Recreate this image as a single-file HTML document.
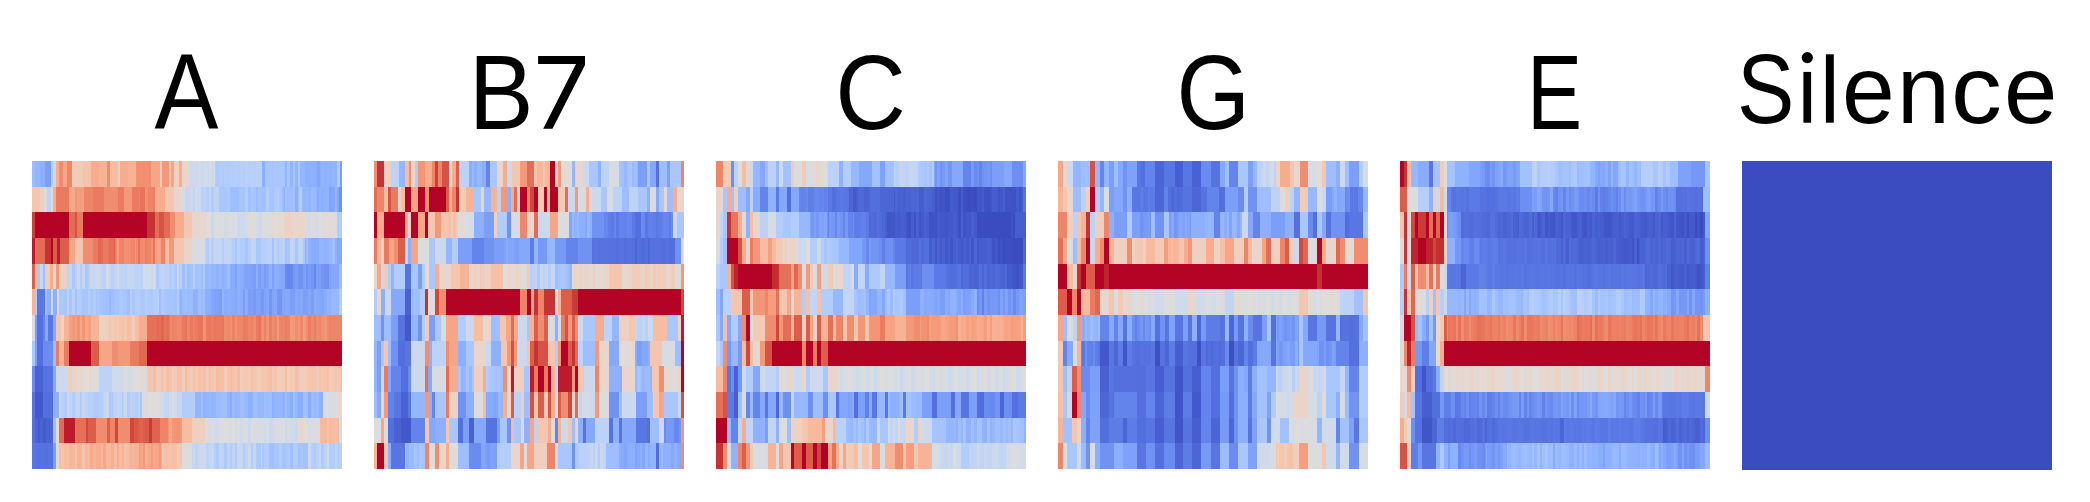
<!DOCTYPE html>
<html><head><meta charset="utf-8"><style>
html,body{margin:0;padding:0;background:#fff;}
body{width:2090px;height:502px;position:relative;overflow:hidden;}
.p{position:absolute;top:161px;display:block;}
.sil{position:absolute;left:1742px;top:161px;width:310px;height:309px;background:#3b4cc0;}
.t{position:absolute;left:0;top:0;transform-origin:0 0;font-family:"Liberation Sans",sans-serif;color:#000;white-space:nowrap;line-height:1;}
</style></head><body>
<svg class="p" style="left:32px" width="310" height="308" viewBox="0 0 310 308" shape-rendering="crispEdges"><rect x="0" y="0" width="3" height="26" fill="#9bbcff"/><rect x="3" y="0" width="5" height="26" fill="#94b6ff"/><rect x="8" y="0" width="5" height="26" fill="#8db0fe"/><rect x="13" y="0" width="6" height="26" fill="#7b9ff9"/><rect x="19" y="0" width="2" height="26" fill="#b3cdfb"/><rect x="21" y="0" width="3" height="26" fill="#cbd8ee"/><rect x="24" y="0" width="3" height="26" fill="#f7ac8e"/><rect x="27" y="0" width="4" height="26" fill="#f18d6f"/><rect x="31" y="0" width="4" height="26" fill="#f6a586"/><rect x="35" y="0" width="5" height="26" fill="#ee8468"/><rect x="40" y="0" width="11" height="26" fill="#f2cbb7"/><rect x="51" y="0" width="8" height="26" fill="#f5c2aa"/><rect x="59" y="0" width="8" height="26" fill="#f7ac8e"/><rect x="67" y="0" width="8" height="26" fill="#f7b396"/><rect x="75" y="0" width="3" height="26" fill="#f18d6f"/><rect x="78" y="0" width="8" height="26" fill="#f6bda2"/><rect x="86" y="0" width="2" height="26" fill="#efcfbf"/><rect x="88" y="0" width="8" height="26" fill="#f7ac8e"/><rect x="96" y="0" width="8" height="26" fill="#f7b396"/><rect x="104" y="0" width="2" height="26" fill="#f29274"/><rect x="106" y="0" width="2" height="26" fill="#f18f71"/><rect x="108" y="0" width="3" height="26" fill="#f29072"/><rect x="111" y="0" width="2" height="26" fill="#f18d6f"/><rect x="113" y="0" width="3" height="26" fill="#f29072"/><rect x="116" y="0" width="3" height="26" fill="#f18d6f"/><rect x="119" y="0" width="9" height="26" fill="#f6a586"/><rect x="128" y="0" width="2" height="26" fill="#f2cbb7"/><rect x="130" y="0" width="7" height="26" fill="#f4987a"/><rect x="137" y="0" width="2" height="26" fill="#f4c6af"/><rect x="139" y="0" width="3" height="26" fill="#f6a586"/><rect x="142" y="0" width="5" height="26" fill="#efcfbf"/><rect x="147" y="0" width="3" height="26" fill="#f7ac8e"/><rect x="150" y="0" width="8" height="26" fill="#e9d5cb"/><rect x="158" y="0" width="3" height="26" fill="#cbd8ee"/><rect x="161" y="0" width="2" height="26" fill="#cedaeb"/><rect x="163" y="0" width="3" height="26" fill="#ccd9ed"/><rect x="166" y="0" width="3" height="26" fill="#cfdaea"/><rect x="169" y="0" width="2" height="26" fill="#ccd9ed"/><rect x="171" y="0" width="3" height="26" fill="#d1dae9"/><rect x="174" y="0" width="3" height="26" fill="#cdd9ec"/><rect x="177" y="0" width="2" height="26" fill="#d2dbe8"/><rect x="179" y="0" width="3" height="26" fill="#cedaeb"/><rect x="182" y="0" width="1" height="26" fill="#d3dbe7"/><rect x="183" y="0" width="1" height="26" fill="#b2ccfb"/><rect x="184" y="0" width="3" height="26" fill="#aec9fc"/><rect x="187" y="0" width="3" height="26" fill="#b3cdfb"/><rect x="190" y="0" width="2" height="26" fill="#afcafc"/><rect x="192" y="0" width="3" height="26" fill="#b3cdfb"/><rect x="195" y="0" width="3" height="26" fill="#b1cbfc"/><rect x="198" y="0" width="2" height="26" fill="#b5cdfa"/><rect x="200" y="0" width="3" height="26" fill="#b2ccfb"/><rect x="203" y="0" width="2" height="26" fill="#b6cefa"/><rect x="205" y="0" width="3" height="26" fill="#b3cdfb"/><rect x="208" y="0" width="3" height="26" fill="#b7cff9"/><rect x="211" y="0" width="2" height="26" fill="#b5cdfa"/><rect x="213" y="0" width="3" height="26" fill="#b9d0f9"/><rect x="216" y="0" width="3" height="26" fill="#b6cefa"/><rect x="219" y="0" width="2" height="26" fill="#bad0f8"/><rect x="221" y="0" width="3" height="26" fill="#b6cefa"/><rect x="224" y="0" width="2" height="26" fill="#bbd1f8"/><rect x="226" y="0" width="3" height="26" fill="#b7cff9"/><rect x="229" y="0" width="1" height="26" fill="#bcd2f7"/><rect x="230" y="0" width="3" height="26" fill="#8db0fe"/><rect x="233" y="0" width="1" height="26" fill="#a7c5fe"/><rect x="234" y="0" width="3" height="26" fill="#a6c4fe"/><rect x="237" y="0" width="3" height="26" fill="#a9c6fd"/><rect x="240" y="0" width="2" height="26" fill="#a6c4fe"/><rect x="242" y="0" width="3" height="26" fill="#aac7fd"/><rect x="245" y="0" width="2" height="26" fill="#a7c5fe"/><rect x="247" y="0" width="3" height="26" fill="#aac7fd"/><rect x="250" y="0" width="3" height="26" fill="#a7c5fe"/><rect x="253" y="0" width="2" height="26" fill="#93b5fe"/><rect x="255" y="0" width="3" height="26" fill="#a9c6fd"/><rect x="258" y="0" width="3" height="26" fill="#93b5fe"/><rect x="261" y="0" width="2" height="26" fill="#aac7fd"/><rect x="263" y="0" width="3" height="26" fill="#94b6ff"/><rect x="266" y="0" width="2" height="26" fill="#abc8fd"/><rect x="268" y="0" width="3" height="26" fill="#94b6ff"/><rect x="271" y="0" width="2" height="26" fill="#93b5fe"/><rect x="273" y="0" width="12" height="26" fill="#8db0fe"/><rect x="285" y="0" width="3" height="26" fill="#82a6fb"/><rect x="288" y="0" width="1" height="26" fill="#8db0fe"/><rect x="289" y="0" width="3" height="26" fill="#92b4fe"/><rect x="292" y="0" width="3" height="26" fill="#8fb1fe"/><rect x="295" y="0" width="2" height="26" fill="#92b4fe"/><rect x="297" y="0" width="3" height="26" fill="#90b2fe"/><rect x="300" y="0" width="3" height="26" fill="#93b5fe"/><rect x="303" y="0" width="2" height="26" fill="#90b2fe"/><rect x="305" y="0" width="3" height="26" fill="#b3cdfb"/><rect x="308" y="0" width="2" height="26" fill="#7b9ff9"/><rect x="0" y="26" width="8" height="25" fill="#f4c6af"/><rect x="8" y="26" width="4" height="25" fill="#efcfbf"/><rect x="12" y="26" width="3" height="25" fill="#dddcdc"/><rect x="15" y="26" width="4" height="25" fill="#bcd2f7"/><rect x="19" y="26" width="2" height="25" fill="#dddcdc"/><rect x="21" y="26" width="3" height="25" fill="#f7ac8e"/><rect x="24" y="26" width="13" height="25" fill="#ea7b60"/><rect x="37" y="26" width="3" height="25" fill="#f7a688"/><rect x="40" y="26" width="3" height="25" fill="#f7a98b"/><rect x="43" y="26" width="2" height="25" fill="#f39778"/><rect x="45" y="26" width="3" height="25" fill="#f59d7e"/><rect x="48" y="26" width="2" height="25" fill="#f59c7d"/><rect x="50" y="26" width="2" height="25" fill="#f5a081"/><rect x="52" y="26" width="9" height="25" fill="#ee8468"/><rect x="61" y="26" width="11" height="25" fill="#ea7b60"/><rect x="72" y="26" width="14" height="25" fill="#f18d6f"/><rect x="86" y="26" width="6" height="25" fill="#ea7b60"/><rect x="92" y="26" width="8" height="25" fill="#f4987a"/><rect x="100" y="26" width="7" height="25" fill="#ea7b60"/><rect x="107" y="26" width="1" height="25" fill="#ed8366"/><rect x="108" y="26" width="5" height="25" fill="#e7745b"/><rect x="113" y="26" width="3" height="25" fill="#f29072"/><rect x="116" y="26" width="3" height="25" fill="#ed8366"/><rect x="119" y="26" width="2" height="25" fill="#ee8468"/><rect x="121" y="26" width="2" height="25" fill="#eb7d62"/><rect x="123" y="26" width="10" height="25" fill="#f7ac8e"/><rect x="133" y="26" width="9" height="25" fill="#f4c6af"/><rect x="142" y="26" width="8" height="25" fill="#e9d5cb"/><rect x="150" y="26" width="3" height="25" fill="#d6dce4"/><rect x="153" y="26" width="2" height="25" fill="#c6d6f1"/><rect x="155" y="26" width="3" height="25" fill="#c7d7f0"/><rect x="158" y="26" width="3" height="25" fill="#cedaeb"/><rect x="161" y="26" width="2" height="25" fill="#c3d5f4"/><rect x="163" y="26" width="3" height="25" fill="#d2dbe8"/><rect x="166" y="26" width="3" height="25" fill="#cbd8ee"/><rect x="169" y="26" width="2" height="25" fill="#b9d0f9"/><rect x="171" y="26" width="3" height="25" fill="#bbd1f8"/><rect x="174" y="26" width="3" height="25" fill="#b5cdfa"/><rect x="177" y="26" width="2" height="25" fill="#c1d4f4"/><rect x="179" y="26" width="3" height="25" fill="#b2ccfb"/><rect x="182" y="26" width="2" height="25" fill="#bfd3f6"/><rect x="184" y="26" width="3" height="25" fill="#c1d4f4"/><rect x="187" y="26" width="3" height="25" fill="#abc8fd"/><rect x="190" y="26" width="2" height="25" fill="#aac7fd"/><rect x="192" y="26" width="3" height="25" fill="#a9c6fd"/><rect x="195" y="26" width="3" height="25" fill="#afcafc"/><rect x="198" y="26" width="9" height="25" fill="#9ebeff"/><rect x="207" y="26" width="1" height="25" fill="#a5c3fe"/><rect x="208" y="26" width="3" height="25" fill="#a7c5fe"/><rect x="211" y="26" width="2" height="25" fill="#a5c3fe"/><rect x="213" y="26" width="3" height="25" fill="#b5cdfa"/><rect x="216" y="26" width="3" height="25" fill="#a1c0ff"/><rect x="219" y="26" width="2" height="25" fill="#abc8fd"/><rect x="221" y="26" width="3" height="25" fill="#a6c4fe"/><rect x="224" y="26" width="2" height="25" fill="#9bbcff"/><rect x="226" y="26" width="3" height="25" fill="#a5c3fe"/><rect x="229" y="26" width="3" height="25" fill="#a1c0ff"/><rect x="232" y="26" width="2" height="25" fill="#a3c2fe"/><rect x="234" y="26" width="3" height="25" fill="#b3cdfb"/><rect x="237" y="26" width="3" height="25" fill="#a7c5fe"/><rect x="240" y="26" width="2" height="25" fill="#a5c3fe"/><rect x="242" y="26" width="3" height="25" fill="#afcafc"/><rect x="245" y="26" width="2" height="25" fill="#b3cdfb"/><rect x="247" y="26" width="3" height="25" fill="#abc8fd"/><rect x="250" y="26" width="2" height="25" fill="#9dbdff"/><rect x="252" y="26" width="1" height="25" fill="#8fb1fe"/><rect x="253" y="26" width="2" height="25" fill="#a1c0ff"/><rect x="255" y="26" width="6" height="25" fill="#9ebeff"/><rect x="261" y="26" width="2" height="25" fill="#a3c2fe"/><rect x="263" y="26" width="3" height="25" fill="#8db0fe"/><rect x="266" y="26" width="1" height="25" fill="#a1c0ff"/><rect x="267" y="26" width="3" height="25" fill="#b3cdfb"/><rect x="270" y="26" width="1" height="25" fill="#98b9ff"/><rect x="271" y="26" width="3" height="25" fill="#94b6ff"/><rect x="274" y="26" width="2" height="25" fill="#97b8ff"/><rect x="276" y="26" width="3" height="25" fill="#92b4fe"/><rect x="279" y="26" width="3" height="25" fill="#9abbff"/><rect x="282" y="26" width="2" height="25" fill="#98b9ff"/><rect x="284" y="26" width="1" height="25" fill="#93b5fe"/><rect x="285" y="26" width="2" height="25" fill="#88abfd"/><rect x="287" y="26" width="2" height="25" fill="#92b4fe"/><rect x="289" y="26" width="3" height="25" fill="#8caffe"/><rect x="292" y="26" width="3" height="25" fill="#90b2fe"/><rect x="295" y="26" width="2" height="25" fill="#92b4fe"/><rect x="297" y="26" width="3" height="25" fill="#81a4fb"/><rect x="300" y="26" width="3" height="25" fill="#84a7fc"/><rect x="303" y="26" width="2" height="25" fill="#94b6ff"/><rect x="305" y="26" width="2" height="25" fill="#84a7fc"/><rect x="307" y="26" width="3" height="25" fill="#7093f3"/><rect x="0" y="51" width="3" height="26" fill="#cc403a"/><rect x="3" y="51" width="34" height="26" fill="#b40426"/><rect x="37" y="51" width="6" height="26" fill="#e36c55"/><rect x="43" y="51" width="2" height="26" fill="#d65244"/><rect x="45" y="51" width="6" height="26" fill="#ea7b60"/><rect x="51" y="51" width="64" height="26" fill="#b40426"/><rect x="115" y="51" width="8" height="26" fill="#c53334"/><rect x="123" y="51" width="4" height="26" fill="#e36c55"/><rect x="127" y="51" width="5" height="26" fill="#d65244"/><rect x="132" y="51" width="6" height="26" fill="#e36c55"/><rect x="138" y="51" width="5" height="26" fill="#f18d6f"/><rect x="143" y="51" width="9" height="26" fill="#f7ac8e"/><rect x="152" y="51" width="8" height="26" fill="#f4c6af"/><rect x="160" y="51" width="13" height="26" fill="#e9d5cb"/><rect x="173" y="51" width="1" height="26" fill="#cfdaea"/><rect x="174" y="51" width="3" height="26" fill="#e0dbd8"/><rect x="177" y="51" width="2" height="26" fill="#dfdbd9"/><rect x="179" y="51" width="3" height="26" fill="#c9d7f0"/><rect x="182" y="51" width="2" height="26" fill="#dddcdc"/><rect x="184" y="51" width="3" height="26" fill="#dbdcde"/><rect x="187" y="51" width="3" height="26" fill="#d6dce4"/><rect x="190" y="51" width="2" height="26" fill="#d9dce1"/><rect x="192" y="51" width="3" height="26" fill="#d5dbe5"/><rect x="195" y="51" width="3" height="26" fill="#d6dce4"/><rect x="198" y="51" width="2" height="26" fill="#dbdcde"/><rect x="200" y="51" width="3" height="26" fill="#d8dce2"/><rect x="203" y="51" width="2" height="26" fill="#d9dce1"/><rect x="205" y="51" width="3" height="26" fill="#cdd9ec"/><rect x="208" y="51" width="3" height="26" fill="#cedaeb"/><rect x="211" y="51" width="2" height="26" fill="#ccd9ed"/><rect x="213" y="51" width="3" height="26" fill="#cfdaea"/><rect x="216" y="51" width="3" height="26" fill="#e0dbd8"/><rect x="219" y="51" width="2" height="26" fill="#dedcdb"/><rect x="221" y="51" width="3" height="26" fill="#e0dbd8"/><rect x="224" y="51" width="2" height="26" fill="#d8dce2"/><rect x="226" y="51" width="3" height="26" fill="#cdd9ec"/><rect x="229" y="51" width="1" height="26" fill="#cad8ef"/><rect x="230" y="51" width="2" height="26" fill="#dadce0"/><rect x="232" y="51" width="2" height="26" fill="#dbdcde"/><rect x="234" y="51" width="3" height="26" fill="#dadce0"/><rect x="237" y="51" width="3" height="26" fill="#d9dce1"/><rect x="240" y="51" width="2" height="26" fill="#e6d7cf"/><rect x="242" y="51" width="3" height="26" fill="#e0dbd8"/><rect x="245" y="51" width="2" height="26" fill="#e7d7ce"/><rect x="247" y="51" width="3" height="26" fill="#e3d9d3"/><rect x="250" y="51" width="2" height="26" fill="#e2dad5"/><rect x="252" y="51" width="1" height="26" fill="#ebd3c6"/><rect x="253" y="51" width="5" height="26" fill="#edd2c3"/><rect x="258" y="51" width="3" height="26" fill="#ecd3c5"/><rect x="261" y="51" width="2" height="26" fill="#e7d7ce"/><rect x="263" y="51" width="5" height="26" fill="#e9d5cb"/><rect x="268" y="51" width="3" height="26" fill="#ead5c9"/><rect x="271" y="51" width="2" height="26" fill="#e4d9d2"/><rect x="273" y="51" width="1" height="26" fill="#d3dbe7"/><rect x="274" y="51" width="2" height="26" fill="#e3d9d3"/><rect x="276" y="51" width="3" height="26" fill="#d3dbe7"/><rect x="279" y="51" width="3" height="26" fill="#e0dbd8"/><rect x="282" y="51" width="2" height="26" fill="#d9dce1"/><rect x="284" y="51" width="3" height="26" fill="#d8dce2"/><rect x="287" y="51" width="2" height="26" fill="#dcdddd"/><rect x="289" y="51" width="3" height="26" fill="#d8dce2"/><rect x="292" y="51" width="3" height="26" fill="#e4d9d2"/><rect x="295" y="51" width="2" height="26" fill="#e1dad6"/><rect x="297" y="51" width="3" height="26" fill="#dfdbd9"/><rect x="300" y="51" width="3" height="26" fill="#e1dad6"/><rect x="303" y="51" width="2" height="26" fill="#dddcdc"/><rect x="305" y="51" width="5" height="26" fill="#b3cdfb"/><rect x="0" y="77" width="3" height="26" fill="#bb1b2c"/><rect x="3" y="77" width="10" height="26" fill="#e36c55"/><rect x="13" y="77" width="6" height="26" fill="#c53334"/><rect x="19" y="77" width="2" height="26" fill="#b40426"/><rect x="21" y="77" width="4" height="26" fill="#dc5d4a"/><rect x="25" y="77" width="3" height="26" fill="#bb1b2c"/><rect x="28" y="77" width="9" height="26" fill="#dc5d4a"/><rect x="37" y="77" width="6" height="26" fill="#f6a586"/><rect x="43" y="77" width="8" height="26" fill="#f4c6af"/><rect x="51" y="77" width="10" height="26" fill="#f18d6f"/><rect x="61" y="77" width="5" height="26" fill="#ea7b60"/><rect x="66" y="77" width="3" height="26" fill="#e16751"/><rect x="69" y="77" width="2" height="26" fill="#e36c55"/><rect x="71" y="77" width="3" height="26" fill="#e97a5f"/><rect x="74" y="77" width="3" height="26" fill="#e9785d"/><rect x="77" y="77" width="2" height="26" fill="#e36c55"/><rect x="79" y="77" width="3" height="26" fill="#e46e56"/><rect x="82" y="77" width="1" height="26" fill="#dd5f4b"/><rect x="83" y="77" width="2" height="26" fill="#ee8468"/><rect x="85" y="77" width="2" height="26" fill="#f59d7e"/><rect x="87" y="77" width="3" height="26" fill="#ee8468"/><rect x="90" y="77" width="2" height="26" fill="#ed8366"/><rect x="92" y="77" width="3" height="26" fill="#f29072"/><rect x="95" y="77" width="3" height="26" fill="#f18f71"/><rect x="98" y="77" width="2" height="26" fill="#f08b6e"/><rect x="100" y="77" width="3" height="26" fill="#ee8669"/><rect x="103" y="77" width="1" height="26" fill="#f39778"/><rect x="104" y="77" width="2" height="26" fill="#f08a6c"/><rect x="106" y="77" width="2" height="26" fill="#e7745b"/><rect x="108" y="77" width="3" height="26" fill="#f08a6c"/><rect x="111" y="77" width="2" height="26" fill="#f18f71"/><rect x="113" y="77" width="3" height="26" fill="#ec8165"/><rect x="116" y="77" width="3" height="26" fill="#ee8669"/><rect x="119" y="77" width="2" height="26" fill="#f29072"/><rect x="121" y="77" width="2" height="26" fill="#e7745b"/><rect x="123" y="77" width="6" height="26" fill="#f6a586"/><rect x="129" y="77" width="4" height="26" fill="#ee8468"/><rect x="133" y="77" width="4" height="26" fill="#f6bda2"/><rect x="137" y="77" width="5" height="26" fill="#f4987a"/><rect x="142" y="77" width="10" height="26" fill="#f4c6af"/><rect x="152" y="77" width="8" height="26" fill="#ebd3c6"/><rect x="160" y="77" width="13" height="26" fill="#d7dce3"/><rect x="173" y="77" width="1" height="26" fill="#bcd2f7"/><rect x="174" y="77" width="3" height="26" fill="#b3cdfb"/><rect x="177" y="77" width="2" height="26" fill="#c7d7f0"/><rect x="179" y="77" width="3" height="26" fill="#b7cff9"/><rect x="182" y="77" width="2" height="26" fill="#c6d6f1"/><rect x="184" y="77" width="3" height="26" fill="#c3d5f4"/><rect x="187" y="77" width="3" height="26" fill="#c6d6f1"/><rect x="190" y="77" width="2" height="26" fill="#b5cdfa"/><rect x="192" y="77" width="3" height="26" fill="#c4d5f3"/><rect x="195" y="77" width="3" height="26" fill="#c3d5f4"/><rect x="198" y="77" width="1" height="26" fill="#c4d5f3"/><rect x="199" y="77" width="1" height="26" fill="#bbd1f8"/><rect x="200" y="77" width="3" height="26" fill="#b5cdfa"/><rect x="203" y="77" width="2" height="26" fill="#a9c6fd"/><rect x="205" y="77" width="3" height="26" fill="#bcd2f7"/><rect x="208" y="77" width="3" height="26" fill="#b3cdfb"/><rect x="211" y="77" width="2" height="26" fill="#b2ccfb"/><rect x="213" y="77" width="3" height="26" fill="#a7c5fe"/><rect x="216" y="77" width="3" height="26" fill="#b6cefa"/><rect x="219" y="77" width="2" height="26" fill="#c3d5f4"/><rect x="221" y="77" width="3" height="26" fill="#c4d5f3"/><rect x="224" y="77" width="2" height="26" fill="#a6c4fe"/><rect x="226" y="77" width="3" height="26" fill="#aac7fd"/><rect x="229" y="77" width="5" height="26" fill="#b6cefa"/><rect x="234" y="77" width="3" height="26" fill="#bbd1f8"/><rect x="237" y="77" width="3" height="26" fill="#bcd2f7"/><rect x="240" y="77" width="2" height="26" fill="#a5c3fe"/><rect x="242" y="77" width="3" height="26" fill="#bcd2f7"/><rect x="245" y="77" width="2" height="26" fill="#b3cdfb"/><rect x="247" y="77" width="3" height="26" fill="#bad0f8"/><rect x="250" y="77" width="3" height="26" fill="#bed2f6"/><rect x="253" y="77" width="2" height="26" fill="#a3c2fe"/><rect x="255" y="77" width="3" height="26" fill="#a7c5fe"/><rect x="258" y="77" width="3" height="26" fill="#c4d5f3"/><rect x="261" y="77" width="2" height="26" fill="#c1d4f4"/><rect x="263" y="77" width="3" height="26" fill="#abc8fd"/><rect x="266" y="77" width="5" height="26" fill="#c1d4f4"/><rect x="271" y="77" width="2" height="26" fill="#aac7fd"/><rect x="273" y="77" width="1" height="26" fill="#8db0fe"/><rect x="274" y="77" width="2" height="26" fill="#9ebeff"/><rect x="276" y="77" width="3" height="26" fill="#90b2fe"/><rect x="279" y="77" width="3" height="26" fill="#89acfd"/><rect x="282" y="77" width="2" height="26" fill="#88abfd"/><rect x="284" y="77" width="3" height="26" fill="#89acfd"/><rect x="287" y="77" width="2" height="26" fill="#94b6ff"/><rect x="289" y="77" width="3" height="26" fill="#93b5fe"/><rect x="292" y="77" width="3" height="26" fill="#8fb1fe"/><rect x="295" y="77" width="2" height="26" fill="#93b5fe"/><rect x="297" y="77" width="3" height="26" fill="#97b8ff"/><rect x="300" y="77" width="3" height="26" fill="#9fbfff"/><rect x="303" y="77" width="2" height="26" fill="#8db0fe"/><rect x="305" y="77" width="5" height="26" fill="#85a8fc"/><rect x="0" y="103" width="3" height="25" fill="#dc5d4a"/><rect x="3" y="103" width="2" height="25" fill="#f6bda2"/><rect x="5" y="103" width="3" height="25" fill="#a9c6fd"/><rect x="8" y="103" width="3" height="25" fill="#cbd8ee"/><rect x="11" y="103" width="2" height="25" fill="#9ebeff"/><rect x="13" y="103" width="5" height="25" fill="#efcfbf"/><rect x="18" y="103" width="3" height="25" fill="#f7ac8e"/><rect x="21" y="103" width="3" height="25" fill="#e9d5cb"/><rect x="24" y="103" width="3" height="25" fill="#f4987a"/><rect x="27" y="103" width="8" height="25" fill="#efcfbf"/><rect x="35" y="103" width="2" height="25" fill="#c4d5f3"/><rect x="37" y="103" width="3" height="25" fill="#c6d6f1"/><rect x="40" y="103" width="3" height="25" fill="#abc8fd"/><rect x="43" y="103" width="2" height="25" fill="#bad0f8"/><rect x="45" y="103" width="3" height="25" fill="#cbd8ee"/><rect x="48" y="103" width="2" height="25" fill="#b2ccfb"/><rect x="50" y="103" width="3" height="25" fill="#c6d6f1"/><rect x="53" y="103" width="3" height="25" fill="#abc8fd"/><rect x="56" y="103" width="2" height="25" fill="#b7cff9"/><rect x="58" y="103" width="3" height="25" fill="#cad8ef"/><rect x="61" y="103" width="3" height="25" fill="#c5d6f2"/><rect x="64" y="103" width="2" height="25" fill="#cedaeb"/><rect x="66" y="103" width="3" height="25" fill="#cbd8ee"/><rect x="69" y="103" width="2" height="25" fill="#c0d4f5"/><rect x="71" y="103" width="3" height="25" fill="#bcd2f7"/><rect x="74" y="103" width="3" height="25" fill="#d2dbe8"/><rect x="77" y="103" width="2" height="25" fill="#c5d6f2"/><rect x="79" y="103" width="3" height="25" fill="#bad0f8"/><rect x="82" y="103" width="1" height="25" fill="#c0d4f5"/><rect x="83" y="103" width="2" height="25" fill="#c4d5f3"/><rect x="85" y="103" width="2" height="25" fill="#d1dae9"/><rect x="87" y="103" width="3" height="25" fill="#c1d4f4"/><rect x="90" y="103" width="2" height="25" fill="#c3d5f4"/><rect x="92" y="103" width="3" height="25" fill="#bcd2f7"/><rect x="95" y="103" width="3" height="25" fill="#c7d7f0"/><rect x="98" y="103" width="5" height="25" fill="#c5d6f2"/><rect x="103" y="103" width="3" height="25" fill="#bed2f6"/><rect x="106" y="103" width="2" height="25" fill="#c0d4f5"/><rect x="108" y="103" width="3" height="25" fill="#bcd2f7"/><rect x="111" y="103" width="2" height="25" fill="#d2dbe8"/><rect x="113" y="103" width="3" height="25" fill="#cfdaea"/><rect x="116" y="103" width="3" height="25" fill="#d1dae9"/><rect x="119" y="103" width="2" height="25" fill="#ccd9ed"/><rect x="121" y="103" width="2" height="25" fill="#d6dce4"/><rect x="123" y="103" width="1" height="25" fill="#cad8ef"/><rect x="124" y="103" width="3" height="25" fill="#adc9fd"/><rect x="127" y="103" width="2" height="25" fill="#bbd1f8"/><rect x="129" y="103" width="3" height="25" fill="#c3d5f4"/><rect x="132" y="103" width="5" height="25" fill="#bed2f6"/><rect x="137" y="103" width="3" height="25" fill="#b1cbfc"/><rect x="140" y="103" width="2" height="25" fill="#b9d0f9"/><rect x="142" y="103" width="3" height="25" fill="#aec9fc"/><rect x="145" y="103" width="2" height="25" fill="#c9d7f0"/><rect x="147" y="103" width="1" height="25" fill="#b5cdfa"/><rect x="148" y="103" width="2" height="25" fill="#b7cff9"/><rect x="150" y="103" width="3" height="25" fill="#a1c0ff"/><rect x="153" y="103" width="2" height="25" fill="#b2ccfb"/><rect x="155" y="103" width="3" height="25" fill="#9ebeff"/><rect x="158" y="103" width="3" height="25" fill="#a5c3fe"/><rect x="161" y="103" width="2" height="25" fill="#b9d0f9"/><rect x="163" y="103" width="3" height="25" fill="#a3c2fe"/><rect x="166" y="103" width="3" height="25" fill="#a7c5fe"/><rect x="169" y="103" width="2" height="25" fill="#9ebeff"/><rect x="171" y="103" width="2" height="25" fill="#aec9fc"/><rect x="173" y="103" width="4" height="25" fill="#97b8ff"/><rect x="177" y="103" width="2" height="25" fill="#9bbcff"/><rect x="179" y="103" width="3" height="25" fill="#93b5fe"/><rect x="182" y="103" width="2" height="25" fill="#98b9ff"/><rect x="184" y="103" width="3" height="25" fill="#90b2fe"/><rect x="187" y="103" width="3" height="25" fill="#96b7ff"/><rect x="190" y="103" width="2" height="25" fill="#8db0fe"/><rect x="192" y="103" width="3" height="25" fill="#93b5fe"/><rect x="195" y="103" width="3" height="25" fill="#9bbcff"/><rect x="198" y="103" width="1" height="25" fill="#90b2fe"/><rect x="199" y="103" width="1" height="25" fill="#82a6fb"/><rect x="200" y="103" width="3" height="25" fill="#88abfd"/><rect x="203" y="103" width="2" height="25" fill="#80a3fa"/><rect x="205" y="103" width="3" height="25" fill="#90b2fe"/><rect x="208" y="103" width="3" height="25" fill="#89acfd"/><rect x="211" y="103" width="2" height="25" fill="#85a8fc"/><rect x="213" y="103" width="6" height="25" fill="#80a3fa"/><rect x="219" y="103" width="2" height="25" fill="#7ea1fa"/><rect x="221" y="103" width="3" height="25" fill="#7b9ff9"/><rect x="224" y="103" width="2" height="25" fill="#8caffe"/><rect x="226" y="103" width="3" height="25" fill="#7b9ff9"/><rect x="229" y="103" width="3" height="25" fill="#82a6fb"/><rect x="232" y="103" width="2" height="25" fill="#7a9df8"/><rect x="234" y="103" width="3" height="25" fill="#80a3fa"/><rect x="237" y="103" width="3" height="25" fill="#90b2fe"/><rect x="240" y="103" width="2" height="25" fill="#7da0f9"/><rect x="242" y="103" width="5" height="25" fill="#8badfd"/><rect x="247" y="103" width="3" height="25" fill="#86a9fc"/><rect x="250" y="103" width="3" height="25" fill="#84a7fc"/><rect x="253" y="103" width="2" height="25" fill="#6a8bef"/><rect x="255" y="103" width="3" height="25" fill="#6485ec"/><rect x="258" y="103" width="3" height="25" fill="#6788ee"/><rect x="261" y="103" width="2" height="25" fill="#7597f6"/><rect x="263" y="103" width="3" height="25" fill="#7a9df8"/><rect x="266" y="103" width="5" height="25" fill="#7093f3"/><rect x="271" y="103" width="3" height="25" fill="#7da0f9"/><rect x="274" y="103" width="2" height="25" fill="#6f92f3"/><rect x="276" y="103" width="3" height="25" fill="#7a9df8"/><rect x="279" y="103" width="3" height="25" fill="#7396f5"/><rect x="282" y="103" width="2" height="25" fill="#6788ee"/><rect x="284" y="103" width="5" height="25" fill="#7b9ff9"/><rect x="289" y="103" width="3" height="25" fill="#7396f5"/><rect x="292" y="103" width="5" height="25" fill="#7093f3"/><rect x="297" y="103" width="2" height="25" fill="#7da0f9"/><rect x="299" y="103" width="8" height="25" fill="#85a8fc"/><rect x="307" y="103" width="3" height="25" fill="#9ebeff"/><rect x="0" y="128" width="3" height="26" fill="#f7b396"/><rect x="3" y="128" width="2" height="26" fill="#b3cdfb"/><rect x="5" y="128" width="8" height="26" fill="#5977e3"/><rect x="13" y="128" width="2" height="26" fill="#9ebeff"/><rect x="15" y="128" width="4" height="26" fill="#8db0fe"/><rect x="19" y="128" width="2" height="26" fill="#cbd8ee"/><rect x="21" y="128" width="4" height="26" fill="#8db0fe"/><rect x="25" y="128" width="2" height="26" fill="#dddcdc"/><rect x="27" y="128" width="5" height="26" fill="#abc8fd"/><rect x="32" y="128" width="3" height="26" fill="#a9c6fd"/><rect x="35" y="128" width="2" height="26" fill="#bad0f8"/><rect x="37" y="128" width="3" height="26" fill="#aac7fd"/><rect x="40" y="128" width="3" height="26" fill="#b9d0f9"/><rect x="43" y="128" width="2" height="26" fill="#a3c2fe"/><rect x="45" y="128" width="3" height="26" fill="#b6cefa"/><rect x="48" y="128" width="2" height="26" fill="#b2ccfb"/><rect x="50" y="128" width="3" height="26" fill="#a7c5fe"/><rect x="53" y="128" width="3" height="26" fill="#a6c4fe"/><rect x="56" y="128" width="2" height="26" fill="#b6cefa"/><rect x="58" y="128" width="3" height="26" fill="#aac7fd"/><rect x="61" y="128" width="3" height="26" fill="#b3cdfb"/><rect x="64" y="128" width="2" height="26" fill="#a5c3fe"/><rect x="66" y="128" width="1" height="26" fill="#afcafc"/><rect x="67" y="128" width="2" height="26" fill="#a6c4fe"/><rect x="69" y="128" width="2" height="26" fill="#a5c3fe"/><rect x="71" y="128" width="3" height="26" fill="#a2c1ff"/><rect x="74" y="128" width="3" height="26" fill="#a1c0ff"/><rect x="77" y="128" width="2" height="26" fill="#97b8ff"/><rect x="79" y="128" width="3" height="26" fill="#9fbfff"/><rect x="82" y="128" width="3" height="26" fill="#a6c4fe"/><rect x="85" y="128" width="2" height="26" fill="#a5c3fe"/><rect x="87" y="128" width="3" height="26" fill="#adc9fd"/><rect x="90" y="128" width="2" height="26" fill="#aac7fd"/><rect x="92" y="128" width="3" height="26" fill="#a7c5fe"/><rect x="95" y="128" width="3" height="26" fill="#9fbfff"/><rect x="98" y="128" width="2" height="26" fill="#b7cff9"/><rect x="100" y="128" width="3" height="26" fill="#a9c6fd"/><rect x="103" y="128" width="3" height="26" fill="#b3cdfb"/><rect x="106" y="128" width="2" height="26" fill="#b5cdfa"/><rect x="108" y="128" width="3" height="26" fill="#aec9fc"/><rect x="111" y="128" width="2" height="26" fill="#abc8fd"/><rect x="113" y="128" width="3" height="26" fill="#b6cefa"/><rect x="116" y="128" width="5" height="26" fill="#adc9fd"/><rect x="121" y="128" width="3" height="26" fill="#b2ccfb"/><rect x="124" y="128" width="3" height="26" fill="#b6cefa"/><rect x="127" y="128" width="2" height="26" fill="#9ebeff"/><rect x="129" y="128" width="3" height="26" fill="#b1cbfc"/><rect x="132" y="128" width="2" height="26" fill="#aac7fd"/><rect x="134" y="128" width="8" height="26" fill="#a6c4fe"/><rect x="142" y="128" width="3" height="26" fill="#a3c2fe"/><rect x="145" y="128" width="2" height="26" fill="#b1cbfc"/><rect x="147" y="128" width="1" height="26" fill="#9dbdff"/><rect x="148" y="128" width="2" height="26" fill="#8fb1fe"/><rect x="150" y="128" width="3" height="26" fill="#9bbcff"/><rect x="153" y="128" width="2" height="26" fill="#9ebeff"/><rect x="155" y="128" width="3" height="26" fill="#9abbff"/><rect x="158" y="128" width="3" height="26" fill="#9bbcff"/><rect x="161" y="128" width="2" height="26" fill="#8db0fe"/><rect x="163" y="128" width="3" height="26" fill="#90b2fe"/><rect x="166" y="128" width="3" height="26" fill="#9fbfff"/><rect x="169" y="128" width="2" height="26" fill="#9abbff"/><rect x="171" y="128" width="2" height="26" fill="#9ebeff"/><rect x="173" y="128" width="1" height="26" fill="#8caffe"/><rect x="174" y="128" width="3" height="26" fill="#8db0fe"/><rect x="177" y="128" width="2" height="26" fill="#8caffe"/><rect x="179" y="128" width="3" height="26" fill="#84a7fc"/><rect x="182" y="128" width="2" height="26" fill="#7ea1fa"/><rect x="184" y="128" width="3" height="26" fill="#80a3fa"/><rect x="187" y="128" width="3" height="26" fill="#7b9ff9"/><rect x="190" y="128" width="2" height="26" fill="#92b4fe"/><rect x="192" y="128" width="3" height="26" fill="#89acfd"/><rect x="195" y="128" width="3" height="26" fill="#8caffe"/><rect x="198" y="128" width="5" height="26" fill="#89acfd"/><rect x="203" y="128" width="2" height="26" fill="#84a7fc"/><rect x="205" y="128" width="3" height="26" fill="#8caffe"/><rect x="208" y="128" width="3" height="26" fill="#89acfd"/><rect x="211" y="128" width="2" height="26" fill="#7a9df8"/><rect x="213" y="128" width="2" height="26" fill="#8caffe"/><rect x="215" y="128" width="1" height="26" fill="#85a8fc"/><rect x="216" y="128" width="3" height="26" fill="#7a9df8"/><rect x="219" y="128" width="2" height="26" fill="#7b9ff9"/><rect x="221" y="128" width="3" height="26" fill="#7699f6"/><rect x="224" y="128" width="2" height="26" fill="#80a3fa"/><rect x="226" y="128" width="3" height="26" fill="#7ea1fa"/><rect x="229" y="128" width="3" height="26" fill="#7597f6"/><rect x="232" y="128" width="2" height="26" fill="#7ea1fa"/><rect x="234" y="128" width="3" height="26" fill="#82a6fb"/><rect x="237" y="128" width="3" height="26" fill="#7396f5"/><rect x="240" y="128" width="2" height="26" fill="#81a4fb"/><rect x="242" y="128" width="3" height="26" fill="#85a8fc"/><rect x="245" y="128" width="2" height="26" fill="#7597f6"/><rect x="247" y="128" width="3" height="26" fill="#7396f5"/><rect x="250" y="128" width="3" height="26" fill="#82a6fb"/><rect x="253" y="128" width="5" height="26" fill="#86a9fc"/><rect x="258" y="128" width="5" height="26" fill="#7b9ff9"/><rect x="263" y="128" width="3" height="26" fill="#85a8fc"/><rect x="266" y="128" width="2" height="26" fill="#81a4fb"/><rect x="268" y="128" width="3" height="26" fill="#86a9fc"/><rect x="271" y="128" width="3" height="26" fill="#7b9ff9"/><rect x="274" y="128" width="2" height="26" fill="#7da0f9"/><rect x="276" y="128" width="3" height="26" fill="#84a7fc"/><rect x="279" y="128" width="3" height="26" fill="#7a9df8"/><rect x="282" y="128" width="2" height="26" fill="#89acfd"/><rect x="284" y="128" width="3" height="26" fill="#86a9fc"/><rect x="287" y="128" width="2" height="26" fill="#84a7fc"/><rect x="289" y="128" width="3" height="26" fill="#82a6fb"/><rect x="292" y="128" width="3" height="26" fill="#89acfd"/><rect x="295" y="128" width="2" height="26" fill="#92b4fe"/><rect x="297" y="128" width="2" height="26" fill="#90b2fe"/><rect x="299" y="128" width="8" height="26" fill="#97b8ff"/><rect x="307" y="128" width="3" height="26" fill="#b3cdfb"/><rect x="0" y="154" width="3" height="26" fill="#d7dce3"/><rect x="3" y="154" width="2" height="26" fill="#7b9ff9"/><rect x="5" y="154" width="6" height="26" fill="#536edd"/><rect x="11" y="154" width="2" height="26" fill="#6384eb"/><rect x="13" y="154" width="3" height="26" fill="#85a8fc"/><rect x="16" y="154" width="5" height="26" fill="#5977e3"/><rect x="21" y="154" width="3" height="26" fill="#85a8fc"/><rect x="24" y="154" width="5" height="26" fill="#f4c6af"/><rect x="29" y="154" width="3" height="26" fill="#e9d5cb"/><rect x="32" y="154" width="5" height="26" fill="#f7b396"/><rect x="37" y="154" width="3" height="26" fill="#f5a081"/><rect x="40" y="154" width="3" height="26" fill="#f39778"/><rect x="43" y="154" width="2" height="26" fill="#f59d7e"/><rect x="45" y="154" width="3" height="26" fill="#f29072"/><rect x="48" y="154" width="2" height="26" fill="#f6a586"/><rect x="50" y="154" width="3" height="26" fill="#f39475"/><rect x="53" y="154" width="3" height="26" fill="#f7a889"/><rect x="56" y="154" width="3" height="26" fill="#f59f80"/><rect x="59" y="154" width="8" height="26" fill="#f7b396"/><rect x="67" y="154" width="8" height="26" fill="#efcfbf"/><rect x="75" y="154" width="2" height="26" fill="#f1ccb8"/><rect x="77" y="154" width="2" height="26" fill="#f4c6af"/><rect x="79" y="154" width="3" height="26" fill="#f0cdbb"/><rect x="82" y="154" width="3" height="26" fill="#f3c8b2"/><rect x="85" y="154" width="2" height="26" fill="#f1ccb8"/><rect x="87" y="154" width="3" height="26" fill="#f5c4ac"/><rect x="90" y="154" width="2" height="26" fill="#f6bfa6"/><rect x="92" y="154" width="3" height="26" fill="#f4c6af"/><rect x="95" y="154" width="3" height="26" fill="#f6bda2"/><rect x="98" y="154" width="2" height="26" fill="#f5c1a9"/><rect x="100" y="154" width="3" height="26" fill="#f1cdba"/><rect x="103" y="154" width="3" height="26" fill="#f6bea4"/><rect x="106" y="154" width="1" height="26" fill="#f7bca1"/><rect x="107" y="154" width="8" height="26" fill="#f7ac8e"/><rect x="115" y="154" width="8" height="26" fill="#e57058"/><rect x="123" y="154" width="1" height="26" fill="#e7745b"/><rect x="124" y="154" width="3" height="26" fill="#e36c55"/><rect x="127" y="154" width="2" height="26" fill="#e46e56"/><rect x="129" y="154" width="3" height="26" fill="#e0654f"/><rect x="132" y="154" width="2" height="26" fill="#e7745b"/><rect x="134" y="154" width="3" height="26" fill="#e46e56"/><rect x="137" y="154" width="1" height="26" fill="#e9785d"/><rect x="138" y="154" width="2" height="26" fill="#f08a6c"/><rect x="140" y="154" width="2" height="26" fill="#ec8165"/><rect x="142" y="154" width="3" height="26" fill="#ee8468"/><rect x="145" y="154" width="3" height="26" fill="#f08a6c"/><rect x="148" y="154" width="2" height="26" fill="#ef886b"/><rect x="150" y="154" width="3" height="26" fill="#e97a5f"/><rect x="153" y="154" width="2" height="26" fill="#e8765c"/><rect x="155" y="154" width="3" height="26" fill="#ee8468"/><rect x="158" y="154" width="3" height="26" fill="#e9785d"/><rect x="161" y="154" width="2" height="26" fill="#ed8366"/><rect x="163" y="154" width="3" height="26" fill="#ea7b60"/><rect x="166" y="154" width="3" height="26" fill="#e7745b"/><rect x="169" y="154" width="2" height="26" fill="#e8765c"/><rect x="171" y="154" width="3" height="26" fill="#f29274"/><rect x="174" y="154" width="3" height="26" fill="#e97a5f"/><rect x="177" y="154" width="2" height="26" fill="#e8765c"/><rect x="179" y="154" width="3" height="26" fill="#eb7d62"/><rect x="182" y="154" width="2" height="26" fill="#e8765c"/><rect x="184" y="154" width="3" height="26" fill="#e9785d"/><rect x="187" y="154" width="3" height="26" fill="#e97a5f"/><rect x="190" y="154" width="2" height="26" fill="#e8765c"/><rect x="192" y="154" width="3" height="26" fill="#f18d6f"/><rect x="195" y="154" width="3" height="26" fill="#ef886b"/><rect x="198" y="154" width="2" height="26" fill="#f18f71"/><rect x="200" y="154" width="3" height="26" fill="#ed8366"/><rect x="203" y="154" width="2" height="26" fill="#f18f71"/><rect x="205" y="154" width="6" height="26" fill="#ee8669"/><rect x="211" y="154" width="2" height="26" fill="#ea7b60"/><rect x="213" y="154" width="3" height="26" fill="#eb7d62"/><rect x="216" y="154" width="3" height="26" fill="#ee8669"/><rect x="219" y="154" width="2" height="26" fill="#ec8165"/><rect x="221" y="154" width="3" height="26" fill="#f08a6c"/><rect x="224" y="154" width="2" height="26" fill="#ea7b60"/><rect x="226" y="154" width="3" height="26" fill="#e7745b"/><rect x="229" y="154" width="1" height="26" fill="#ef886b"/><rect x="230" y="154" width="2" height="26" fill="#f29072"/><rect x="232" y="154" width="2" height="26" fill="#ec8165"/><rect x="234" y="154" width="3" height="26" fill="#f29274"/><rect x="237" y="154" width="3" height="26" fill="#eb7d62"/><rect x="240" y="154" width="2" height="26" fill="#f18d6f"/><rect x="242" y="154" width="3" height="26" fill="#ee8669"/><rect x="245" y="154" width="2" height="26" fill="#f4987a"/><rect x="247" y="154" width="6" height="26" fill="#ee8468"/><rect x="253" y="154" width="2" height="26" fill="#ec7f63"/><rect x="255" y="154" width="3" height="26" fill="#ed8366"/><rect x="258" y="154" width="5" height="26" fill="#f49a7b"/><rect x="263" y="154" width="3" height="26" fill="#f18d6f"/><rect x="266" y="154" width="2" height="26" fill="#f39475"/><rect x="268" y="154" width="3" height="26" fill="#ef886b"/><rect x="271" y="154" width="3" height="26" fill="#f59c7d"/><rect x="274" y="154" width="2" height="26" fill="#f08b6e"/><rect x="276" y="154" width="3" height="26" fill="#eb7d62"/><rect x="279" y="154" width="3" height="26" fill="#f08a6c"/><rect x="282" y="154" width="2" height="26" fill="#ec7f63"/><rect x="284" y="154" width="3" height="26" fill="#f08b6e"/><rect x="287" y="154" width="2" height="26" fill="#ee8468"/><rect x="289" y="154" width="3" height="26" fill="#f18f71"/><rect x="292" y="154" width="3" height="26" fill="#f39577"/><rect x="295" y="154" width="2" height="26" fill="#f08a6c"/><rect x="297" y="154" width="2" height="26" fill="#ed8366"/><rect x="299" y="154" width="11" height="26" fill="#ee8468"/><rect x="0" y="180" width="3" height="25" fill="#a9c6fd"/><rect x="3" y="180" width="2" height="25" fill="#7b9ff9"/><rect x="5" y="180" width="6" height="25" fill="#536edd"/><rect x="11" y="180" width="10" height="25" fill="#6a8bef"/><rect x="21" y="180" width="3" height="25" fill="#9ebeff"/><rect x="24" y="180" width="3" height="25" fill="#ea7b60"/><rect x="27" y="180" width="5" height="25" fill="#f7b396"/><rect x="32" y="180" width="5" height="25" fill="#ea7b60"/><rect x="37" y="180" width="22" height="25" fill="#b40426"/><rect x="59" y="180" width="8" height="25" fill="#dc5d4a"/><rect x="67" y="180" width="13" height="25" fill="#f6a586"/><rect x="80" y="180" width="6" height="25" fill="#f18d6f"/><rect x="86" y="180" width="12" height="25" fill="#f4987a"/><rect x="98" y="180" width="9" height="25" fill="#ea7b60"/><rect x="107" y="180" width="8" height="25" fill="#e16751"/><rect x="115" y="180" width="195" height="25" fill="#b40426"/><rect x="0" y="205" width="3" height="26" fill="#6a8bef"/><rect x="3" y="205" width="8" height="26" fill="#4961d2"/><rect x="11" y="205" width="10" height="26" fill="#5673e0"/><rect x="21" y="205" width="3" height="26" fill="#85a8fc"/><rect x="24" y="205" width="11" height="26" fill="#cbd8ee"/><rect x="35" y="205" width="2" height="26" fill="#edd2c3"/><rect x="37" y="205" width="3" height="26" fill="#efcebd"/><rect x="40" y="205" width="3" height="26" fill="#e9d5cb"/><rect x="43" y="205" width="2" height="26" fill="#ecd3c5"/><rect x="45" y="205" width="3" height="26" fill="#e3d9d3"/><rect x="48" y="205" width="2" height="26" fill="#ead5c9"/><rect x="50" y="205" width="3" height="26" fill="#e5d8d1"/><rect x="53" y="205" width="5" height="26" fill="#e1dad6"/><rect x="58" y="205" width="1" height="26" fill="#eed0c0"/><rect x="59" y="205" width="8" height="26" fill="#dddcdc"/><rect x="67" y="205" width="13" height="26" fill="#bcd2f7"/><rect x="80" y="205" width="12" height="26" fill="#cfdaea"/><rect x="92" y="205" width="3" height="26" fill="#dbdcde"/><rect x="95" y="205" width="5" height="26" fill="#d5dbe5"/><rect x="100" y="205" width="3" height="26" fill="#dadce0"/><rect x="103" y="205" width="3" height="26" fill="#dbdcde"/><rect x="106" y="205" width="2" height="26" fill="#e2dad5"/><rect x="108" y="205" width="3" height="26" fill="#e3d9d3"/><rect x="111" y="205" width="2" height="26" fill="#e0dbd8"/><rect x="113" y="205" width="2" height="26" fill="#d5dbe5"/><rect x="115" y="205" width="1" height="26" fill="#f1ccb8"/><rect x="116" y="205" width="3" height="26" fill="#f5c4ac"/><rect x="119" y="205" width="2" height="26" fill="#f2c9b4"/><rect x="121" y="205" width="3" height="26" fill="#f6bda2"/><rect x="124" y="205" width="3" height="26" fill="#f0cdbb"/><rect x="127" y="205" width="2" height="26" fill="#f2cab5"/><rect x="129" y="205" width="3" height="26" fill="#f5c2aa"/><rect x="132" y="205" width="2" height="26" fill="#f1cdba"/><rect x="134" y="205" width="3" height="26" fill="#f5c0a7"/><rect x="137" y="205" width="3" height="26" fill="#f5c4ac"/><rect x="140" y="205" width="2" height="26" fill="#f1cdba"/><rect x="142" y="205" width="3" height="26" fill="#f2cbb7"/><rect x="145" y="205" width="3" height="26" fill="#f5c1a9"/><rect x="148" y="205" width="2" height="26" fill="#f5c0a7"/><rect x="150" y="205" width="3" height="26" fill="#f1cdba"/><rect x="153" y="205" width="2" height="26" fill="#f6bda2"/><rect x="155" y="205" width="3" height="26" fill="#f5c4ac"/><rect x="158" y="205" width="3" height="26" fill="#f0cdbb"/><rect x="161" y="205" width="2" height="26" fill="#f5c0a7"/><rect x="163" y="205" width="3" height="26" fill="#f3c8b2"/><rect x="166" y="205" width="3" height="26" fill="#f5c1a9"/><rect x="169" y="205" width="2" height="26" fill="#f3c8b2"/><rect x="171" y="205" width="3" height="26" fill="#f5c0a7"/><rect x="174" y="205" width="3" height="26" fill="#f2cbb7"/><rect x="177" y="205" width="2" height="26" fill="#f6bea4"/><rect x="179" y="205" width="3" height="26" fill="#f4c6af"/><rect x="182" y="205" width="2" height="26" fill="#f2cbb7"/><rect x="184" y="205" width="3" height="26" fill="#f6bda2"/><rect x="187" y="205" width="3" height="26" fill="#f5c0a7"/><rect x="190" y="205" width="2" height="26" fill="#f6bfa6"/><rect x="192" y="205" width="3" height="26" fill="#f0cdbb"/><rect x="195" y="205" width="3" height="26" fill="#f5c4ac"/><rect x="198" y="205" width="2" height="26" fill="#f7bca1"/><rect x="200" y="205" width="3" height="26" fill="#f5c2aa"/><rect x="203" y="205" width="2" height="26" fill="#f3c8b2"/><rect x="205" y="205" width="3" height="26" fill="#f6bda2"/><rect x="208" y="205" width="3" height="26" fill="#f1cdba"/><rect x="211" y="205" width="2" height="26" fill="#f2c9b4"/><rect x="213" y="205" width="3" height="26" fill="#f3c7b1"/><rect x="216" y="205" width="3" height="26" fill="#f1ccb8"/><rect x="219" y="205" width="2" height="26" fill="#f6bfa6"/><rect x="221" y="205" width="3" height="26" fill="#f3c7b1"/><rect x="224" y="205" width="2" height="26" fill="#f2cab5"/><rect x="226" y="205" width="3" height="26" fill="#f1cdba"/><rect x="229" y="205" width="3" height="26" fill="#f3c7b1"/><rect x="232" y="205" width="2" height="26" fill="#f3c8b2"/><rect x="234" y="205" width="3" height="26" fill="#f5c2aa"/><rect x="237" y="205" width="3" height="26" fill="#f6bea4"/><rect x="240" y="205" width="2" height="26" fill="#f2cbb7"/><rect x="242" y="205" width="3" height="26" fill="#f4c5ad"/><rect x="245" y="205" width="5" height="26" fill="#f1cdba"/><rect x="250" y="205" width="3" height="26" fill="#f0cdbb"/><rect x="253" y="205" width="2" height="26" fill="#f6bea4"/><rect x="255" y="205" width="3" height="26" fill="#f1cdba"/><rect x="258" y="205" width="3" height="26" fill="#f2c9b4"/><rect x="261" y="205" width="2" height="26" fill="#f1cdba"/><rect x="263" y="205" width="3" height="26" fill="#f6bea4"/><rect x="266" y="205" width="2" height="26" fill="#f3c7b1"/><rect x="268" y="205" width="3" height="26" fill="#efcebd"/><rect x="271" y="205" width="3" height="26" fill="#f1cdba"/><rect x="274" y="205" width="2" height="26" fill="#f2c9b4"/><rect x="276" y="205" width="3" height="26" fill="#f5c4ac"/><rect x="279" y="205" width="5" height="26" fill="#f4c5ad"/><rect x="284" y="205" width="3" height="26" fill="#f1ccb8"/><rect x="287" y="205" width="2" height="26" fill="#f5c1a9"/><rect x="289" y="205" width="3" height="26" fill="#f4c6af"/><rect x="292" y="205" width="3" height="26" fill="#f5c2aa"/><rect x="295" y="205" width="2" height="26" fill="#f6bea4"/><rect x="297" y="205" width="3" height="26" fill="#f1ccb8"/><rect x="300" y="205" width="3" height="26" fill="#f3c8b2"/><rect x="303" y="205" width="2" height="26" fill="#f4c5ad"/><rect x="305" y="205" width="3" height="26" fill="#f2cab5"/><rect x="308" y="205" width="2" height="26" fill="#f6bea4"/><rect x="0" y="231" width="3" height="26" fill="#5673e0"/><rect x="3" y="231" width="8" height="26" fill="#4358cb"/><rect x="11" y="231" width="10" height="26" fill="#536edd"/><rect x="21" y="231" width="6" height="26" fill="#8db0fe"/><rect x="27" y="231" width="2" height="26" fill="#cbd8ee"/><rect x="29" y="231" width="3" height="26" fill="#b7cff9"/><rect x="32" y="231" width="3" height="26" fill="#b3cdfb"/><rect x="35" y="231" width="2" height="26" fill="#cad8ef"/><rect x="37" y="231" width="3" height="26" fill="#c0d4f5"/><rect x="40" y="231" width="3" height="26" fill="#b3cdfb"/><rect x="43" y="231" width="2" height="26" fill="#c0d4f5"/><rect x="45" y="231" width="3" height="26" fill="#c6d6f1"/><rect x="48" y="231" width="2" height="26" fill="#b1cbfc"/><rect x="50" y="231" width="3" height="26" fill="#c6d6f1"/><rect x="53" y="231" width="3" height="26" fill="#c0d4f5"/><rect x="56" y="231" width="2" height="26" fill="#b7cff9"/><rect x="58" y="231" width="3" height="26" fill="#b9d0f9"/><rect x="61" y="231" width="3" height="26" fill="#b3cdfb"/><rect x="64" y="231" width="2" height="26" fill="#aec9fc"/><rect x="66" y="231" width="3" height="26" fill="#b3cdfb"/><rect x="69" y="231" width="2" height="26" fill="#b5cdfa"/><rect x="71" y="231" width="3" height="26" fill="#c5d6f2"/><rect x="74" y="231" width="3" height="26" fill="#c9d7f0"/><rect x="77" y="231" width="2" height="26" fill="#adc9fd"/><rect x="79" y="231" width="3" height="26" fill="#b1cbfc"/><rect x="82" y="231" width="3" height="26" fill="#bfd3f6"/><rect x="85" y="231" width="2" height="26" fill="#c5d6f2"/><rect x="87" y="231" width="3" height="26" fill="#c1d4f4"/><rect x="90" y="231" width="2" height="26" fill="#b6cefa"/><rect x="92" y="231" width="3" height="26" fill="#cbd8ee"/><rect x="95" y="231" width="3" height="26" fill="#b1cbfc"/><rect x="98" y="231" width="2" height="26" fill="#bed2f6"/><rect x="100" y="231" width="3" height="26" fill="#bad0f8"/><rect x="103" y="231" width="3" height="26" fill="#b5cdfa"/><rect x="106" y="231" width="2" height="26" fill="#bfd3f6"/><rect x="108" y="231" width="2" height="26" fill="#abc8fd"/><rect x="110" y="231" width="1" height="26" fill="#d2dbe8"/><rect x="111" y="231" width="2" height="26" fill="#d9dce1"/><rect x="113" y="231" width="3" height="26" fill="#e5d8d1"/><rect x="116" y="231" width="3" height="26" fill="#dfdbd9"/><rect x="119" y="231" width="2" height="26" fill="#d8dce2"/><rect x="121" y="231" width="3" height="26" fill="#e2dad5"/><rect x="124" y="231" width="3" height="26" fill="#dddcdc"/><rect x="127" y="231" width="2" height="26" fill="#d3dbe7"/><rect x="129" y="231" width="3" height="26" fill="#d7dce3"/><rect x="132" y="231" width="2" height="26" fill="#c3d5f4"/><rect x="134" y="231" width="3" height="26" fill="#c5d6f2"/><rect x="137" y="231" width="3" height="26" fill="#d1dae9"/><rect x="140" y="231" width="2" height="26" fill="#d9dce1"/><rect x="142" y="231" width="3" height="26" fill="#cfdaea"/><rect x="145" y="231" width="3" height="26" fill="#c6d6f1"/><rect x="148" y="231" width="2" height="26" fill="#c5d6f2"/><rect x="150" y="231" width="13" height="26" fill="#b3cdfb"/><rect x="163" y="231" width="6" height="26" fill="#94b6ff"/><rect x="169" y="231" width="2" height="26" fill="#9ebeff"/><rect x="171" y="231" width="3" height="26" fill="#90b2fe"/><rect x="174" y="231" width="3" height="26" fill="#93b5fe"/><rect x="177" y="231" width="2" height="26" fill="#96b7ff"/><rect x="179" y="231" width="3" height="26" fill="#92b4fe"/><rect x="182" y="231" width="2" height="26" fill="#94b6ff"/><rect x="184" y="231" width="6" height="26" fill="#9dbdff"/><rect x="190" y="231" width="5" height="26" fill="#9fbfff"/><rect x="195" y="231" width="3" height="26" fill="#93b5fe"/><rect x="198" y="231" width="2" height="26" fill="#89acfd"/><rect x="200" y="231" width="3" height="26" fill="#9abbff"/><rect x="203" y="231" width="2" height="26" fill="#92b4fe"/><rect x="205" y="231" width="3" height="26" fill="#96b7ff"/><rect x="208" y="231" width="3" height="26" fill="#9fbfff"/><rect x="211" y="231" width="2" height="26" fill="#9dbdff"/><rect x="213" y="231" width="3" height="26" fill="#97b8ff"/><rect x="216" y="231" width="3" height="26" fill="#8caffe"/><rect x="219" y="231" width="2" height="26" fill="#8fb1fe"/><rect x="221" y="231" width="3" height="26" fill="#9ebeff"/><rect x="224" y="231" width="2" height="26" fill="#9dbdff"/><rect x="226" y="231" width="3" height="26" fill="#97b8ff"/><rect x="229" y="231" width="3" height="26" fill="#98b9ff"/><rect x="232" y="231" width="2" height="26" fill="#9fbfff"/><rect x="234" y="231" width="3" height="26" fill="#9bbcff"/><rect x="237" y="231" width="3" height="26" fill="#9ebeff"/><rect x="240" y="231" width="2" height="26" fill="#8db0fe"/><rect x="242" y="231" width="3" height="26" fill="#92b4fe"/><rect x="245" y="231" width="2" height="26" fill="#94b6ff"/><rect x="247" y="231" width="3" height="26" fill="#96b7ff"/><rect x="250" y="231" width="3" height="26" fill="#90b2fe"/><rect x="253" y="231" width="2" height="26" fill="#9dbdff"/><rect x="255" y="231" width="3" height="26" fill="#93b5fe"/><rect x="258" y="231" width="3" height="26" fill="#89acfd"/><rect x="261" y="231" width="2" height="26" fill="#9fbfff"/><rect x="263" y="231" width="3" height="26" fill="#94b6ff"/><rect x="266" y="231" width="5" height="26" fill="#8badfd"/><rect x="271" y="231" width="5" height="26" fill="#9fbfff"/><rect x="276" y="231" width="3" height="26" fill="#89acfd"/><rect x="279" y="231" width="3" height="26" fill="#9dbdff"/><rect x="282" y="231" width="2" height="26" fill="#97b8ff"/><rect x="284" y="231" width="3" height="26" fill="#9abbff"/><rect x="287" y="231" width="4" height="26" fill="#8caffe"/><rect x="291" y="231" width="14" height="26" fill="#d7dce3"/><rect x="305" y="231" width="5" height="26" fill="#e9d5cb"/><rect x="0" y="257" width="3" height="25" fill="#5470de"/><rect x="3" y="257" width="3" height="25" fill="#4b64d5"/><rect x="6" y="257" width="2" height="25" fill="#445acc"/><rect x="8" y="257" width="3" height="25" fill="#4a63d3"/><rect x="11" y="257" width="3" height="25" fill="#445acc"/><rect x="14" y="257" width="2" height="25" fill="#4b64d5"/><rect x="16" y="257" width="3" height="25" fill="#4961d2"/><rect x="19" y="257" width="2" height="25" fill="#4c66d6"/><rect x="21" y="257" width="3" height="25" fill="#9ebeff"/><rect x="24" y="257" width="3" height="25" fill="#e2dad5"/><rect x="27" y="257" width="5" height="25" fill="#e36c55"/><rect x="32" y="257" width="11" height="25" fill="#bb1b2c"/><rect x="43" y="257" width="11" height="25" fill="#e57058"/><rect x="54" y="257" width="2" height="25" fill="#d0473d"/><rect x="56" y="257" width="8" height="25" fill="#dc5d4a"/><rect x="64" y="257" width="11" height="25" fill="#f18d6f"/><rect x="75" y="257" width="3" height="25" fill="#dc5d4a"/><rect x="78" y="257" width="5" height="25" fill="#ee8468"/><rect x="83" y="257" width="3" height="25" fill="#d0473d"/><rect x="86" y="257" width="12" height="25" fill="#f18d6f"/><rect x="98" y="257" width="4" height="25" fill="#d0473d"/><rect x="102" y="257" width="1" height="25" fill="#d95847"/><rect x="103" y="257" width="3" height="25" fill="#d85646"/><rect x="106" y="257" width="2" height="25" fill="#dd5f4b"/><rect x="108" y="257" width="3" height="25" fill="#df634e"/><rect x="111" y="257" width="2" height="25" fill="#dc5d4a"/><rect x="113" y="257" width="4" height="25" fill="#da5a49"/><rect x="117" y="257" width="3" height="25" fill="#ca3b37"/><rect x="120" y="257" width="8" height="25" fill="#df634e"/><rect x="128" y="257" width="8" height="25" fill="#ee8468"/><rect x="136" y="257" width="1" height="25" fill="#f39778"/><rect x="137" y="257" width="3" height="25" fill="#f6a586"/><rect x="140" y="257" width="2" height="25" fill="#f39778"/><rect x="142" y="257" width="3" height="25" fill="#f39475"/><rect x="145" y="257" width="3" height="25" fill="#f29274"/><rect x="148" y="257" width="2" height="25" fill="#f4987a"/><rect x="150" y="257" width="10" height="25" fill="#f6bda2"/><rect x="160" y="257" width="13" height="25" fill="#efcfbf"/><rect x="173" y="257" width="4" height="25" fill="#dddcdc"/><rect x="177" y="257" width="2" height="25" fill="#d4dbe6"/><rect x="179" y="257" width="3" height="25" fill="#dadce0"/><rect x="182" y="257" width="2" height="25" fill="#d4dbe6"/><rect x="184" y="257" width="3" height="25" fill="#d1dae9"/><rect x="187" y="257" width="3" height="25" fill="#dedcdb"/><rect x="190" y="257" width="5" height="25" fill="#dddcdc"/><rect x="195" y="257" width="3" height="25" fill="#dedcdb"/><rect x="198" y="257" width="2" height="25" fill="#d8dce2"/><rect x="200" y="257" width="3" height="25" fill="#dcdddd"/><rect x="203" y="257" width="2" height="25" fill="#d5dbe5"/><rect x="205" y="257" width="3" height="25" fill="#d9dce1"/><rect x="208" y="257" width="3" height="25" fill="#d1dae9"/><rect x="211" y="257" width="2" height="25" fill="#dbdcde"/><rect x="213" y="257" width="3" height="25" fill="#dedcdb"/><rect x="216" y="257" width="3" height="25" fill="#cbd8ee"/><rect x="219" y="257" width="2" height="25" fill="#dadce0"/><rect x="221" y="257" width="3" height="25" fill="#dfdbd9"/><rect x="224" y="257" width="2" height="25" fill="#d7dce3"/><rect x="226" y="257" width="3" height="25" fill="#d8dce2"/><rect x="229" y="257" width="3" height="25" fill="#d7dce3"/><rect x="232" y="257" width="2" height="25" fill="#d1dae9"/><rect x="234" y="257" width="3" height="25" fill="#d7dce3"/><rect x="237" y="257" width="3" height="25" fill="#cad8ef"/><rect x="240" y="257" width="2" height="25" fill="#cedaeb"/><rect x="242" y="257" width="3" height="25" fill="#d7dce3"/><rect x="245" y="257" width="5" height="25" fill="#d8dce2"/><rect x="250" y="257" width="3" height="25" fill="#dbdcde"/><rect x="253" y="257" width="2" height="25" fill="#ccd9ed"/><rect x="255" y="257" width="3" height="25" fill="#d7dce3"/><rect x="258" y="257" width="3" height="25" fill="#cfdaea"/><rect x="261" y="257" width="2" height="25" fill="#d4dbe6"/><rect x="263" y="257" width="3" height="25" fill="#cbd8ee"/><rect x="266" y="257" width="1" height="25" fill="#d9dce1"/><rect x="267" y="257" width="6" height="25" fill="#e9d5cb"/><rect x="273" y="257" width="1" height="25" fill="#dcdddd"/><rect x="274" y="257" width="5" height="25" fill="#d8dce2"/><rect x="279" y="257" width="3" height="25" fill="#d9dce1"/><rect x="282" y="257" width="2" height="25" fill="#dadce0"/><rect x="284" y="257" width="3" height="25" fill="#d9dce1"/><rect x="287" y="257" width="1" height="25" fill="#d7dce3"/><rect x="288" y="257" width="4" height="25" fill="#f7ba9f"/><rect x="292" y="257" width="3" height="25" fill="#f7b79b"/><rect x="295" y="257" width="2" height="25" fill="#f5c4ac"/><rect x="297" y="257" width="3" height="25" fill="#f7ba9f"/><rect x="300" y="257" width="3" height="25" fill="#f6bda2"/><rect x="303" y="257" width="2" height="25" fill="#f6bfa6"/><rect x="305" y="257" width="2" height="25" fill="#f7b99e"/><rect x="307" y="257" width="3" height="25" fill="#d7dce3"/><rect x="0" y="282" width="3" height="26" fill="#5977e3"/><rect x="3" y="282" width="3" height="26" fill="#5673e0"/><rect x="6" y="282" width="2" height="26" fill="#5470de"/><rect x="8" y="282" width="6" height="26" fill="#5572df"/><rect x="14" y="282" width="2" height="26" fill="#5470de"/><rect x="16" y="282" width="3" height="26" fill="#5673e0"/><rect x="19" y="282" width="2" height="26" fill="#5572df"/><rect x="21" y="282" width="3" height="26" fill="#7b9ff9"/><rect x="24" y="282" width="3" height="26" fill="#e2dad5"/><rect x="27" y="282" width="2" height="26" fill="#f7bca1"/><rect x="29" y="282" width="3" height="26" fill="#f5c4ac"/><rect x="32" y="282" width="3" height="26" fill="#f6bda2"/><rect x="35" y="282" width="2" height="26" fill="#f5c0a7"/><rect x="37" y="282" width="3" height="26" fill="#f7b79b"/><rect x="40" y="282" width="3" height="26" fill="#f7b99e"/><rect x="43" y="282" width="2" height="26" fill="#f5c4ac"/><rect x="45" y="282" width="3" height="26" fill="#f7b396"/><rect x="48" y="282" width="2" height="26" fill="#f7b599"/><rect x="50" y="282" width="3" height="26" fill="#f4c5ad"/><rect x="53" y="282" width="3" height="26" fill="#f7b79b"/><rect x="56" y="282" width="1" height="26" fill="#f5c0a7"/><rect x="57" y="282" width="1" height="26" fill="#f7b89c"/><rect x="58" y="282" width="3" height="26" fill="#f7aa8c"/><rect x="61" y="282" width="3" height="26" fill="#f7b599"/><rect x="64" y="282" width="2" height="26" fill="#f7ad90"/><rect x="66" y="282" width="3" height="26" fill="#f7ac8e"/><rect x="69" y="282" width="2" height="26" fill="#f7b89c"/><rect x="71" y="282" width="3" height="26" fill="#f7a688"/><rect x="74" y="282" width="5" height="26" fill="#f7b89c"/><rect x="79" y="282" width="3" height="26" fill="#f7af91"/><rect x="82" y="282" width="3" height="26" fill="#f6bea4"/><rect x="85" y="282" width="1" height="26" fill="#f7a98b"/><rect x="86" y="282" width="1" height="26" fill="#f7b093"/><rect x="87" y="282" width="3" height="26" fill="#f7bca1"/><rect x="90" y="282" width="2" height="26" fill="#f7b194"/><rect x="92" y="282" width="3" height="26" fill="#f5c1a9"/><rect x="95" y="282" width="3" height="26" fill="#f6bda2"/><rect x="98" y="282" width="2" height="26" fill="#f7b093"/><rect x="100" y="282" width="3" height="26" fill="#f7b99e"/><rect x="103" y="282" width="3" height="26" fill="#f7b396"/><rect x="106" y="282" width="1" height="26" fill="#f7b194"/><rect x="107" y="282" width="1" height="26" fill="#f59c7d"/><rect x="108" y="282" width="3" height="26" fill="#f6a586"/><rect x="111" y="282" width="2" height="26" fill="#f4987a"/><rect x="113" y="282" width="3" height="26" fill="#f7b093"/><rect x="116" y="282" width="3" height="26" fill="#f7a889"/><rect x="119" y="282" width="2" height="26" fill="#f59d7e"/><rect x="121" y="282" width="3" height="26" fill="#f7a889"/><rect x="124" y="282" width="3" height="26" fill="#f7a688"/><rect x="127" y="282" width="2" height="26" fill="#f49a7b"/><rect x="129" y="282" width="1" height="26" fill="#f7a98b"/><rect x="130" y="282" width="2" height="26" fill="#f3c8b2"/><rect x="132" y="282" width="2" height="26" fill="#f5c1a9"/><rect x="134" y="282" width="3" height="26" fill="#f6bfa6"/><rect x="137" y="282" width="3" height="26" fill="#f5c2aa"/><rect x="140" y="282" width="2" height="26" fill="#f6bfa6"/><rect x="142" y="282" width="3" height="26" fill="#f5c1a9"/><rect x="145" y="282" width="3" height="26" fill="#f2cab5"/><rect x="148" y="282" width="2" height="26" fill="#f5c4ac"/><rect x="150" y="282" width="10" height="26" fill="#dddcdc"/><rect x="160" y="282" width="1" height="26" fill="#c6d6f1"/><rect x="161" y="282" width="2" height="26" fill="#cad8ef"/><rect x="163" y="282" width="3" height="26" fill="#bfd3f6"/><rect x="166" y="282" width="3" height="26" fill="#cad8ef"/><rect x="169" y="282" width="2" height="26" fill="#ccd9ed"/><rect x="171" y="282" width="3" height="26" fill="#cbd8ee"/><rect x="174" y="282" width="3" height="26" fill="#bed2f6"/><rect x="177" y="282" width="2" height="26" fill="#c5d6f2"/><rect x="179" y="282" width="3" height="26" fill="#c9d7f0"/><rect x="182" y="282" width="2" height="26" fill="#b7cff9"/><rect x="184" y="282" width="3" height="26" fill="#adc9fd"/><rect x="187" y="282" width="3" height="26" fill="#c3d5f4"/><rect x="190" y="282" width="2" height="26" fill="#bed2f6"/><rect x="192" y="282" width="3" height="26" fill="#adc9fd"/><rect x="195" y="282" width="3" height="26" fill="#c0d4f5"/><rect x="198" y="282" width="2" height="26" fill="#b3cdfb"/><rect x="200" y="282" width="3" height="26" fill="#bfd3f6"/><rect x="203" y="282" width="2" height="26" fill="#b1cbfc"/><rect x="205" y="282" width="3" height="26" fill="#cad8ef"/><rect x="208" y="282" width="3" height="26" fill="#c5d6f2"/><rect x="211" y="282" width="2" height="26" fill="#b3cdfb"/><rect x="213" y="282" width="3" height="26" fill="#c1d4f4"/><rect x="216" y="282" width="3" height="26" fill="#cbd8ee"/><rect x="219" y="282" width="2" height="26" fill="#b2ccfb"/><rect x="221" y="282" width="3" height="26" fill="#c7d7f0"/><rect x="224" y="282" width="2" height="26" fill="#aec9fc"/><rect x="226" y="282" width="3" height="26" fill="#abc8fd"/><rect x="229" y="282" width="1" height="26" fill="#c3d5f4"/><rect x="230" y="282" width="2" height="26" fill="#aac7fd"/><rect x="232" y="282" width="5" height="26" fill="#b5cdfa"/><rect x="237" y="282" width="3" height="26" fill="#a1c0ff"/><rect x="240" y="282" width="2" height="26" fill="#9fbfff"/><rect x="242" y="282" width="3" height="26" fill="#a9c6fd"/><rect x="245" y="282" width="2" height="26" fill="#a6c4fe"/><rect x="247" y="282" width="3" height="26" fill="#b2ccfb"/><rect x="250" y="282" width="3" height="26" fill="#a6c4fe"/><rect x="253" y="282" width="2" height="26" fill="#a9c6fd"/><rect x="255" y="282" width="3" height="26" fill="#afcafc"/><rect x="258" y="282" width="3" height="26" fill="#a1c0ff"/><rect x="261" y="282" width="2" height="26" fill="#b3cdfb"/><rect x="263" y="282" width="3" height="26" fill="#b1cbfc"/><rect x="266" y="282" width="2" height="26" fill="#a2c1ff"/><rect x="268" y="282" width="3" height="26" fill="#aac7fd"/><rect x="271" y="282" width="3" height="26" fill="#a2c1ff"/><rect x="274" y="282" width="2" height="26" fill="#a3c2fe"/><rect x="276" y="282" width="3" height="26" fill="#cbd8ee"/><rect x="279" y="282" width="3" height="26" fill="#b6cefa"/><rect x="282" y="282" width="2" height="26" fill="#afcafc"/><rect x="284" y="282" width="3" height="26" fill="#bbd1f8"/><rect x="287" y="282" width="2" height="26" fill="#c6d6f1"/><rect x="289" y="282" width="3" height="26" fill="#afcafc"/><rect x="292" y="282" width="3" height="26" fill="#bcd2f7"/><rect x="295" y="282" width="2" height="26" fill="#ccd9ed"/><rect x="297" y="282" width="6" height="26" fill="#b3cdfb"/><rect x="303" y="282" width="2" height="26" fill="#c0d4f5"/><rect x="305" y="282" width="3" height="26" fill="#b2ccfb"/><rect x="308" y="282" width="2" height="26" fill="#bad0f8"/></svg><svg class="p" style="left:374px" width="310" height="308" viewBox="0 0 310 308" shape-rendering="crispEdges"><rect x="0" y="0" width="3" height="26" fill="#f18d6f"/><rect x="3" y="0" width="7" height="26" fill="#c53334"/><rect x="10" y="0" width="7" height="26" fill="#efcfbf"/><rect x="17" y="0" width="8" height="26" fill="#bcd2f7"/><rect x="25" y="0" width="6" height="26" fill="#94b6ff"/><rect x="31" y="0" width="4" height="26" fill="#f6bda2"/><rect x="35" y="0" width="2" height="26" fill="#f18d6f"/><rect x="37" y="0" width="4" height="26" fill="#e9d5cb"/><rect x="41" y="0" width="3" height="26" fill="#b3cdfb"/><rect x="44" y="0" width="7" height="26" fill="#f39577"/><rect x="51" y="0" width="7" height="26" fill="#f7ac8e"/><rect x="58" y="0" width="3" height="26" fill="#ee8468"/><rect x="61" y="0" width="3" height="26" fill="#cc403a"/><rect x="64" y="0" width="4" height="26" fill="#ee8468"/><rect x="68" y="0" width="7" height="26" fill="#d65244"/><rect x="75" y="0" width="3" height="26" fill="#dddcdc"/><rect x="78" y="0" width="4" height="26" fill="#f7ac8e"/><rect x="82" y="0" width="3" height="26" fill="#dc5d4a"/><rect x="85" y="0" width="10" height="26" fill="#bcd2f7"/><rect x="95" y="0" width="3" height="26" fill="#89acfd"/><rect x="98" y="0" width="2" height="26" fill="#98b9ff"/><rect x="100" y="0" width="3" height="26" fill="#8caffe"/><rect x="103" y="0" width="3" height="26" fill="#97b8ff"/><rect x="106" y="0" width="2" height="26" fill="#96b7ff"/><rect x="108" y="0" width="3" height="26" fill="#8badfd"/><rect x="111" y="0" width="1" height="26" fill="#8caffe"/><rect x="112" y="0" width="4" height="26" fill="#6384eb"/><rect x="116" y="0" width="7" height="26" fill="#a9c6fd"/><rect x="123" y="0" width="6" height="26" fill="#e9d5cb"/><rect x="129" y="0" width="4" height="26" fill="#f7ac8e"/><rect x="133" y="0" width="5" height="26" fill="#cbd8ee"/><rect x="138" y="0" width="8" height="26" fill="#f4c6af"/><rect x="146" y="0" width="7" height="26" fill="#f4987a"/><rect x="153" y="0" width="7" height="26" fill="#e36c55"/><rect x="160" y="0" width="1" height="26" fill="#f5c4ac"/><rect x="161" y="0" width="2" height="26" fill="#f5c2aa"/><rect x="163" y="0" width="3" height="26" fill="#f7b497"/><rect x="166" y="0" width="3" height="26" fill="#f7b79b"/><rect x="169" y="0" width="2" height="26" fill="#f3c7b1"/><rect x="171" y="0" width="3" height="26" fill="#f7b79b"/><rect x="174" y="0" width="2" height="26" fill="#f7b497"/><rect x="176" y="0" width="5" height="26" fill="#b40426"/><rect x="181" y="0" width="3" height="26" fill="#efcfbf"/><rect x="184" y="0" width="3" height="26" fill="#f4987a"/><rect x="187" y="0" width="11" height="26" fill="#e2dad5"/><rect x="198" y="0" width="3" height="26" fill="#94b6ff"/><rect x="201" y="0" width="8" height="26" fill="#e9d5cb"/><rect x="209" y="0" width="6" height="26" fill="#cbd8ee"/><rect x="215" y="0" width="9" height="26" fill="#a9c6fd"/><rect x="224" y="0" width="3" height="26" fill="#8db0fe"/><rect x="227" y="0" width="8" height="26" fill="#bcd2f7"/><rect x="235" y="0" width="10" height="26" fill="#d7dce3"/><rect x="245" y="0" width="2" height="26" fill="#a6c4fe"/><rect x="247" y="0" width="3" height="26" fill="#a1c0ff"/><rect x="250" y="0" width="3" height="26" fill="#97b8ff"/><rect x="253" y="0" width="2" height="26" fill="#a3c2fe"/><rect x="255" y="0" width="3" height="26" fill="#a7c5fe"/><rect x="258" y="0" width="3" height="26" fill="#9abbff"/><rect x="261" y="0" width="2" height="26" fill="#9fbfff"/><rect x="263" y="0" width="1" height="26" fill="#97b8ff"/><rect x="264" y="0" width="9" height="26" fill="#7b9ff9"/><rect x="273" y="0" width="3" height="26" fill="#a9c6fd"/><rect x="276" y="0" width="6" height="26" fill="#85a8fc"/><rect x="282" y="0" width="3" height="26" fill="#5470de"/><rect x="285" y="0" width="8" height="26" fill="#9ebeff"/><rect x="293" y="0" width="3" height="26" fill="#7b9ff9"/><rect x="296" y="0" width="11" height="26" fill="#a9c6fd"/><rect x="307" y="0" width="3" height="26" fill="#ee8468"/><rect x="0" y="26" width="3" height="25" fill="#e36c55"/><rect x="3" y="26" width="7" height="25" fill="#ee8468"/><rect x="10" y="26" width="4" height="25" fill="#f6bda2"/><rect x="14" y="26" width="3" height="25" fill="#d65244"/><rect x="17" y="26" width="7" height="25" fill="#ea7b60"/><rect x="24" y="26" width="3" height="25" fill="#e9d5cb"/><rect x="27" y="26" width="4" height="25" fill="#f6bda2"/><rect x="31" y="26" width="6" height="25" fill="#b40426"/><rect x="37" y="26" width="7" height="25" fill="#f6a586"/><rect x="44" y="26" width="7" height="25" fill="#b40426"/><rect x="51" y="26" width="4" height="25" fill="#f18d6f"/><rect x="55" y="26" width="17" height="25" fill="#b40426"/><rect x="72" y="26" width="3" height="25" fill="#dc5d4a"/><rect x="75" y="26" width="3" height="25" fill="#f7b396"/><rect x="78" y="26" width="4" height="25" fill="#ee8468"/><rect x="82" y="26" width="3" height="25" fill="#c53334"/><rect x="85" y="26" width="7" height="25" fill="#f2cbb7"/><rect x="92" y="26" width="8" height="25" fill="#f7b396"/><rect x="100" y="26" width="7" height="25" fill="#a9c6fd"/><rect x="107" y="26" width="3" height="25" fill="#e9d5cb"/><rect x="110" y="26" width="7" height="25" fill="#94b6ff"/><rect x="117" y="26" width="6" height="25" fill="#f7b396"/><rect x="123" y="26" width="4" height="25" fill="#bcd2f7"/><rect x="127" y="26" width="6" height="25" fill="#f4987a"/><rect x="133" y="26" width="4" height="25" fill="#8db0fe"/><rect x="137" y="26" width="3" height="25" fill="#f7ac8e"/><rect x="140" y="26" width="3" height="25" fill="#e36c55"/><rect x="143" y="26" width="3" height="25" fill="#e9d5cb"/><rect x="146" y="26" width="7" height="25" fill="#b40426"/><rect x="153" y="26" width="3" height="25" fill="#ee8468"/><rect x="156" y="26" width="4" height="25" fill="#d0473d"/><rect x="160" y="26" width="4" height="25" fill="#b40426"/><rect x="164" y="26" width="6" height="25" fill="#f2cbb7"/><rect x="170" y="26" width="3" height="25" fill="#b40426"/><rect x="173" y="26" width="3" height="25" fill="#f6bda2"/><rect x="176" y="26" width="8" height="25" fill="#b40426"/><rect x="184" y="26" width="7" height="25" fill="#f2cbb7"/><rect x="191" y="26" width="3" height="25" fill="#e36c55"/><rect x="194" y="26" width="7" height="25" fill="#cbd8ee"/><rect x="201" y="26" width="3" height="25" fill="#f4987a"/><rect x="204" y="26" width="8" height="25" fill="#d7dce3"/><rect x="212" y="26" width="3" height="25" fill="#f7ac8e"/><rect x="215" y="26" width="3" height="25" fill="#e9d5cb"/><rect x="218" y="26" width="9" height="25" fill="#cbd8ee"/><rect x="227" y="26" width="6" height="25" fill="#a9c6fd"/><rect x="233" y="26" width="6" height="25" fill="#d7dce3"/><rect x="239" y="26" width="9" height="25" fill="#bcd2f7"/><rect x="248" y="26" width="7" height="25" fill="#9ebeff"/><rect x="255" y="26" width="9" height="25" fill="#bcd2f7"/><rect x="264" y="26" width="9" height="25" fill="#a9c6fd"/><rect x="273" y="26" width="3" height="25" fill="#8db0fe"/><rect x="276" y="26" width="6" height="25" fill="#d7dce3"/><rect x="282" y="26" width="3" height="25" fill="#85a8fc"/><rect x="285" y="26" width="5" height="25" fill="#a9c6fd"/><rect x="290" y="26" width="3" height="25" fill="#e9d5cb"/><rect x="293" y="26" width="6" height="25" fill="#9ebeff"/><rect x="299" y="26" width="4" height="25" fill="#f7ac8e"/><rect x="303" y="26" width="7" height="25" fill="#e9d5cb"/><rect x="0" y="51" width="3" height="26" fill="#b40426"/><rect x="3" y="51" width="7" height="26" fill="#f7ac8e"/><rect x="10" y="51" width="21" height="26" fill="#b40426"/><rect x="31" y="51" width="3" height="26" fill="#f7ac8e"/><rect x="34" y="51" width="3" height="26" fill="#e9d5cb"/><rect x="37" y="51" width="7" height="26" fill="#b40426"/><rect x="44" y="51" width="7" height="26" fill="#f6a586"/><rect x="51" y="51" width="3" height="26" fill="#b40426"/><rect x="54" y="51" width="7" height="26" fill="#f4c6af"/><rect x="61" y="51" width="6" height="26" fill="#f4987a"/><rect x="67" y="51" width="2" height="26" fill="#f3c7b1"/><rect x="69" y="51" width="5" height="26" fill="#f5c4ac"/><rect x="74" y="51" width="3" height="26" fill="#f5c0a7"/><rect x="77" y="51" width="2" height="26" fill="#f0cdbb"/><rect x="79" y="51" width="3" height="26" fill="#f6bfa6"/><rect x="82" y="51" width="2" height="26" fill="#f1ccb8"/><rect x="84" y="51" width="8" height="26" fill="#e2dad5"/><rect x="92" y="51" width="8" height="26" fill="#d7dce3"/><rect x="100" y="51" width="10" height="26" fill="#8db0fe"/><rect x="110" y="51" width="10" height="26" fill="#7b9ff9"/><rect x="120" y="51" width="3" height="26" fill="#efcfbf"/><rect x="123" y="51" width="10" height="26" fill="#b3cdfb"/><rect x="133" y="51" width="4" height="26" fill="#7093f3"/><rect x="137" y="51" width="9" height="26" fill="#d7dce3"/><rect x="146" y="51" width="7" height="26" fill="#ee8468"/><rect x="153" y="51" width="7" height="26" fill="#e9d5cb"/><rect x="160" y="51" width="4" height="26" fill="#e36c55"/><rect x="164" y="51" width="12" height="26" fill="#cbd8ee"/><rect x="176" y="51" width="8" height="26" fill="#f6a586"/><rect x="184" y="51" width="11" height="26" fill="#dddcdc"/><rect x="195" y="51" width="3" height="26" fill="#82a6fb"/><rect x="198" y="51" width="2" height="26" fill="#98b9ff"/><rect x="200" y="51" width="3" height="26" fill="#90b2fe"/><rect x="203" y="51" width="2" height="26" fill="#98b9ff"/><rect x="205" y="51" width="6" height="26" fill="#8caffe"/><rect x="211" y="51" width="2" height="26" fill="#84a7fc"/><rect x="213" y="51" width="3" height="26" fill="#97b8ff"/><rect x="216" y="51" width="2" height="26" fill="#8db0fe"/><rect x="218" y="51" width="12" height="26" fill="#7093f3"/><rect x="230" y="51" width="2" height="26" fill="#6687ed"/><rect x="232" y="51" width="2" height="26" fill="#6788ee"/><rect x="234" y="51" width="3" height="26" fill="#5e7de7"/><rect x="237" y="51" width="3" height="26" fill="#5b7ae5"/><rect x="240" y="51" width="2" height="26" fill="#6687ed"/><rect x="242" y="51" width="3" height="26" fill="#5a78e4"/><rect x="245" y="51" width="5" height="26" fill="#6384eb"/><rect x="250" y="51" width="3" height="26" fill="#6282ea"/><rect x="253" y="51" width="2" height="26" fill="#6687ed"/><rect x="255" y="51" width="3" height="26" fill="#6485ec"/><rect x="258" y="51" width="3" height="26" fill="#5b7ae5"/><rect x="261" y="51" width="6" height="26" fill="#536edd"/><rect x="267" y="51" width="1" height="26" fill="#6a8bef"/><rect x="268" y="51" width="3" height="26" fill="#688aef"/><rect x="271" y="51" width="3" height="26" fill="#5977e3"/><rect x="274" y="51" width="2" height="26" fill="#5f7fe8"/><rect x="276" y="51" width="3" height="26" fill="#6282ea"/><rect x="279" y="51" width="3" height="26" fill="#5f7fe8"/><rect x="282" y="51" width="2" height="26" fill="#5a78e4"/><rect x="284" y="51" width="3" height="26" fill="#5d7ce6"/><rect x="287" y="51" width="2" height="26" fill="#6180e9"/><rect x="289" y="51" width="3" height="26" fill="#6687ed"/><rect x="292" y="51" width="3" height="26" fill="#6485ec"/><rect x="295" y="51" width="2" height="26" fill="#5e7de7"/><rect x="297" y="51" width="2" height="26" fill="#6a8bef"/><rect x="299" y="51" width="4" height="26" fill="#cbd8ee"/><rect x="303" y="51" width="7" height="26" fill="#a9c6fd"/><rect x="0" y="77" width="3" height="26" fill="#ea7b60"/><rect x="3" y="77" width="4" height="26" fill="#f7b396"/><rect x="7" y="77" width="3" height="26" fill="#e9d5cb"/><rect x="10" y="77" width="5" height="26" fill="#ea7b60"/><rect x="15" y="77" width="5" height="26" fill="#f6a586"/><rect x="20" y="77" width="4" height="26" fill="#f18d6f"/><rect x="24" y="77" width="7" height="26" fill="#dc5d4a"/><rect x="31" y="77" width="3" height="26" fill="#cbd8ee"/><rect x="34" y="77" width="3" height="26" fill="#8db0fe"/><rect x="37" y="77" width="7" height="26" fill="#f6a586"/><rect x="44" y="77" width="11" height="26" fill="#dddcdc"/><rect x="55" y="77" width="6" height="26" fill="#a9c6fd"/><rect x="61" y="77" width="11" height="26" fill="#cbd8ee"/><rect x="72" y="77" width="6" height="26" fill="#94b6ff"/><rect x="78" y="77" width="6" height="26" fill="#b3cdfb"/><rect x="84" y="77" width="14" height="26" fill="#7b9ff9"/><rect x="98" y="77" width="12" height="26" fill="#6384eb"/><rect x="110" y="77" width="10" height="26" fill="#7093f3"/><rect x="120" y="77" width="10" height="26" fill="#7b9ff9"/><rect x="130" y="77" width="2" height="26" fill="#81a4fb"/><rect x="132" y="77" width="2" height="26" fill="#8badfd"/><rect x="134" y="77" width="3" height="26" fill="#82a6fb"/><rect x="137" y="77" width="3" height="26" fill="#84a7fc"/><rect x="140" y="77" width="2" height="26" fill="#7ea1fa"/><rect x="142" y="77" width="3" height="26" fill="#7b9ff9"/><rect x="145" y="77" width="11" height="26" fill="#85a8fc"/><rect x="156" y="77" width="4" height="26" fill="#5d7ce6"/><rect x="160" y="77" width="4" height="26" fill="#94b6ff"/><rect x="164" y="77" width="9" height="26" fill="#779af7"/><rect x="173" y="77" width="8" height="26" fill="#97b8ff"/><rect x="181" y="77" width="11" height="26" fill="#779af7"/><rect x="192" y="77" width="12" height="26" fill="#6384eb"/><rect x="204" y="77" width="14" height="26" fill="#7093f3"/><rect x="218" y="77" width="1" height="26" fill="#5572df"/><rect x="219" y="77" width="5" height="26" fill="#5875e1"/><rect x="224" y="77" width="10" height="26" fill="#5673e0"/><rect x="234" y="77" width="5" height="26" fill="#5572df"/><rect x="239" y="77" width="1" height="26" fill="#5470de"/><rect x="240" y="77" width="2" height="26" fill="#5572df"/><rect x="242" y="77" width="3" height="26" fill="#536edd"/><rect x="245" y="77" width="2" height="26" fill="#5572df"/><rect x="247" y="77" width="3" height="26" fill="#5673e0"/><rect x="250" y="77" width="3" height="26" fill="#536edd"/><rect x="253" y="77" width="5" height="26" fill="#5572df"/><rect x="258" y="77" width="3" height="26" fill="#5470de"/><rect x="261" y="77" width="2" height="26" fill="#4c66d6"/><rect x="263" y="77" width="3" height="26" fill="#5470de"/><rect x="266" y="77" width="2" height="26" fill="#536edd"/><rect x="268" y="77" width="3" height="26" fill="#516ddb"/><rect x="271" y="77" width="3" height="26" fill="#5470de"/><rect x="274" y="77" width="2" height="26" fill="#4e68d8"/><rect x="276" y="77" width="3" height="26" fill="#5572df"/><rect x="279" y="77" width="3" height="26" fill="#5470de"/><rect x="282" y="77" width="5" height="26" fill="#5572df"/><rect x="287" y="77" width="5" height="26" fill="#5470de"/><rect x="292" y="77" width="3" height="26" fill="#5572df"/><rect x="295" y="77" width="6" height="26" fill="#536edd"/><rect x="301" y="77" width="6" height="26" fill="#7093f3"/><rect x="307" y="77" width="3" height="26" fill="#d7dce3"/><rect x="0" y="103" width="3" height="25" fill="#e9d5cb"/><rect x="3" y="103" width="4" height="25" fill="#f6a586"/><rect x="7" y="103" width="3" height="25" fill="#cbd8ee"/><rect x="10" y="103" width="4" height="25" fill="#f2cbb7"/><rect x="14" y="103" width="3" height="25" fill="#b3cdfb"/><rect x="17" y="103" width="3" height="25" fill="#94b6ff"/><rect x="20" y="103" width="11" height="25" fill="#b3cdfb"/><rect x="31" y="103" width="6" height="25" fill="#5673e0"/><rect x="37" y="103" width="7" height="25" fill="#a9c6fd"/><rect x="44" y="103" width="4" height="25" fill="#7b9ff9"/><rect x="48" y="103" width="3" height="25" fill="#b3cdfb"/><rect x="51" y="103" width="4" height="25" fill="#e2dad5"/><rect x="55" y="103" width="6" height="25" fill="#a9c6fd"/><rect x="61" y="103" width="4" height="25" fill="#f7ac8e"/><rect x="65" y="103" width="12" height="25" fill="#e9d5cb"/><rect x="77" y="103" width="9" height="25" fill="#f4c6af"/><rect x="86" y="103" width="9" height="25" fill="#f7b396"/><rect x="95" y="103" width="3" height="25" fill="#ebd3c6"/><rect x="98" y="103" width="2" height="25" fill="#e8d6cc"/><rect x="100" y="103" width="3" height="25" fill="#eed0c0"/><rect x="103" y="103" width="3" height="25" fill="#ead4c8"/><rect x="106" y="103" width="2" height="25" fill="#f2c9b4"/><rect x="108" y="103" width="3" height="25" fill="#f1cdba"/><rect x="111" y="103" width="2" height="25" fill="#ead5c9"/><rect x="113" y="103" width="3" height="25" fill="#edd2c3"/><rect x="116" y="103" width="1" height="25" fill="#efcebd"/><rect x="117" y="103" width="12" height="25" fill="#f5c0a7"/><rect x="129" y="103" width="3" height="25" fill="#dcdddd"/><rect x="132" y="103" width="2" height="25" fill="#dfdbd9"/><rect x="134" y="103" width="3" height="25" fill="#ecd3c5"/><rect x="137" y="103" width="3" height="25" fill="#e2dad5"/><rect x="140" y="103" width="2" height="25" fill="#dfdbd9"/><rect x="142" y="103" width="3" height="25" fill="#ead4c8"/><rect x="145" y="103" width="3" height="25" fill="#e7d7ce"/><rect x="148" y="103" width="2" height="25" fill="#dddcdc"/><rect x="150" y="103" width="3" height="25" fill="#dedcdb"/><rect x="153" y="103" width="3" height="25" fill="#f2cbb7"/><rect x="156" y="103" width="2" height="25" fill="#b7cff9"/><rect x="158" y="103" width="3" height="25" fill="#bed2f6"/><rect x="161" y="103" width="2" height="25" fill="#c1d4f4"/><rect x="163" y="103" width="3" height="25" fill="#adc9fd"/><rect x="166" y="103" width="3" height="25" fill="#c6d6f1"/><rect x="169" y="103" width="2" height="25" fill="#bed2f6"/><rect x="171" y="103" width="3" height="25" fill="#c6d6f1"/><rect x="174" y="103" width="3" height="25" fill="#b2ccfb"/><rect x="177" y="103" width="2" height="25" fill="#ccd9ed"/><rect x="179" y="103" width="2" height="25" fill="#c3d5f4"/><rect x="181" y="103" width="1" height="25" fill="#a2c1ff"/><rect x="182" y="103" width="2" height="25" fill="#9ebeff"/><rect x="184" y="103" width="3" height="25" fill="#a7c5fe"/><rect x="187" y="103" width="3" height="25" fill="#aac7fd"/><rect x="190" y="103" width="2" height="25" fill="#a7c5fe"/><rect x="192" y="103" width="3" height="25" fill="#a2c1ff"/><rect x="195" y="103" width="3" height="25" fill="#93b5fe"/><rect x="198" y="103" width="2" height="25" fill="#e3d9d3"/><rect x="200" y="103" width="3" height="25" fill="#ead5c9"/><rect x="203" y="103" width="2" height="25" fill="#e6d7cf"/><rect x="205" y="103" width="3" height="25" fill="#edd1c2"/><rect x="208" y="103" width="3" height="25" fill="#e6d7cf"/><rect x="211" y="103" width="2" height="25" fill="#ecd3c5"/><rect x="213" y="103" width="3" height="25" fill="#e9d5cb"/><rect x="216" y="103" width="3" height="25" fill="#e4d9d2"/><rect x="219" y="103" width="2" height="25" fill="#efcebd"/><rect x="221" y="103" width="3" height="25" fill="#e3d9d3"/><rect x="224" y="103" width="2" height="25" fill="#e1dad6"/><rect x="226" y="103" width="6" height="25" fill="#e7d7ce"/><rect x="232" y="103" width="2" height="25" fill="#ead5c9"/><rect x="234" y="103" width="1" height="25" fill="#ebd3c6"/><rect x="235" y="103" width="13" height="25" fill="#f4c6af"/><rect x="248" y="103" width="2" height="25" fill="#e7d7ce"/><rect x="250" y="103" width="3" height="25" fill="#e3d9d3"/><rect x="253" y="103" width="2" height="25" fill="#ead5c9"/><rect x="255" y="103" width="3" height="25" fill="#ebd3c6"/><rect x="258" y="103" width="3" height="25" fill="#f0cdbb"/><rect x="261" y="103" width="2" height="25" fill="#f1ccb8"/><rect x="263" y="103" width="3" height="25" fill="#f0cdbb"/><rect x="266" y="103" width="1" height="25" fill="#edd1c2"/><rect x="267" y="103" width="1" height="25" fill="#f1cdba"/><rect x="268" y="103" width="3" height="25" fill="#ead5c9"/><rect x="271" y="103" width="3" height="25" fill="#f2cab5"/><rect x="274" y="103" width="2" height="25" fill="#efcebd"/><rect x="276" y="103" width="3" height="25" fill="#edd1c2"/><rect x="279" y="103" width="3" height="25" fill="#f2c9b4"/><rect x="282" y="103" width="2" height="25" fill="#edd2c3"/><rect x="284" y="103" width="3" height="25" fill="#f1ccb8"/><rect x="287" y="103" width="2" height="25" fill="#efcebd"/><rect x="289" y="103" width="3" height="25" fill="#f1ccb8"/><rect x="292" y="103" width="3" height="25" fill="#e8d6cc"/><rect x="295" y="103" width="2" height="25" fill="#ebd3c6"/><rect x="297" y="103" width="3" height="25" fill="#f2cbb7"/><rect x="300" y="103" width="1" height="25" fill="#f1ccb8"/><rect x="301" y="103" width="6" height="25" fill="#dddcdc"/><rect x="307" y="103" width="3" height="25" fill="#f4987a"/><rect x="0" y="128" width="3" height="26" fill="#b3cdfb"/><rect x="3" y="128" width="4" height="26" fill="#e9d5cb"/><rect x="7" y="128" width="4" height="26" fill="#8db0fe"/><rect x="11" y="128" width="6" height="26" fill="#cbd8ee"/><rect x="17" y="128" width="14" height="26" fill="#85a8fc"/><rect x="31" y="128" width="6" height="26" fill="#4961d2"/><rect x="37" y="128" width="9" height="26" fill="#9ebeff"/><rect x="46" y="128" width="5" height="26" fill="#b3cdfb"/><rect x="51" y="128" width="3" height="26" fill="#c53334"/><rect x="54" y="128" width="7" height="26" fill="#dddcdc"/><rect x="61" y="128" width="4" height="26" fill="#d0473d"/><rect x="65" y="128" width="7" height="26" fill="#f18d6f"/><rect x="72" y="128" width="74" height="26" fill="#b40426"/><rect x="146" y="128" width="7" height="26" fill="#ee8468"/><rect x="153" y="128" width="4" height="26" fill="#b40426"/><rect x="157" y="128" width="3" height="26" fill="#f6a586"/><rect x="160" y="128" width="4" height="26" fill="#c53334"/><rect x="164" y="128" width="6" height="26" fill="#ee8468"/><rect x="170" y="128" width="11" height="26" fill="#c53334"/><rect x="181" y="128" width="3" height="26" fill="#dddcdc"/><rect x="184" y="128" width="3" height="26" fill="#f7b396"/><rect x="187" y="128" width="11" height="26" fill="#dc5d4a"/><rect x="198" y="128" width="6" height="26" fill="#ca3b37"/><rect x="204" y="128" width="103" height="26" fill="#b40426"/><rect x="307" y="128" width="3" height="26" fill="#d0473d"/><rect x="0" y="154" width="7" height="26" fill="#9ebeff"/><rect x="7" y="154" width="3" height="26" fill="#7093f3"/><rect x="10" y="154" width="7" height="26" fill="#9ebeff"/><rect x="17" y="154" width="7" height="26" fill="#7b9ff9"/><rect x="24" y="154" width="7" height="26" fill="#5673e0"/><rect x="31" y="154" width="6" height="26" fill="#4358cb"/><rect x="37" y="154" width="7" height="26" fill="#94b6ff"/><rect x="44" y="154" width="4" height="26" fill="#7093f3"/><rect x="48" y="154" width="3" height="26" fill="#b3cdfb"/><rect x="51" y="154" width="4" height="26" fill="#f2cbb7"/><rect x="55" y="154" width="6" height="26" fill="#7b9ff9"/><rect x="61" y="154" width="6" height="26" fill="#a9c6fd"/><rect x="67" y="154" width="5" height="26" fill="#d7dce3"/><rect x="72" y="154" width="12" height="26" fill="#f6a586"/><rect x="84" y="154" width="8" height="26" fill="#b3cdfb"/><rect x="92" y="154" width="8" height="26" fill="#cbd8ee"/><rect x="100" y="154" width="9" height="26" fill="#f6bda2"/><rect x="109" y="154" width="8" height="26" fill="#e9d5cb"/><rect x="117" y="154" width="9" height="26" fill="#9ebeff"/><rect x="126" y="154" width="6" height="26" fill="#f4c6af"/><rect x="132" y="154" width="5" height="26" fill="#f6a586"/><rect x="137" y="154" width="3" height="26" fill="#e36c55"/><rect x="140" y="154" width="4" height="26" fill="#f7ac8e"/><rect x="144" y="154" width="9" height="26" fill="#cbd8ee"/><rect x="153" y="154" width="3" height="26" fill="#a9c6fd"/><rect x="156" y="154" width="4" height="26" fill="#f7b396"/><rect x="160" y="154" width="4" height="26" fill="#dc5d4a"/><rect x="164" y="154" width="6" height="26" fill="#f18d6f"/><rect x="170" y="154" width="4" height="26" fill="#dc5d4a"/><rect x="174" y="154" width="7" height="26" fill="#d7dce3"/><rect x="181" y="154" width="3" height="26" fill="#8db0fe"/><rect x="184" y="154" width="3" height="26" fill="#d7dce3"/><rect x="187" y="154" width="4" height="26" fill="#ea7b60"/><rect x="191" y="154" width="3" height="26" fill="#d65244"/><rect x="194" y="154" width="4" height="26" fill="#f4987a"/><rect x="198" y="154" width="3" height="26" fill="#dc5d4a"/><rect x="201" y="154" width="3" height="26" fill="#f18d6f"/><rect x="204" y="154" width="5" height="26" fill="#cbd8ee"/><rect x="209" y="154" width="12" height="26" fill="#a9c6fd"/><rect x="221" y="154" width="9" height="26" fill="#f7ac8e"/><rect x="230" y="154" width="8" height="26" fill="#bcd2f7"/><rect x="238" y="154" width="7" height="26" fill="#94b6ff"/><rect x="245" y="154" width="10" height="26" fill="#efcfbf"/><rect x="255" y="154" width="6" height="26" fill="#f4c6af"/><rect x="261" y="154" width="2" height="26" fill="#c5d6f2"/><rect x="263" y="154" width="3" height="26" fill="#bcd2f7"/><rect x="266" y="154" width="2" height="26" fill="#bad0f8"/><rect x="268" y="154" width="3" height="26" fill="#c5d6f2"/><rect x="271" y="154" width="3" height="26" fill="#b9d0f9"/><rect x="274" y="154" width="2" height="26" fill="#cdd9ec"/><rect x="276" y="154" width="3" height="26" fill="#c9d7f0"/><rect x="279" y="154" width="14" height="26" fill="#f6bda2"/><rect x="293" y="154" width="11" height="26" fill="#a9c6fd"/><rect x="304" y="154" width="3" height="26" fill="#e9d5cb"/><rect x="307" y="154" width="3" height="26" fill="#bb1b2c"/><rect x="0" y="180" width="3" height="25" fill="#94b6ff"/><rect x="3" y="180" width="4" height="25" fill="#7b9ff9"/><rect x="7" y="180" width="3" height="25" fill="#a9c6fd"/><rect x="10" y="180" width="4" height="25" fill="#f4c6af"/><rect x="14" y="180" width="3" height="25" fill="#9ebeff"/><rect x="17" y="180" width="7" height="25" fill="#7093f3"/><rect x="24" y="180" width="7" height="25" fill="#536edd"/><rect x="31" y="180" width="6" height="25" fill="#5875e1"/><rect x="37" y="180" width="14" height="25" fill="#cbd8ee"/><rect x="51" y="180" width="4" height="25" fill="#f18d6f"/><rect x="55" y="180" width="3" height="25" fill="#8db0fe"/><rect x="58" y="180" width="14" height="25" fill="#bcd2f7"/><rect x="72" y="180" width="3" height="25" fill="#f18d6f"/><rect x="75" y="180" width="9" height="25" fill="#f6a586"/><rect x="84" y="180" width="8" height="25" fill="#8db0fe"/><rect x="92" y="180" width="8" height="25" fill="#a9c6fd"/><rect x="100" y="180" width="12" height="25" fill="#e9d5cb"/><rect x="112" y="180" width="5" height="25" fill="#cbd8ee"/><rect x="117" y="180" width="10" height="25" fill="#8db0fe"/><rect x="127" y="180" width="6" height="25" fill="#f4c6af"/><rect x="133" y="180" width="4" height="25" fill="#f4987a"/><rect x="137" y="180" width="3" height="25" fill="#d65244"/><rect x="140" y="180" width="3" height="25" fill="#f4987a"/><rect x="143" y="180" width="10" height="25" fill="#cbd8ee"/><rect x="153" y="180" width="3" height="25" fill="#f4c6af"/><rect x="156" y="180" width="4" height="25" fill="#dc5d4a"/><rect x="160" y="180" width="4" height="25" fill="#c53334"/><rect x="164" y="180" width="10" height="25" fill="#d65244"/><rect x="174" y="180" width="7" height="25" fill="#f4c6af"/><rect x="181" y="180" width="3" height="25" fill="#b3cdfb"/><rect x="184" y="180" width="3" height="25" fill="#f4987a"/><rect x="187" y="180" width="7" height="25" fill="#b40426"/><rect x="194" y="180" width="4" height="25" fill="#dc5d4a"/><rect x="198" y="180" width="3" height="25" fill="#c53334"/><rect x="201" y="180" width="3" height="25" fill="#e36c55"/><rect x="204" y="180" width="5" height="25" fill="#bcd2f7"/><rect x="209" y="180" width="12" height="25" fill="#9ebeff"/><rect x="221" y="180" width="4" height="25" fill="#f4987a"/><rect x="225" y="180" width="10" height="25" fill="#e9d5cb"/><rect x="235" y="180" width="10" height="25" fill="#85a8fc"/><rect x="245" y="180" width="2" height="25" fill="#e9d5cb"/><rect x="247" y="180" width="3" height="25" fill="#e0dbd8"/><rect x="250" y="180" width="3" height="25" fill="#dedcdb"/><rect x="253" y="180" width="2" height="25" fill="#e4d9d2"/><rect x="255" y="180" width="3" height="25" fill="#e1dad6"/><rect x="258" y="180" width="3" height="25" fill="#e5d8d1"/><rect x="261" y="180" width="2" height="25" fill="#8badfd"/><rect x="263" y="180" width="3" height="25" fill="#7b9ff9"/><rect x="266" y="180" width="2" height="25" fill="#7a9df8"/><rect x="268" y="180" width="6" height="25" fill="#84a7fc"/><rect x="274" y="180" width="2" height="25" fill="#8caffe"/><rect x="276" y="180" width="12" height="25" fill="#f4c6af"/><rect x="288" y="180" width="13" height="25" fill="#d7dce3"/><rect x="301" y="180" width="6" height="25" fill="#9ebeff"/><rect x="307" y="180" width="3" height="25" fill="#b40426"/><rect x="0" y="205" width="3" height="26" fill="#94b6ff"/><rect x="3" y="205" width="4" height="26" fill="#7b9ff9"/><rect x="7" y="205" width="3" height="26" fill="#cbd8ee"/><rect x="10" y="205" width="4" height="26" fill="#ea7b60"/><rect x="14" y="205" width="3" height="26" fill="#85a8fc"/><rect x="17" y="205" width="10" height="26" fill="#6384eb"/><rect x="27" y="205" width="7" height="26" fill="#536edd"/><rect x="34" y="205" width="3" height="26" fill="#6a8bef"/><rect x="37" y="205" width="14" height="26" fill="#cbd8ee"/><rect x="51" y="205" width="3" height="26" fill="#e57058"/><rect x="54" y="205" width="4" height="26" fill="#85a8fc"/><rect x="58" y="205" width="14" height="26" fill="#d7dce3"/><rect x="72" y="205" width="3" height="26" fill="#e36c55"/><rect x="75" y="205" width="9" height="26" fill="#f7ac8e"/><rect x="84" y="205" width="1" height="26" fill="#a6c4fe"/><rect x="85" y="205" width="2" height="26" fill="#a7c5fe"/><rect x="87" y="205" width="3" height="26" fill="#94b6ff"/><rect x="90" y="205" width="2" height="26" fill="#96b7ff"/><rect x="92" y="205" width="3" height="26" fill="#a6c4fe"/><rect x="95" y="205" width="3" height="26" fill="#98b9ff"/><rect x="98" y="205" width="2" height="26" fill="#a9c6fd"/><rect x="100" y="205" width="9" height="26" fill="#efcfbf"/><rect x="109" y="205" width="3" height="26" fill="#f7ac8e"/><rect x="112" y="205" width="1" height="26" fill="#bad0f8"/><rect x="113" y="205" width="3" height="26" fill="#adc9fd"/><rect x="116" y="205" width="3" height="26" fill="#a9c6fd"/><rect x="119" y="205" width="2" height="26" fill="#a6c4fe"/><rect x="121" y="205" width="3" height="26" fill="#a3c2fe"/><rect x="124" y="205" width="3" height="26" fill="#a6c4fe"/><rect x="127" y="205" width="2" height="26" fill="#9ebeff"/><rect x="129" y="205" width="4" height="26" fill="#f18d6f"/><rect x="133" y="205" width="4" height="26" fill="#e9d5cb"/><rect x="137" y="205" width="3" height="26" fill="#bb1b2c"/><rect x="140" y="205" width="10" height="26" fill="#efcfbf"/><rect x="150" y="205" width="6" height="26" fill="#a9c6fd"/><rect x="156" y="205" width="4" height="26" fill="#bb1b2c"/><rect x="160" y="205" width="4" height="26" fill="#ea7b60"/><rect x="164" y="205" width="6" height="26" fill="#b40426"/><rect x="170" y="205" width="4" height="26" fill="#ea7b60"/><rect x="174" y="205" width="3" height="26" fill="#b40426"/><rect x="177" y="205" width="4" height="26" fill="#f7b396"/><rect x="181" y="205" width="3" height="26" fill="#bcd2f7"/><rect x="184" y="205" width="14" height="26" fill="#bb1b2c"/><rect x="198" y="205" width="3" height="26" fill="#f4987a"/><rect x="201" y="205" width="3" height="26" fill="#b40426"/><rect x="204" y="205" width="6" height="26" fill="#f4c6af"/><rect x="210" y="205" width="11" height="26" fill="#cbd8ee"/><rect x="221" y="205" width="4" height="26" fill="#ee8468"/><rect x="225" y="205" width="10" height="26" fill="#e9d5cb"/><rect x="235" y="205" width="13" height="26" fill="#8db0fe"/><rect x="248" y="205" width="13" height="26" fill="#e9d5cb"/><rect x="261" y="205" width="2" height="26" fill="#97b8ff"/><rect x="263" y="205" width="3" height="26" fill="#a9c6fd"/><rect x="266" y="205" width="2" height="26" fill="#a1c0ff"/><rect x="268" y="205" width="3" height="26" fill="#96b7ff"/><rect x="271" y="205" width="3" height="26" fill="#9abbff"/><rect x="274" y="205" width="2" height="26" fill="#9dbdff"/><rect x="276" y="205" width="2" height="26" fill="#94b6ff"/><rect x="278" y="205" width="7" height="26" fill="#f4c6af"/><rect x="285" y="205" width="5" height="26" fill="#f18d6f"/><rect x="290" y="205" width="2" height="26" fill="#e5d8d1"/><rect x="292" y="205" width="3" height="26" fill="#e3d9d3"/><rect x="295" y="205" width="2" height="26" fill="#e6d7cf"/><rect x="297" y="205" width="3" height="26" fill="#e4d9d2"/><rect x="300" y="205" width="3" height="26" fill="#dddcdc"/><rect x="303" y="205" width="4" height="26" fill="#ead5c9"/><rect x="307" y="205" width="3" height="26" fill="#b40426"/><rect x="0" y="231" width="3" height="26" fill="#9ebeff"/><rect x="3" y="231" width="4" height="26" fill="#85a8fc"/><rect x="7" y="231" width="3" height="26" fill="#dddcdc"/><rect x="10" y="231" width="4" height="26" fill="#f4987a"/><rect x="14" y="231" width="6" height="26" fill="#6384eb"/><rect x="20" y="231" width="7" height="26" fill="#5875e1"/><rect x="27" y="231" width="7" height="26" fill="#4961d2"/><rect x="34" y="231" width="3" height="26" fill="#5977e3"/><rect x="37" y="231" width="14" height="26" fill="#94b6ff"/><rect x="51" y="231" width="4" height="26" fill="#f4987a"/><rect x="55" y="231" width="3" height="26" fill="#8db0fe"/><rect x="58" y="231" width="3" height="26" fill="#6384eb"/><rect x="61" y="231" width="11" height="26" fill="#a9c6fd"/><rect x="72" y="231" width="3" height="26" fill="#ea7b60"/><rect x="75" y="231" width="9" height="26" fill="#efcfbf"/><rect x="84" y="231" width="8" height="26" fill="#7093f3"/><rect x="92" y="231" width="8" height="26" fill="#8db0fe"/><rect x="100" y="231" width="9" height="26" fill="#dddcdc"/><rect x="109" y="231" width="3" height="26" fill="#f6bda2"/><rect x="112" y="231" width="1" height="26" fill="#84a7fc"/><rect x="113" y="231" width="6" height="26" fill="#88abfd"/><rect x="119" y="231" width="2" height="26" fill="#84a7fc"/><rect x="121" y="231" width="3" height="26" fill="#82a6fb"/><rect x="124" y="231" width="3" height="26" fill="#97b8ff"/><rect x="127" y="231" width="2" height="26" fill="#93b5fe"/><rect x="129" y="231" width="4" height="26" fill="#f7ac8e"/><rect x="133" y="231" width="4" height="26" fill="#e9d5cb"/><rect x="137" y="231" width="3" height="26" fill="#dc5d4a"/><rect x="140" y="231" width="7" height="26" fill="#bcd2f7"/><rect x="147" y="231" width="3" height="26" fill="#efcfbf"/><rect x="150" y="231" width="6" height="26" fill="#9ebeff"/><rect x="156" y="231" width="4" height="26" fill="#d65244"/><rect x="160" y="231" width="4" height="26" fill="#f4c6af"/><rect x="164" y="231" width="6" height="26" fill="#dc5d4a"/><rect x="170" y="231" width="4" height="26" fill="#f2cbb7"/><rect x="174" y="231" width="3" height="26" fill="#d65244"/><rect x="177" y="231" width="4" height="26" fill="#f7ac8e"/><rect x="181" y="231" width="3" height="26" fill="#dddcdc"/><rect x="184" y="231" width="3" height="26" fill="#dc5d4a"/><rect x="187" y="231" width="7" height="26" fill="#f18d6f"/><rect x="194" y="231" width="4" height="26" fill="#d0473d"/><rect x="198" y="231" width="3" height="26" fill="#e9d5cb"/><rect x="201" y="231" width="3" height="26" fill="#e36c55"/><rect x="204" y="231" width="1" height="26" fill="#cfdaea"/><rect x="205" y="231" width="3" height="26" fill="#c5d6f2"/><rect x="208" y="231" width="3" height="26" fill="#d3dbe7"/><rect x="211" y="231" width="5" height="26" fill="#d4dbe6"/><rect x="216" y="231" width="5" height="26" fill="#cbd8ee"/><rect x="221" y="231" width="4" height="26" fill="#f4987a"/><rect x="225" y="231" width="10" height="26" fill="#dddcdc"/><rect x="235" y="231" width="10" height="26" fill="#7093f3"/><rect x="245" y="231" width="3" height="26" fill="#9ebeff"/><rect x="248" y="231" width="14" height="26" fill="#cbd8ee"/><rect x="262" y="231" width="11" height="26" fill="#7b9ff9"/><rect x="273" y="231" width="6" height="26" fill="#9ebeff"/><rect x="279" y="231" width="6" height="26" fill="#f4c6af"/><rect x="285" y="231" width="5" height="26" fill="#f6a586"/><rect x="290" y="231" width="14" height="26" fill="#a9c6fd"/><rect x="304" y="231" width="3" height="26" fill="#cbd8ee"/><rect x="307" y="231" width="3" height="26" fill="#d65244"/><rect x="0" y="257" width="7" height="25" fill="#dddcdc"/><rect x="7" y="257" width="3" height="25" fill="#f6a586"/><rect x="10" y="257" width="4" height="25" fill="#dddcdc"/><rect x="14" y="257" width="6" height="25" fill="#5470de"/><rect x="20" y="257" width="7" height="25" fill="#4961d2"/><rect x="27" y="257" width="10" height="25" fill="#4358cb"/><rect x="37" y="257" width="14" height="25" fill="#6384eb"/><rect x="51" y="257" width="4" height="25" fill="#f4c6af"/><rect x="55" y="257" width="6" height="25" fill="#85a8fc"/><rect x="61" y="257" width="11" height="25" fill="#8db0fe"/><rect x="72" y="257" width="3" height="25" fill="#f4c6af"/><rect x="75" y="257" width="9" height="25" fill="#a9c6fd"/><rect x="84" y="257" width="5" height="25" fill="#5470de"/><rect x="89" y="257" width="6" height="25" fill="#7b9ff9"/><rect x="95" y="257" width="5" height="25" fill="#4961d2"/><rect x="100" y="257" width="12" height="25" fill="#85a8fc"/><rect x="112" y="257" width="11" height="25" fill="#5673e0"/><rect x="123" y="257" width="3" height="25" fill="#7b9ff9"/><rect x="126" y="257" width="7" height="25" fill="#a9c6fd"/><rect x="133" y="257" width="4" height="25" fill="#7093f3"/><rect x="137" y="257" width="3" height="25" fill="#f6bda2"/><rect x="140" y="257" width="7" height="25" fill="#a9c6fd"/><rect x="147" y="257" width="3" height="25" fill="#d7dce3"/><rect x="150" y="257" width="6" height="25" fill="#8db0fe"/><rect x="156" y="257" width="4" height="25" fill="#f6a586"/><rect x="160" y="257" width="4" height="25" fill="#bcd2f7"/><rect x="164" y="257" width="10" height="25" fill="#f4c6af"/><rect x="174" y="257" width="3" height="25" fill="#f7ac8e"/><rect x="177" y="257" width="4" height="25" fill="#dddcdc"/><rect x="181" y="257" width="3" height="25" fill="#6384eb"/><rect x="184" y="257" width="3" height="25" fill="#f7b396"/><rect x="187" y="257" width="7" height="25" fill="#cbd8ee"/><rect x="194" y="257" width="4" height="25" fill="#f4c6af"/><rect x="198" y="257" width="3" height="25" fill="#9ebeff"/><rect x="201" y="257" width="3" height="25" fill="#e9d5cb"/><rect x="204" y="257" width="5" height="25" fill="#8db0fe"/><rect x="209" y="257" width="3" height="25" fill="#5673e0"/><rect x="212" y="257" width="9" height="25" fill="#85a8fc"/><rect x="221" y="257" width="14" height="25" fill="#bcd2f7"/><rect x="235" y="257" width="4" height="25" fill="#5673e0"/><rect x="239" y="257" width="6" height="25" fill="#8db0fe"/><rect x="245" y="257" width="3" height="25" fill="#5673e0"/><rect x="248" y="257" width="14" height="25" fill="#85a8fc"/><rect x="262" y="257" width="11" height="25" fill="#5977e3"/><rect x="273" y="257" width="3" height="25" fill="#536edd"/><rect x="276" y="257" width="9" height="25" fill="#9ebeff"/><rect x="285" y="257" width="5" height="25" fill="#cbd8ee"/><rect x="290" y="257" width="2" height="25" fill="#688aef"/><rect x="292" y="257" width="5" height="25" fill="#779af7"/><rect x="297" y="257" width="3" height="25" fill="#7699f6"/><rect x="300" y="257" width="3" height="25" fill="#6788ee"/><rect x="303" y="257" width="2" height="25" fill="#6687ed"/><rect x="305" y="257" width="2" height="25" fill="#7295f4"/><rect x="307" y="257" width="3" height="25" fill="#f4987a"/><rect x="0" y="282" width="3" height="26" fill="#f7b396"/><rect x="3" y="282" width="7" height="26" fill="#b40426"/><rect x="10" y="282" width="4" height="26" fill="#f4c6af"/><rect x="14" y="282" width="3" height="26" fill="#8db0fe"/><rect x="17" y="282" width="14" height="26" fill="#5875e1"/><rect x="31" y="282" width="1" height="26" fill="#9dbdff"/><rect x="32" y="282" width="3" height="26" fill="#93b5fe"/><rect x="35" y="282" width="5" height="26" fill="#9abbff"/><rect x="40" y="282" width="3" height="26" fill="#a6c4fe"/><rect x="43" y="282" width="2" height="26" fill="#9ebeff"/><rect x="45" y="282" width="3" height="26" fill="#a9c6fd"/><rect x="48" y="282" width="3" height="26" fill="#a5c3fe"/><rect x="51" y="282" width="4" height="26" fill="#ee8468"/><rect x="55" y="282" width="6" height="26" fill="#dddcdc"/><rect x="61" y="282" width="4" height="26" fill="#f18d6f"/><rect x="65" y="282" width="7" height="26" fill="#e9d5cb"/><rect x="72" y="282" width="3" height="26" fill="#f7ac8e"/><rect x="75" y="282" width="9" height="26" fill="#e2dad5"/><rect x="84" y="282" width="11" height="26" fill="#9ebeff"/><rect x="95" y="282" width="12" height="26" fill="#6a8bef"/><rect x="107" y="282" width="1" height="26" fill="#80a3fa"/><rect x="108" y="282" width="3" height="26" fill="#84a7fc"/><rect x="111" y="282" width="2" height="26" fill="#7ea1fa"/><rect x="113" y="282" width="3" height="26" fill="#779af7"/><rect x="116" y="282" width="3" height="26" fill="#7da0f9"/><rect x="119" y="282" width="2" height="26" fill="#7ea1fa"/><rect x="121" y="282" width="2" height="26" fill="#7da0f9"/><rect x="123" y="282" width="14" height="26" fill="#b3cdfb"/><rect x="137" y="282" width="9" height="26" fill="#e9d5cb"/><rect x="146" y="282" width="4" height="26" fill="#f6a586"/><rect x="150" y="282" width="3" height="26" fill="#dddcdc"/><rect x="153" y="282" width="7" height="26" fill="#f6a586"/><rect x="160" y="282" width="13" height="26" fill="#efcfbf"/><rect x="173" y="282" width="8" height="26" fill="#ee8468"/><rect x="181" y="282" width="3" height="26" fill="#dddcdc"/><rect x="184" y="282" width="14" height="26" fill="#a9c6fd"/><rect x="198" y="282" width="3" height="26" fill="#7093f3"/><rect x="201" y="282" width="2" height="26" fill="#adc9fd"/><rect x="203" y="282" width="2" height="26" fill="#aec9fc"/><rect x="205" y="282" width="3" height="26" fill="#b9d0f9"/><rect x="208" y="282" width="3" height="26" fill="#bad0f8"/><rect x="211" y="282" width="2" height="26" fill="#bbd1f8"/><rect x="213" y="282" width="3" height="26" fill="#bed2f6"/><rect x="216" y="282" width="3" height="26" fill="#c5d6f2"/><rect x="219" y="282" width="2" height="26" fill="#b9d0f9"/><rect x="221" y="282" width="3" height="26" fill="#ccd9ed"/><rect x="224" y="282" width="2" height="26" fill="#b3cdfb"/><rect x="226" y="282" width="3" height="26" fill="#ccd9ed"/><rect x="229" y="282" width="3" height="26" fill="#c4d5f3"/><rect x="232" y="282" width="13" height="26" fill="#9ebeff"/><rect x="245" y="282" width="2" height="26" fill="#8caffe"/><rect x="247" y="282" width="3" height="26" fill="#86a9fc"/><rect x="250" y="282" width="3" height="26" fill="#82a6fb"/><rect x="253" y="282" width="2" height="26" fill="#8badfd"/><rect x="255" y="282" width="6" height="26" fill="#8db0fe"/><rect x="261" y="282" width="2" height="26" fill="#81a4fb"/><rect x="263" y="282" width="3" height="26" fill="#86a9fc"/><rect x="266" y="282" width="2" height="26" fill="#8caffe"/><rect x="268" y="282" width="3" height="26" fill="#84a7fc"/><rect x="271" y="282" width="3" height="26" fill="#96b7ff"/><rect x="274" y="282" width="2" height="26" fill="#89acfd"/><rect x="276" y="282" width="3" height="26" fill="#92b4fe"/><rect x="279" y="282" width="3" height="26" fill="#93b5fe"/><rect x="282" y="282" width="3" height="26" fill="#536edd"/><rect x="285" y="282" width="2" height="26" fill="#93b5fe"/><rect x="287" y="282" width="2" height="26" fill="#98b9ff"/><rect x="289" y="282" width="3" height="26" fill="#8fb1fe"/><rect x="292" y="282" width="5" height="26" fill="#90b2fe"/><rect x="297" y="282" width="3" height="26" fill="#84a7fc"/><rect x="300" y="282" width="3" height="26" fill="#8fb1fe"/><rect x="303" y="282" width="2" height="26" fill="#86a9fc"/><rect x="305" y="282" width="2" height="26" fill="#85a8fc"/><rect x="307" y="282" width="3" height="26" fill="#f18d6f"/></svg><svg class="p" style="left:716px" width="310" height="308" viewBox="0 0 310 308" shape-rendering="crispEdges"><rect x="0" y="0" width="7" height="26" fill="#ee8468"/><rect x="7" y="0" width="8" height="26" fill="#f2cbb7"/><rect x="15" y="0" width="3" height="26" fill="#6c8ff1"/><rect x="18" y="0" width="4" height="26" fill="#bbd1f8"/><rect x="22" y="0" width="4" height="26" fill="#dddcdc"/><rect x="26" y="0" width="4" height="26" fill="#f6bda2"/><rect x="30" y="0" width="4" height="26" fill="#e9d5cb"/><rect x="34" y="0" width="3" height="26" fill="#cdd9ec"/><rect x="37" y="0" width="7" height="26" fill="#97b8ff"/><rect x="44" y="0" width="5" height="26" fill="#85a8fc"/><rect x="49" y="0" width="3" height="26" fill="#9ebeff"/><rect x="52" y="0" width="8" height="26" fill="#bbd1f8"/><rect x="60" y="0" width="3" height="26" fill="#97b8ff"/><rect x="63" y="0" width="4" height="26" fill="#cdd9ec"/><rect x="67" y="0" width="8" height="26" fill="#a2c1ff"/><rect x="75" y="0" width="3" height="26" fill="#f2cbb7"/><rect x="78" y="0" width="8" height="26" fill="#dddcdc"/><rect x="86" y="0" width="4" height="26" fill="#f2cbb7"/><rect x="90" y="0" width="7" height="26" fill="#d7dce3"/><rect x="97" y="0" width="1" height="26" fill="#dcdddd"/><rect x="98" y="0" width="2" height="26" fill="#e7d7ce"/><rect x="100" y="0" width="3" height="26" fill="#e8d6cc"/><rect x="103" y="0" width="3" height="26" fill="#e3d9d3"/><rect x="106" y="0" width="2" height="26" fill="#e4d9d2"/><rect x="108" y="0" width="3" height="26" fill="#dedcdb"/><rect x="111" y="0" width="1" height="26" fill="#ead4c8"/><rect x="112" y="0" width="11" height="26" fill="#bbd1f8"/><rect x="123" y="0" width="4" height="26" fill="#90b2fe"/><rect x="127" y="0" width="8" height="26" fill="#b3cdfb"/><rect x="135" y="0" width="8" height="26" fill="#97b8ff"/><rect x="143" y="0" width="13" height="26" fill="#85a8fc"/><rect x="156" y="0" width="8" height="26" fill="#a2c1ff"/><rect x="164" y="0" width="5" height="26" fill="#7ea1fa"/><rect x="169" y="0" width="9" height="26" fill="#a2c1ff"/><rect x="178" y="0" width="1" height="26" fill="#bcd2f7"/><rect x="179" y="0" width="3" height="26" fill="#b6cefa"/><rect x="182" y="0" width="2" height="26" fill="#bbd1f8"/><rect x="184" y="0" width="3" height="26" fill="#c6d6f1"/><rect x="187" y="0" width="3" height="26" fill="#c0d4f5"/><rect x="190" y="0" width="2" height="26" fill="#bbd1f8"/><rect x="192" y="0" width="3" height="26" fill="#c3d5f4"/><rect x="195" y="0" width="3" height="26" fill="#c5d6f2"/><rect x="198" y="0" width="2" height="26" fill="#c0d4f5"/><rect x="200" y="0" width="2" height="26" fill="#c5d6f2"/><rect x="202" y="0" width="1" height="26" fill="#b2ccfb"/><rect x="203" y="0" width="2" height="26" fill="#adc9fd"/><rect x="205" y="0" width="3" height="26" fill="#abc8fd"/><rect x="208" y="0" width="3" height="26" fill="#a7c5fe"/><rect x="211" y="0" width="2" height="26" fill="#aec9fc"/><rect x="213" y="0" width="3" height="26" fill="#a3c2fe"/><rect x="216" y="0" width="2" height="26" fill="#b1cbfc"/><rect x="218" y="0" width="1" height="26" fill="#84a7fc"/><rect x="219" y="0" width="2" height="26" fill="#7396f5"/><rect x="221" y="0" width="3" height="26" fill="#80a3fa"/><rect x="224" y="0" width="2" height="26" fill="#7093f3"/><rect x="226" y="0" width="3" height="26" fill="#779af7"/><rect x="229" y="0" width="3" height="26" fill="#81a4fb"/><rect x="232" y="0" width="2" height="26" fill="#7295f4"/><rect x="234" y="0" width="2" height="26" fill="#7396f5"/><rect x="236" y="0" width="11" height="26" fill="#85a8fc"/><rect x="247" y="0" width="8" height="26" fill="#6384eb"/><rect x="255" y="0" width="3" height="26" fill="#779af7"/><rect x="258" y="0" width="3" height="26" fill="#688aef"/><rect x="261" y="0" width="2" height="26" fill="#6e90f2"/><rect x="263" y="0" width="3" height="26" fill="#6384eb"/><rect x="266" y="0" width="2" height="26" fill="#7093f3"/><rect x="268" y="0" width="3" height="26" fill="#7295f4"/><rect x="271" y="0" width="3" height="26" fill="#7699f6"/><rect x="274" y="0" width="2" height="26" fill="#6e90f2"/><rect x="276" y="0" width="12" height="26" fill="#7b9ff9"/><rect x="288" y="0" width="8" height="26" fill="#85a8fc"/><rect x="296" y="0" width="11" height="26" fill="#6c8ff1"/><rect x="307" y="0" width="3" height="26" fill="#85a8fc"/><rect x="0" y="26" width="7" height="25" fill="#e9d5cb"/><rect x="7" y="26" width="4" height="25" fill="#a9c6fd"/><rect x="11" y="26" width="4" height="25" fill="#f7ac8e"/><rect x="15" y="26" width="3" height="25" fill="#a2c1ff"/><rect x="18" y="26" width="4" height="25" fill="#efcfbf"/><rect x="22" y="26" width="8" height="25" fill="#9ebeff"/><rect x="30" y="26" width="4" height="25" fill="#85a8fc"/><rect x="34" y="26" width="3" height="25" fill="#bbd1f8"/><rect x="37" y="26" width="7" height="25" fill="#89acfd"/><rect x="44" y="26" width="8" height="25" fill="#6384eb"/><rect x="52" y="26" width="8" height="25" fill="#90b2fe"/><rect x="60" y="26" width="3" height="25" fill="#5b7ae5"/><rect x="63" y="26" width="8" height="25" fill="#85a8fc"/><rect x="71" y="26" width="4" height="25" fill="#536edd"/><rect x="75" y="26" width="8" height="25" fill="#85a8fc"/><rect x="83" y="26" width="2" height="25" fill="#6485ec"/><rect x="85" y="26" width="2" height="25" fill="#6282ea"/><rect x="87" y="26" width="3" height="25" fill="#6485ec"/><rect x="90" y="26" width="2" height="25" fill="#688aef"/><rect x="92" y="26" width="3" height="25" fill="#5e7de7"/><rect x="95" y="26" width="3" height="25" fill="#5f7fe8"/><rect x="98" y="26" width="2" height="25" fill="#6687ed"/><rect x="100" y="26" width="3" height="25" fill="#6788ee"/><rect x="103" y="26" width="3" height="25" fill="#6485ec"/><rect x="106" y="26" width="2" height="25" fill="#6687ed"/><rect x="108" y="26" width="3" height="25" fill="#6282ea"/><rect x="111" y="26" width="1" height="25" fill="#6788ee"/><rect x="112" y="26" width="1" height="25" fill="#5a78e4"/><rect x="113" y="26" width="3" height="25" fill="#5b7ae5"/><rect x="116" y="26" width="3" height="25" fill="#536edd"/><rect x="119" y="26" width="2" height="25" fill="#5673e0"/><rect x="121" y="26" width="3" height="25" fill="#5977e3"/><rect x="124" y="26" width="3" height="25" fill="#5b7ae5"/><rect x="127" y="26" width="2" height="25" fill="#5a78e4"/><rect x="129" y="26" width="3" height="25" fill="#5875e1"/><rect x="132" y="26" width="1" height="25" fill="#5673e0"/><rect x="133" y="26" width="1" height="25" fill="#4961d2"/><rect x="134" y="26" width="3" height="25" fill="#4c66d6"/><rect x="137" y="26" width="3" height="25" fill="#445acc"/><rect x="140" y="26" width="2" height="25" fill="#485fd1"/><rect x="142" y="26" width="6" height="25" fill="#4f69d9"/><rect x="148" y="26" width="2" height="25" fill="#4a63d3"/><rect x="150" y="26" width="3" height="25" fill="#4b64d5"/><rect x="153" y="26" width="2" height="25" fill="#4f69d9"/><rect x="155" y="26" width="9" height="25" fill="#536edd"/><rect x="164" y="26" width="14" height="25" fill="#4c66d6"/><rect x="178" y="26" width="1" height="25" fill="#455cce"/><rect x="179" y="26" width="3" height="25" fill="#4c66d6"/><rect x="182" y="26" width="2" height="25" fill="#465ecf"/><rect x="184" y="26" width="3" height="25" fill="#4a63d3"/><rect x="187" y="26" width="3" height="25" fill="#485fd1"/><rect x="190" y="26" width="2" height="25" fill="#4b64d5"/><rect x="192" y="26" width="3" height="25" fill="#4961d2"/><rect x="195" y="26" width="3" height="25" fill="#4c66d6"/><rect x="198" y="26" width="2" height="25" fill="#4b64d5"/><rect x="200" y="26" width="3" height="25" fill="#4e68d8"/><rect x="203" y="26" width="2" height="25" fill="#455cce"/><rect x="205" y="26" width="3" height="25" fill="#465ecf"/><rect x="208" y="26" width="3" height="25" fill="#4e68d8"/><rect x="211" y="26" width="2" height="25" fill="#4c66d6"/><rect x="213" y="26" width="3" height="25" fill="#4a63d3"/><rect x="216" y="26" width="3" height="25" fill="#465ecf"/><rect x="219" y="26" width="2" height="25" fill="#3e51c5"/><rect x="221" y="26" width="3" height="25" fill="#4257c9"/><rect x="224" y="26" width="2" height="25" fill="#3e51c5"/><rect x="226" y="26" width="3" height="25" fill="#4055c8"/><rect x="229" y="26" width="5" height="25" fill="#3c4ec2"/><rect x="234" y="26" width="3" height="25" fill="#455cce"/><rect x="237" y="26" width="5" height="25" fill="#445acc"/><rect x="242" y="26" width="3" height="25" fill="#3c4ec2"/><rect x="245" y="26" width="2" height="25" fill="#455cce"/><rect x="247" y="26" width="3" height="25" fill="#3d50c3"/><rect x="250" y="26" width="5" height="25" fill="#3b4cc0"/><rect x="255" y="26" width="3" height="25" fill="#3c4ec2"/><rect x="258" y="26" width="3" height="25" fill="#3b4cc0"/><rect x="261" y="26" width="2" height="25" fill="#4257c9"/><rect x="263" y="26" width="3" height="25" fill="#4055c8"/><rect x="266" y="26" width="2" height="25" fill="#455cce"/><rect x="268" y="26" width="3" height="25" fill="#3f53c6"/><rect x="271" y="26" width="3" height="25" fill="#3d50c3"/><rect x="274" y="26" width="2" height="25" fill="#4055c8"/><rect x="276" y="26" width="3" height="25" fill="#465ecf"/><rect x="279" y="26" width="3" height="25" fill="#455cce"/><rect x="282" y="26" width="2" height="25" fill="#3f53c6"/><rect x="284" y="26" width="3" height="25" fill="#4358cb"/><rect x="287" y="26" width="2" height="25" fill="#485fd1"/><rect x="289" y="26" width="8" height="25" fill="#3f53c6"/><rect x="297" y="26" width="3" height="25" fill="#3e51c5"/><rect x="300" y="26" width="3" height="25" fill="#455cce"/><rect x="303" y="26" width="2" height="25" fill="#3f53c6"/><rect x="305" y="26" width="2" height="25" fill="#455cce"/><rect x="307" y="26" width="3" height="25" fill="#5875e1"/><rect x="0" y="51" width="4" height="26" fill="#e9d5cb"/><rect x="4" y="51" width="3" height="26" fill="#c3d5f4"/><rect x="7" y="51" width="4" height="26" fill="#a9c6fd"/><rect x="11" y="51" width="4" height="26" fill="#c53334"/><rect x="15" y="51" width="7" height="26" fill="#e8765c"/><rect x="22" y="51" width="4" height="26" fill="#f7ac8e"/><rect x="26" y="51" width="4" height="26" fill="#e2dad5"/><rect x="30" y="51" width="4" height="26" fill="#90b2fe"/><rect x="34" y="51" width="3" height="26" fill="#f6bda2"/><rect x="37" y="51" width="7" height="26" fill="#e9d5cb"/><rect x="44" y="51" width="8" height="26" fill="#bbd1f8"/><rect x="52" y="51" width="8" height="26" fill="#d7dce3"/><rect x="60" y="51" width="7" height="26" fill="#b3cdfb"/><rect x="67" y="51" width="8" height="26" fill="#a9c6fd"/><rect x="75" y="51" width="8" height="26" fill="#b3cdfb"/><rect x="83" y="51" width="11" height="26" fill="#97b8ff"/><rect x="94" y="51" width="1" height="26" fill="#80a3fa"/><rect x="95" y="51" width="3" height="26" fill="#7597f6"/><rect x="98" y="51" width="2" height="26" fill="#7da0f9"/><rect x="100" y="51" width="3" height="26" fill="#7597f6"/><rect x="103" y="51" width="3" height="26" fill="#81a4fb"/><rect x="106" y="51" width="2" height="26" fill="#7ea1fa"/><rect x="108" y="51" width="3" height="26" fill="#84a7fc"/><rect x="111" y="51" width="1" height="26" fill="#7093f3"/><rect x="112" y="51" width="1" height="26" fill="#6384eb"/><rect x="113" y="51" width="3" height="26" fill="#779af7"/><rect x="116" y="51" width="3" height="26" fill="#7597f6"/><rect x="119" y="51" width="2" height="26" fill="#6687ed"/><rect x="121" y="51" width="3" height="26" fill="#779af7"/><rect x="124" y="51" width="3" height="26" fill="#7295f4"/><rect x="127" y="51" width="2" height="26" fill="#6485ec"/><rect x="129" y="51" width="3" height="26" fill="#7699f6"/><rect x="132" y="51" width="5" height="26" fill="#6384eb"/><rect x="137" y="51" width="1" height="26" fill="#6c8ff1"/><rect x="138" y="51" width="2" height="26" fill="#5e7de7"/><rect x="140" y="51" width="2" height="26" fill="#5d7ce6"/><rect x="142" y="51" width="3" height="26" fill="#5e7de7"/><rect x="145" y="51" width="5" height="26" fill="#6282ea"/><rect x="150" y="51" width="3" height="26" fill="#5b7ae5"/><rect x="153" y="51" width="2" height="26" fill="#4f69d9"/><rect x="155" y="51" width="3" height="26" fill="#506bda"/><rect x="158" y="51" width="3" height="26" fill="#4f69d9"/><rect x="161" y="51" width="2" height="26" fill="#5470de"/><rect x="163" y="51" width="3" height="26" fill="#506bda"/><rect x="166" y="51" width="3" height="26" fill="#4e68d8"/><rect x="169" y="51" width="2" height="26" fill="#485fd1"/><rect x="171" y="51" width="3" height="26" fill="#4055c8"/><rect x="174" y="51" width="5" height="26" fill="#4257c9"/><rect x="179" y="51" width="3" height="26" fill="#465ecf"/><rect x="182" y="51" width="2" height="26" fill="#445acc"/><rect x="184" y="51" width="6" height="26" fill="#465ecf"/><rect x="190" y="51" width="2" height="26" fill="#4055c8"/><rect x="192" y="51" width="3" height="26" fill="#3d50c3"/><rect x="195" y="51" width="3" height="26" fill="#465ecf"/><rect x="198" y="51" width="2" height="26" fill="#3e51c5"/><rect x="200" y="51" width="3" height="26" fill="#4961d2"/><rect x="203" y="51" width="2" height="26" fill="#3f53c6"/><rect x="205" y="51" width="3" height="26" fill="#445acc"/><rect x="208" y="51" width="3" height="26" fill="#4961d2"/><rect x="211" y="51" width="2" height="26" fill="#465ecf"/><rect x="213" y="51" width="3" height="26" fill="#3e51c5"/><rect x="216" y="51" width="3" height="26" fill="#4055c8"/><rect x="219" y="51" width="2" height="26" fill="#3e51c5"/><rect x="221" y="51" width="3" height="26" fill="#455cce"/><rect x="224" y="51" width="5" height="26" fill="#4358cb"/><rect x="229" y="51" width="3" height="26" fill="#4055c8"/><rect x="232" y="51" width="2" height="26" fill="#445acc"/><rect x="234" y="51" width="3" height="26" fill="#4358cb"/><rect x="237" y="51" width="3" height="26" fill="#465ecf"/><rect x="240" y="51" width="2" height="26" fill="#445acc"/><rect x="242" y="51" width="3" height="26" fill="#3d50c3"/><rect x="245" y="51" width="2" height="26" fill="#4961d2"/><rect x="247" y="51" width="3" height="26" fill="#3f53c6"/><rect x="250" y="51" width="3" height="26" fill="#4358cb"/><rect x="253" y="51" width="2" height="26" fill="#4257c9"/><rect x="255" y="51" width="3" height="26" fill="#485fd1"/><rect x="258" y="51" width="3" height="26" fill="#4358cb"/><rect x="261" y="51" width="5" height="26" fill="#3b4cc0"/><rect x="266" y="51" width="2" height="26" fill="#3c4ec2"/><rect x="268" y="51" width="27" height="26" fill="#3b4cc0"/><rect x="295" y="51" width="2" height="26" fill="#3f53c6"/><rect x="297" y="51" width="2" height="26" fill="#3b4cc0"/><rect x="299" y="51" width="11" height="26" fill="#465ecf"/><rect x="0" y="77" width="4" height="26" fill="#dddcdc"/><rect x="4" y="77" width="3" height="26" fill="#b3cdfb"/><rect x="7" y="77" width="4" height="26" fill="#9ebeff"/><rect x="11" y="77" width="11" height="26" fill="#b40426"/><rect x="22" y="77" width="4" height="26" fill="#d65244"/><rect x="26" y="77" width="4" height="26" fill="#f7ac8e"/><rect x="30" y="77" width="4" height="26" fill="#e9d5cb"/><rect x="34" y="77" width="3" height="26" fill="#ea7b60"/><rect x="37" y="77" width="7" height="26" fill="#f39577"/><rect x="44" y="77" width="8" height="26" fill="#f6bda2"/><rect x="52" y="77" width="4" height="26" fill="#f59d7e"/><rect x="56" y="77" width="4" height="26" fill="#f7ba9f"/><rect x="60" y="77" width="7" height="26" fill="#f2cbb7"/><rect x="67" y="77" width="2" height="26" fill="#e8d6cc"/><rect x="69" y="77" width="2" height="26" fill="#efcfbf"/><rect x="71" y="77" width="3" height="26" fill="#e5d8d1"/><rect x="74" y="77" width="3" height="26" fill="#ead4c8"/><rect x="77" y="77" width="2" height="26" fill="#ecd3c5"/><rect x="79" y="77" width="3" height="26" fill="#e5d8d1"/><rect x="82" y="77" width="8" height="26" fill="#cdd9ec"/><rect x="90" y="77" width="4" height="26" fill="#dddcdc"/><rect x="94" y="77" width="7" height="26" fill="#b3cdfb"/><rect x="101" y="77" width="4" height="26" fill="#cdd9ec"/><rect x="105" y="77" width="1" height="26" fill="#afcafc"/><rect x="106" y="77" width="2" height="26" fill="#b5cdfa"/><rect x="108" y="77" width="3" height="26" fill="#a6c4fe"/><rect x="111" y="77" width="2" height="26" fill="#b2ccfb"/><rect x="113" y="77" width="3" height="26" fill="#afcafc"/><rect x="116" y="77" width="5" height="26" fill="#a9c6fd"/><rect x="121" y="77" width="2" height="26" fill="#a5c3fe"/><rect x="123" y="77" width="10" height="26" fill="#97b8ff"/><rect x="133" y="77" width="13" height="26" fill="#82a6fb"/><rect x="146" y="77" width="2" height="26" fill="#7597f6"/><rect x="148" y="77" width="2" height="26" fill="#7396f5"/><rect x="150" y="77" width="3" height="26" fill="#6687ed"/><rect x="153" y="77" width="2" height="26" fill="#799cf8"/><rect x="155" y="77" width="8" height="26" fill="#7295f4"/><rect x="163" y="77" width="3" height="26" fill="#6c8ff1"/><rect x="166" y="77" width="3" height="26" fill="#5e7de7"/><rect x="169" y="77" width="2" height="26" fill="#6b8df0"/><rect x="171" y="77" width="3" height="26" fill="#6e90f2"/><rect x="174" y="77" width="3" height="26" fill="#6f92f3"/><rect x="177" y="77" width="2" height="26" fill="#6485ec"/><rect x="179" y="77" width="11" height="26" fill="#5b7ae5"/><rect x="190" y="77" width="2" height="26" fill="#506bda"/><rect x="192" y="77" width="3" height="26" fill="#516ddb"/><rect x="195" y="77" width="3" height="26" fill="#4f69d9"/><rect x="198" y="77" width="5" height="26" fill="#4e68d8"/><rect x="203" y="77" width="2" height="26" fill="#5572df"/><rect x="205" y="77" width="3" height="26" fill="#506bda"/><rect x="208" y="77" width="3" height="26" fill="#5470de"/><rect x="211" y="77" width="2" height="26" fill="#536edd"/><rect x="213" y="77" width="3" height="26" fill="#455cce"/><rect x="216" y="77" width="3" height="26" fill="#4c66d6"/><rect x="219" y="77" width="2" height="26" fill="#4358cb"/><rect x="221" y="77" width="3" height="26" fill="#4a63d3"/><rect x="224" y="77" width="2" height="26" fill="#445acc"/><rect x="226" y="77" width="3" height="26" fill="#4961d2"/><rect x="229" y="77" width="3" height="26" fill="#4257c9"/><rect x="232" y="77" width="2" height="26" fill="#4961d2"/><rect x="234" y="77" width="3" height="26" fill="#4055c8"/><rect x="237" y="77" width="3" height="26" fill="#485fd1"/><rect x="240" y="77" width="2" height="26" fill="#4a63d3"/><rect x="242" y="77" width="3" height="26" fill="#455cce"/><rect x="245" y="77" width="2" height="26" fill="#4257c9"/><rect x="247" y="77" width="3" height="26" fill="#485fd1"/><rect x="250" y="77" width="3" height="26" fill="#445acc"/><rect x="253" y="77" width="2" height="26" fill="#4b64d5"/><rect x="255" y="77" width="3" height="26" fill="#4055c8"/><rect x="258" y="77" width="3" height="26" fill="#4c66d6"/><rect x="261" y="77" width="2" height="26" fill="#445acc"/><rect x="263" y="77" width="8" height="26" fill="#465ecf"/><rect x="271" y="77" width="3" height="26" fill="#4961d2"/><rect x="274" y="77" width="2" height="26" fill="#465ecf"/><rect x="276" y="77" width="3" height="26" fill="#3e51c5"/><rect x="279" y="77" width="3" height="26" fill="#4257c9"/><rect x="282" y="77" width="2" height="26" fill="#3b4cc0"/><rect x="284" y="77" width="3" height="26" fill="#3e51c5"/><rect x="287" y="77" width="2" height="26" fill="#3b4cc0"/><rect x="289" y="77" width="6" height="26" fill="#3d50c3"/><rect x="295" y="77" width="2" height="26" fill="#3c4ec2"/><rect x="297" y="77" width="10" height="26" fill="#3b4cc0"/><rect x="307" y="77" width="3" height="26" fill="#4c66d6"/><rect x="0" y="103" width="4" height="25" fill="#bbd1f8"/><rect x="4" y="103" width="7" height="25" fill="#a9c6fd"/><rect x="11" y="103" width="4" height="25" fill="#f7b396"/><rect x="15" y="103" width="3" height="25" fill="#d65244"/><rect x="18" y="103" width="4" height="25" fill="#be242e"/><rect x="22" y="103" width="34" height="25" fill="#b40426"/><rect x="56" y="103" width="7" height="25" fill="#c32e31"/><rect x="63" y="103" width="12" height="25" fill="#e57058"/><rect x="75" y="103" width="3" height="25" fill="#f6a586"/><rect x="78" y="103" width="4" height="25" fill="#e16751"/><rect x="82" y="103" width="4" height="25" fill="#f18d6f"/><rect x="86" y="103" width="4" height="25" fill="#dddcdc"/><rect x="90" y="103" width="4" height="25" fill="#f4987a"/><rect x="94" y="103" width="3" height="25" fill="#f2cbb7"/><rect x="97" y="103" width="4" height="25" fill="#d7dce3"/><rect x="101" y="103" width="4" height="25" fill="#f59d7e"/><rect x="105" y="103" width="7" height="25" fill="#d1dae9"/><rect x="112" y="103" width="5" height="25" fill="#f2cbb7"/><rect x="117" y="103" width="3" height="25" fill="#d7dce3"/><rect x="120" y="103" width="7" height="25" fill="#e9d5cb"/><rect x="127" y="103" width="8" height="25" fill="#c3d5f4"/><rect x="135" y="103" width="3" height="25" fill="#dddcdc"/><rect x="138" y="103" width="4" height="25" fill="#89acfd"/><rect x="142" y="103" width="7" height="25" fill="#c3d5f4"/><rect x="149" y="103" width="4" height="25" fill="#89acfd"/><rect x="153" y="103" width="11" height="25" fill="#adc9fd"/><rect x="164" y="103" width="5" height="25" fill="#c3d5f4"/><rect x="169" y="103" width="10" height="25" fill="#97b8ff"/><rect x="179" y="103" width="11" height="25" fill="#7b9ff9"/><rect x="190" y="103" width="2" height="25" fill="#5875e1"/><rect x="192" y="103" width="3" height="25" fill="#5f7fe8"/><rect x="195" y="103" width="3" height="25" fill="#5977e3"/><rect x="198" y="103" width="7" height="25" fill="#5d7ce6"/><rect x="205" y="103" width="1" height="25" fill="#5977e3"/><rect x="206" y="103" width="12" height="25" fill="#6c8ff1"/><rect x="218" y="103" width="12" height="25" fill="#5b7ae5"/><rect x="230" y="103" width="2" height="25" fill="#5572df"/><rect x="232" y="103" width="2" height="25" fill="#5470de"/><rect x="234" y="103" width="6" height="25" fill="#536edd"/><rect x="240" y="103" width="2" height="25" fill="#5673e0"/><rect x="242" y="103" width="3" height="25" fill="#5977e3"/><rect x="245" y="103" width="2" height="25" fill="#4f69d9"/><rect x="247" y="103" width="6" height="25" fill="#536edd"/><rect x="253" y="103" width="2" height="25" fill="#4a63d3"/><rect x="255" y="103" width="3" height="25" fill="#4c66d6"/><rect x="258" y="103" width="3" height="25" fill="#4a63d3"/><rect x="261" y="103" width="2" height="25" fill="#4b64d5"/><rect x="263" y="103" width="3" height="25" fill="#5470de"/><rect x="266" y="103" width="2" height="25" fill="#4b64d5"/><rect x="268" y="103" width="3" height="25" fill="#536edd"/><rect x="271" y="103" width="3" height="25" fill="#4b64d5"/><rect x="274" y="103" width="2" height="25" fill="#4e68d8"/><rect x="276" y="103" width="3" height="25" fill="#4c66d6"/><rect x="279" y="103" width="3" height="25" fill="#506bda"/><rect x="282" y="103" width="2" height="25" fill="#4e68d8"/><rect x="284" y="103" width="3" height="25" fill="#4b64d5"/><rect x="287" y="103" width="2" height="25" fill="#4a63d3"/><rect x="289" y="103" width="2" height="25" fill="#4f69d9"/><rect x="291" y="103" width="1" height="25" fill="#4257c9"/><rect x="292" y="103" width="3" height="25" fill="#455cce"/><rect x="295" y="103" width="2" height="25" fill="#445acc"/><rect x="297" y="103" width="3" height="25" fill="#4055c8"/><rect x="300" y="103" width="3" height="25" fill="#3e51c5"/><rect x="303" y="103" width="2" height="25" fill="#445acc"/><rect x="305" y="103" width="2" height="25" fill="#4358cb"/><rect x="307" y="103" width="3" height="25" fill="#5b7ae5"/><rect x="0" y="128" width="4" height="26" fill="#9ebeff"/><rect x="4" y="128" width="3" height="26" fill="#82a6fb"/><rect x="7" y="128" width="8" height="26" fill="#bbd1f8"/><rect x="15" y="128" width="11" height="26" fill="#f4c6af"/><rect x="26" y="128" width="8" height="26" fill="#dc5d4a"/><rect x="34" y="128" width="3" height="26" fill="#f4c6af"/><rect x="37" y="128" width="12" height="26" fill="#f39577"/><rect x="49" y="128" width="3" height="26" fill="#ee8468"/><rect x="52" y="128" width="8" height="26" fill="#f59d7e"/><rect x="60" y="128" width="3" height="26" fill="#e57058"/><rect x="63" y="128" width="8" height="26" fill="#f4c6af"/><rect x="71" y="128" width="4" height="26" fill="#f6a586"/><rect x="75" y="128" width="3" height="26" fill="#dddcdc"/><rect x="78" y="128" width="8" height="26" fill="#f7b396"/><rect x="86" y="128" width="4" height="26" fill="#b3cdfb"/><rect x="90" y="128" width="4" height="26" fill="#f5c0a7"/><rect x="94" y="128" width="7" height="26" fill="#c3d5f4"/><rect x="101" y="128" width="4" height="26" fill="#f5c0a7"/><rect x="105" y="128" width="12" height="26" fill="#b3cdfb"/><rect x="117" y="128" width="10" height="26" fill="#97b8ff"/><rect x="127" y="128" width="11" height="26" fill="#c3d5f4"/><rect x="138" y="128" width="2" height="26" fill="#a7c5fe"/><rect x="140" y="128" width="2" height="26" fill="#a2c1ff"/><rect x="142" y="128" width="3" height="26" fill="#9dbdff"/><rect x="145" y="128" width="3" height="26" fill="#9fbfff"/><rect x="148" y="128" width="2" height="26" fill="#a2c1ff"/><rect x="150" y="128" width="3" height="26" fill="#93b5fe"/><rect x="153" y="128" width="2" height="26" fill="#81a4fb"/><rect x="155" y="128" width="3" height="26" fill="#85a8fc"/><rect x="158" y="128" width="3" height="26" fill="#84a7fc"/><rect x="161" y="128" width="5" height="26" fill="#94b6ff"/><rect x="166" y="128" width="3" height="26" fill="#84a7fc"/><rect x="169" y="128" width="2" height="26" fill="#9abbff"/><rect x="171" y="128" width="3" height="26" fill="#a9c6fd"/><rect x="174" y="128" width="3" height="26" fill="#9abbff"/><rect x="177" y="128" width="2" height="26" fill="#aec9fc"/><rect x="179" y="128" width="5" height="26" fill="#a7c5fe"/><rect x="184" y="128" width="3" height="26" fill="#adc9fd"/><rect x="187" y="128" width="3" height="26" fill="#a1c0ff"/><rect x="190" y="128" width="14" height="26" fill="#7b9ff9"/><rect x="204" y="128" width="1" height="26" fill="#8db0fe"/><rect x="205" y="128" width="3" height="26" fill="#8fb1fe"/><rect x="208" y="128" width="3" height="26" fill="#85a8fc"/><rect x="211" y="128" width="2" height="26" fill="#89acfd"/><rect x="213" y="128" width="3" height="26" fill="#88abfd"/><rect x="216" y="128" width="3" height="26" fill="#85a8fc"/><rect x="219" y="128" width="2" height="26" fill="#80a3fa"/><rect x="221" y="128" width="3" height="26" fill="#85a8fc"/><rect x="224" y="128" width="5" height="26" fill="#7b9ff9"/><rect x="229" y="128" width="3" height="26" fill="#8badfd"/><rect x="232" y="128" width="2" height="26" fill="#84a7fc"/><rect x="234" y="128" width="3" height="26" fill="#90b2fe"/><rect x="237" y="128" width="3" height="26" fill="#92b4fe"/><rect x="240" y="128" width="2" height="26" fill="#85a8fc"/><rect x="242" y="128" width="3" height="26" fill="#81a4fb"/><rect x="245" y="128" width="2" height="26" fill="#89acfd"/><rect x="247" y="128" width="3" height="26" fill="#7b9ff9"/><rect x="250" y="128" width="3" height="26" fill="#7ea1fa"/><rect x="253" y="128" width="2" height="26" fill="#80a3fa"/><rect x="255" y="128" width="3" height="26" fill="#86a9fc"/><rect x="258" y="128" width="3" height="26" fill="#92b4fe"/><rect x="261" y="128" width="2" height="26" fill="#6a8bef"/><rect x="263" y="128" width="3" height="26" fill="#7597f6"/><rect x="266" y="128" width="2" height="26" fill="#6282ea"/><rect x="268" y="128" width="3" height="26" fill="#799cf8"/><rect x="271" y="128" width="3" height="26" fill="#6f92f3"/><rect x="274" y="128" width="5" height="26" fill="#7597f6"/><rect x="279" y="128" width="3" height="26" fill="#7699f6"/><rect x="282" y="128" width="2" height="26" fill="#6c8ff1"/><rect x="284" y="128" width="3" height="26" fill="#7ea1fa"/><rect x="287" y="128" width="2" height="26" fill="#7597f6"/><rect x="289" y="128" width="3" height="26" fill="#80a3fa"/><rect x="292" y="128" width="3" height="26" fill="#7295f4"/><rect x="295" y="128" width="2" height="26" fill="#799cf8"/><rect x="297" y="128" width="3" height="26" fill="#688aef"/><rect x="300" y="128" width="3" height="26" fill="#7699f6"/><rect x="303" y="128" width="4" height="26" fill="#80a3fa"/><rect x="307" y="128" width="3" height="26" fill="#7b9ff9"/><rect x="0" y="154" width="4" height="26" fill="#a9c6fd"/><rect x="4" y="154" width="3" height="26" fill="#85a8fc"/><rect x="7" y="154" width="4" height="26" fill="#f6bda2"/><rect x="11" y="154" width="4" height="26" fill="#85a8fc"/><rect x="15" y="154" width="7" height="26" fill="#b3cdfb"/><rect x="22" y="154" width="4" height="26" fill="#85a8fc"/><rect x="26" y="154" width="4" height="26" fill="#f18d6f"/><rect x="30" y="154" width="4" height="26" fill="#b40426"/><rect x="34" y="154" width="3" height="26" fill="#dddcdc"/><rect x="37" y="154" width="12" height="26" fill="#f2cbb7"/><rect x="49" y="154" width="11" height="26" fill="#f18d6f"/><rect x="60" y="154" width="3" height="26" fill="#d0473d"/><rect x="63" y="154" width="4" height="26" fill="#f39577"/><rect x="67" y="154" width="8" height="26" fill="#e36c55"/><rect x="75" y="154" width="3" height="26" fill="#f7b396"/><rect x="78" y="154" width="8" height="26" fill="#dc5d4a"/><rect x="86" y="154" width="4" height="26" fill="#efcfbf"/><rect x="90" y="154" width="4" height="26" fill="#dc5d4a"/><rect x="94" y="154" width="3" height="26" fill="#f6a586"/><rect x="97" y="154" width="4" height="26" fill="#e9d5cb"/><rect x="101" y="154" width="4" height="26" fill="#dc5d4a"/><rect x="105" y="154" width="7" height="26" fill="#f7b396"/><rect x="112" y="154" width="5" height="26" fill="#e57058"/><rect x="117" y="154" width="3" height="26" fill="#f7ba9f"/><rect x="120" y="154" width="7" height="26" fill="#ee8468"/><rect x="127" y="154" width="4" height="26" fill="#f4c6af"/><rect x="131" y="154" width="7" height="26" fill="#f18d6f"/><rect x="138" y="154" width="4" height="26" fill="#f4c6af"/><rect x="142" y="154" width="7" height="26" fill="#f39577"/><rect x="149" y="154" width="4" height="26" fill="#f4c6af"/><rect x="153" y="154" width="11" height="26" fill="#f39577"/><rect x="164" y="154" width="5" height="26" fill="#ea7b60"/><rect x="169" y="154" width="10" height="26" fill="#f6a283"/><rect x="179" y="154" width="11" height="26" fill="#f7b396"/><rect x="190" y="154" width="8" height="26" fill="#f4987a"/><rect x="198" y="154" width="6" height="26" fill="#f18d6f"/><rect x="204" y="154" width="1" height="26" fill="#f59c7d"/><rect x="205" y="154" width="6" height="26" fill="#f29274"/><rect x="211" y="154" width="2" height="26" fill="#f08b6e"/><rect x="213" y="154" width="3" height="26" fill="#f59f80"/><rect x="216" y="154" width="5" height="26" fill="#f49a7b"/><rect x="221" y="154" width="3" height="26" fill="#f4987a"/><rect x="224" y="154" width="2" height="26" fill="#f6a385"/><rect x="226" y="154" width="3" height="26" fill="#f7a688"/><rect x="229" y="154" width="3" height="26" fill="#f6a385"/><rect x="232" y="154" width="2" height="26" fill="#f59d7e"/><rect x="234" y="154" width="6" height="26" fill="#f49a7b"/><rect x="240" y="154" width="2" height="26" fill="#f18f71"/><rect x="242" y="154" width="3" height="26" fill="#f7b194"/><rect x="245" y="154" width="2" height="26" fill="#f7a98b"/><rect x="247" y="154" width="3" height="26" fill="#f7aa8c"/><rect x="250" y="154" width="3" height="26" fill="#f5a081"/><rect x="253" y="154" width="2" height="26" fill="#f7a889"/><rect x="255" y="154" width="3" height="26" fill="#f5a081"/><rect x="258" y="154" width="3" height="26" fill="#f6a283"/><rect x="261" y="154" width="2" height="26" fill="#f7ac8e"/><rect x="263" y="154" width="3" height="26" fill="#f7a98b"/><rect x="266" y="154" width="2" height="26" fill="#f7a688"/><rect x="268" y="154" width="3" height="26" fill="#f59d7e"/><rect x="271" y="154" width="3" height="26" fill="#f7b093"/><rect x="274" y="154" width="2" height="26" fill="#f59c7d"/><rect x="276" y="154" width="3" height="26" fill="#f7b194"/><rect x="279" y="154" width="3" height="26" fill="#f7b093"/><rect x="282" y="154" width="2" height="26" fill="#f7af91"/><rect x="284" y="154" width="3" height="26" fill="#f7b093"/><rect x="287" y="154" width="2" height="26" fill="#f7a688"/><rect x="289" y="154" width="3" height="26" fill="#f6a283"/><rect x="292" y="154" width="3" height="26" fill="#f6a586"/><rect x="295" y="154" width="2" height="26" fill="#f59d7e"/><rect x="297" y="154" width="6" height="26" fill="#f5a081"/><rect x="303" y="154" width="2" height="26" fill="#f6a283"/><rect x="305" y="154" width="2" height="26" fill="#f7b194"/><rect x="307" y="154" width="3" height="26" fill="#f59d7e"/><rect x="0" y="180" width="4" height="25" fill="#c3d5f4"/><rect x="4" y="180" width="3" height="25" fill="#a9c6fd"/><rect x="7" y="180" width="4" height="25" fill="#f18d6f"/><rect x="11" y="180" width="4" height="25" fill="#7597f6"/><rect x="15" y="180" width="7" height="25" fill="#97b8ff"/><rect x="22" y="180" width="4" height="25" fill="#7597f6"/><rect x="26" y="180" width="4" height="25" fill="#f6bda2"/><rect x="30" y="180" width="4" height="25" fill="#d0473d"/><rect x="34" y="180" width="3" height="25" fill="#f6bda2"/><rect x="37" y="180" width="7" height="25" fill="#e9d5cb"/><rect x="44" y="180" width="5" height="25" fill="#f4987a"/><rect x="49" y="180" width="7" height="25" fill="#d65244"/><rect x="56" y="180" width="30" height="25" fill="#b40426"/><rect x="86" y="180" width="4" height="25" fill="#ee8468"/><rect x="90" y="180" width="7" height="25" fill="#b40426"/><rect x="97" y="180" width="4" height="25" fill="#ea7b60"/><rect x="101" y="180" width="4" height="25" fill="#b40426"/><rect x="105" y="180" width="7" height="25" fill="#dc5d4a"/><rect x="112" y="180" width="198" height="25" fill="#b40426"/><rect x="0" y="205" width="7" height="26" fill="#f6bda2"/><rect x="7" y="205" width="4" height="26" fill="#ee8468"/><rect x="11" y="205" width="4" height="26" fill="#5875e1"/><rect x="15" y="205" width="3" height="26" fill="#6c8ff1"/><rect x="18" y="205" width="4" height="26" fill="#4961d2"/><rect x="22" y="205" width="4" height="26" fill="#7597f6"/><rect x="26" y="205" width="4" height="26" fill="#cdd9ec"/><rect x="30" y="205" width="7" height="26" fill="#b3cdfb"/><rect x="37" y="205" width="7" height="26" fill="#85a8fc"/><rect x="44" y="205" width="5" height="26" fill="#cdd9ec"/><rect x="49" y="205" width="11" height="26" fill="#c3d5f4"/><rect x="60" y="205" width="3" height="26" fill="#b3cdfb"/><rect x="63" y="205" width="1" height="26" fill="#e3d9d3"/><rect x="64" y="205" width="2" height="26" fill="#e8d6cc"/><rect x="66" y="205" width="3" height="26" fill="#dedcdb"/><rect x="69" y="205" width="2" height="26" fill="#dddcdc"/><rect x="71" y="205" width="3" height="26" fill="#e9d5cb"/><rect x="74" y="205" width="3" height="26" fill="#e8d6cc"/><rect x="77" y="205" width="1" height="26" fill="#ead5c9"/><rect x="78" y="205" width="8" height="26" fill="#cdd9ec"/><rect x="86" y="205" width="4" height="26" fill="#e9d5cb"/><rect x="90" y="205" width="4" height="26" fill="#b3cdfb"/><rect x="94" y="205" width="13" height="26" fill="#cdd9ec"/><rect x="107" y="205" width="5" height="26" fill="#a9c6fd"/><rect x="112" y="205" width="9" height="26" fill="#e9d5cb"/><rect x="121" y="205" width="3" height="26" fill="#dfdbd9"/><rect x="124" y="205" width="3" height="26" fill="#d1dae9"/><rect x="127" y="205" width="5" height="26" fill="#dbdcde"/><rect x="132" y="205" width="2" height="26" fill="#dfdbd9"/><rect x="134" y="205" width="3" height="26" fill="#d7dce3"/><rect x="137" y="205" width="3" height="26" fill="#d8dce2"/><rect x="140" y="205" width="2" height="26" fill="#cedaeb"/><rect x="142" y="205" width="3" height="26" fill="#d2dbe8"/><rect x="145" y="205" width="3" height="26" fill="#dbdcde"/><rect x="148" y="205" width="2" height="26" fill="#dedcdb"/><rect x="150" y="205" width="3" height="26" fill="#cfdaea"/><rect x="153" y="205" width="2" height="26" fill="#d8dce2"/><rect x="155" y="205" width="3" height="26" fill="#dcdddd"/><rect x="158" y="205" width="3" height="26" fill="#cedaeb"/><rect x="161" y="205" width="2" height="26" fill="#d4dbe6"/><rect x="163" y="205" width="3" height="26" fill="#dedcdb"/><rect x="166" y="205" width="3" height="26" fill="#dfdbd9"/><rect x="169" y="205" width="2" height="26" fill="#d7dce3"/><rect x="171" y="205" width="6" height="26" fill="#dadce0"/><rect x="177" y="205" width="2" height="26" fill="#d7dce3"/><rect x="179" y="205" width="3" height="26" fill="#d2dbe8"/><rect x="182" y="205" width="2" height="26" fill="#dedcdb"/><rect x="184" y="205" width="3" height="26" fill="#ccd9ed"/><rect x="187" y="205" width="3" height="26" fill="#d3dbe7"/><rect x="190" y="205" width="2" height="26" fill="#d6dce4"/><rect x="192" y="205" width="3" height="26" fill="#dadce0"/><rect x="195" y="205" width="3" height="26" fill="#ccd9ed"/><rect x="198" y="205" width="2" height="26" fill="#d2dbe8"/><rect x="200" y="205" width="3" height="26" fill="#dadce0"/><rect x="203" y="205" width="2" height="26" fill="#dedcdb"/><rect x="205" y="205" width="3" height="26" fill="#d4dbe6"/><rect x="208" y="205" width="3" height="26" fill="#dadce0"/><rect x="211" y="205" width="2" height="26" fill="#dcdddd"/><rect x="213" y="205" width="3" height="26" fill="#d5dbe5"/><rect x="216" y="205" width="3" height="26" fill="#cfdaea"/><rect x="219" y="205" width="5" height="26" fill="#e0dbd8"/><rect x="224" y="205" width="2" height="26" fill="#d1dae9"/><rect x="226" y="205" width="3" height="26" fill="#d7dce3"/><rect x="229" y="205" width="3" height="26" fill="#dadce0"/><rect x="232" y="205" width="2" height="26" fill="#cdd9ec"/><rect x="234" y="205" width="3" height="26" fill="#cfdaea"/><rect x="237" y="205" width="3" height="26" fill="#dbdcde"/><rect x="240" y="205" width="2" height="26" fill="#dcdddd"/><rect x="242" y="205" width="3" height="26" fill="#d3dbe7"/><rect x="245" y="205" width="2" height="26" fill="#d8dce2"/><rect x="247" y="205" width="3" height="26" fill="#dddcdc"/><rect x="250" y="205" width="3" height="26" fill="#cedaeb"/><rect x="253" y="205" width="2" height="26" fill="#d6dce4"/><rect x="255" y="205" width="3" height="26" fill="#dedcdb"/><rect x="258" y="205" width="3" height="26" fill="#dddcdc"/><rect x="261" y="205" width="2" height="26" fill="#cedaeb"/><rect x="263" y="205" width="3" height="26" fill="#d6dce4"/><rect x="266" y="205" width="2" height="26" fill="#d8dce2"/><rect x="268" y="205" width="3" height="26" fill="#e0dbd8"/><rect x="271" y="205" width="3" height="26" fill="#cedaeb"/><rect x="274" y="205" width="2" height="26" fill="#dddcdc"/><rect x="276" y="205" width="3" height="26" fill="#dadce0"/><rect x="279" y="205" width="3" height="26" fill="#cfdaea"/><rect x="282" y="205" width="2" height="26" fill="#dadce0"/><rect x="284" y="205" width="3" height="26" fill="#d9dce1"/><rect x="287" y="205" width="2" height="26" fill="#ccd9ed"/><rect x="289" y="205" width="3" height="26" fill="#d4dbe6"/><rect x="292" y="205" width="3" height="26" fill="#dadce0"/><rect x="295" y="205" width="2" height="26" fill="#dfdbd9"/><rect x="297" y="205" width="3" height="26" fill="#dcdddd"/><rect x="300" y="205" width="3" height="26" fill="#cedaeb"/><rect x="303" y="205" width="2" height="26" fill="#cfdaea"/><rect x="305" y="205" width="3" height="26" fill="#dbdcde"/><rect x="308" y="205" width="2" height="26" fill="#dcdddd"/><rect x="0" y="231" width="7" height="26" fill="#e57058"/><rect x="7" y="231" width="4" height="26" fill="#d65244"/><rect x="11" y="231" width="7" height="26" fill="#5b7ae5"/><rect x="18" y="231" width="4" height="26" fill="#465ecf"/><rect x="22" y="231" width="4" height="26" fill="#9ebeff"/><rect x="26" y="231" width="4" height="26" fill="#dddcdc"/><rect x="30" y="231" width="4" height="26" fill="#6384eb"/><rect x="34" y="231" width="3" height="26" fill="#97b8ff"/><rect x="37" y="231" width="7" height="26" fill="#6384eb"/><rect x="44" y="231" width="5" height="26" fill="#85a8fc"/><rect x="49" y="231" width="3" height="26" fill="#5875e1"/><rect x="52" y="231" width="8" height="26" fill="#85a8fc"/><rect x="60" y="231" width="3" height="26" fill="#4c66d6"/><rect x="63" y="231" width="4" height="26" fill="#97b8ff"/><rect x="67" y="231" width="8" height="26" fill="#6c8ff1"/><rect x="75" y="231" width="3" height="26" fill="#c3d5f4"/><rect x="78" y="231" width="14" height="26" fill="#97b8ff"/><rect x="92" y="231" width="5" height="26" fill="#6c8ff1"/><rect x="97" y="231" width="10" height="26" fill="#9ebeff"/><rect x="107" y="231" width="5" height="26" fill="#6c8ff1"/><rect x="112" y="231" width="8" height="26" fill="#a9c6fd"/><rect x="120" y="231" width="3" height="26" fill="#5875e1"/><rect x="123" y="231" width="1" height="26" fill="#7da0f9"/><rect x="124" y="231" width="8" height="26" fill="#84a7fc"/><rect x="132" y="231" width="2" height="26" fill="#7a9df8"/><rect x="134" y="231" width="3" height="26" fill="#80a3fa"/><rect x="137" y="231" width="1" height="26" fill="#8caffe"/><rect x="138" y="231" width="4" height="26" fill="#536edd"/><rect x="142" y="231" width="7" height="26" fill="#7b9ff9"/><rect x="149" y="231" width="4" height="26" fill="#6180e9"/><rect x="153" y="231" width="3" height="26" fill="#85a8fc"/><rect x="156" y="231" width="5" height="26" fill="#5875e1"/><rect x="161" y="231" width="8" height="26" fill="#97b8ff"/><rect x="169" y="231" width="3" height="26" fill="#5875e1"/><rect x="172" y="231" width="2" height="26" fill="#9abbff"/><rect x="174" y="231" width="5" height="26" fill="#8caffe"/><rect x="179" y="231" width="3" height="26" fill="#8db0fe"/><rect x="182" y="231" width="2" height="26" fill="#90b2fe"/><rect x="184" y="231" width="3" height="26" fill="#9ebeff"/><rect x="187" y="231" width="3" height="26" fill="#5b7ae5"/><rect x="190" y="231" width="5" height="26" fill="#a3c2fe"/><rect x="195" y="231" width="3" height="26" fill="#9abbff"/><rect x="198" y="231" width="2" height="26" fill="#9bbcff"/><rect x="200" y="231" width="5" height="26" fill="#98b9ff"/><rect x="205" y="231" width="1" height="26" fill="#9dbdff"/><rect x="206" y="231" width="10" height="26" fill="#7b9ff9"/><rect x="216" y="231" width="5" height="26" fill="#536edd"/><rect x="221" y="231" width="14" height="26" fill="#7b9ff9"/><rect x="235" y="231" width="4" height="26" fill="#536edd"/><rect x="239" y="231" width="6" height="26" fill="#85a8fc"/><rect x="245" y="231" width="8" height="26" fill="#5875e1"/><rect x="253" y="231" width="8" height="26" fill="#7b9ff9"/><rect x="261" y="231" width="7" height="26" fill="#536edd"/><rect x="268" y="231" width="3" height="26" fill="#6b8df0"/><rect x="271" y="231" width="3" height="26" fill="#6a8bef"/><rect x="274" y="231" width="2" height="26" fill="#688aef"/><rect x="276" y="231" width="3" height="26" fill="#6788ee"/><rect x="279" y="231" width="3" height="26" fill="#7396f5"/><rect x="282" y="231" width="2" height="26" fill="#7295f4"/><rect x="284" y="231" width="4" height="26" fill="#4c66d6"/><rect x="288" y="231" width="8" height="26" fill="#6c8ff1"/><rect x="296" y="231" width="6" height="26" fill="#536edd"/><rect x="302" y="231" width="8" height="26" fill="#5b7ae5"/><rect x="0" y="257" width="11" height="25" fill="#b40426"/><rect x="11" y="257" width="4" height="25" fill="#97b8ff"/><rect x="15" y="257" width="7" height="25" fill="#6384eb"/><rect x="22" y="257" width="4" height="25" fill="#c3d5f4"/><rect x="26" y="257" width="4" height="25" fill="#f7ac8e"/><rect x="30" y="257" width="7" height="25" fill="#c3d5f4"/><rect x="37" y="257" width="12" height="25" fill="#90b2fe"/><rect x="49" y="257" width="3" height="25" fill="#7b9ff9"/><rect x="52" y="257" width="8" height="25" fill="#c3d5f4"/><rect x="60" y="257" width="3" height="25" fill="#90b2fe"/><rect x="63" y="257" width="8" height="25" fill="#dddcdc"/><rect x="71" y="257" width="4" height="25" fill="#9ebeff"/><rect x="75" y="257" width="11" height="25" fill="#edd2c3"/><rect x="86" y="257" width="6" height="25" fill="#f4c6af"/><rect x="92" y="257" width="14" height="25" fill="#f7ba9f"/><rect x="106" y="257" width="3" height="25" fill="#f59d7e"/><rect x="109" y="257" width="8" height="25" fill="#e9d5cb"/><rect x="117" y="257" width="3" height="25" fill="#f7ba9f"/><rect x="120" y="257" width="10" height="25" fill="#bbd1f8"/><rect x="130" y="257" width="2" height="25" fill="#9ebeff"/><rect x="132" y="257" width="2" height="25" fill="#9bbcff"/><rect x="134" y="257" width="3" height="25" fill="#97b8ff"/><rect x="137" y="257" width="3" height="25" fill="#a3c2fe"/><rect x="140" y="257" width="2" height="25" fill="#98b9ff"/><rect x="142" y="257" width="3" height="25" fill="#abc8fd"/><rect x="145" y="257" width="3" height="25" fill="#a2c1ff"/><rect x="148" y="257" width="2" height="25" fill="#96b7ff"/><rect x="150" y="257" width="3" height="25" fill="#aec9fc"/><rect x="153" y="257" width="2" height="25" fill="#9abbff"/><rect x="155" y="257" width="3" height="25" fill="#96b7ff"/><rect x="158" y="257" width="3" height="25" fill="#97b8ff"/><rect x="161" y="257" width="3" height="25" fill="#cdd9ec"/><rect x="164" y="257" width="8" height="25" fill="#a9c6fd"/><rect x="172" y="257" width="2" height="25" fill="#d5dbe5"/><rect x="174" y="257" width="3" height="25" fill="#c1d4f4"/><rect x="177" y="257" width="2" height="25" fill="#cfdaea"/><rect x="179" y="257" width="3" height="25" fill="#c4d5f3"/><rect x="182" y="257" width="2" height="25" fill="#d7dce3"/><rect x="184" y="257" width="3" height="25" fill="#cad8ef"/><rect x="187" y="257" width="3" height="25" fill="#c6d6f1"/><rect x="190" y="257" width="8" height="25" fill="#e9d5cb"/><rect x="198" y="257" width="4" height="25" fill="#b3cdfb"/><rect x="202" y="257" width="4" height="25" fill="#ebd3c6"/><rect x="206" y="257" width="10" height="25" fill="#cdd9ec"/><rect x="216" y="257" width="14" height="25" fill="#a5c3fe"/><rect x="230" y="257" width="2" height="25" fill="#96b7ff"/><rect x="232" y="257" width="2" height="25" fill="#93b5fe"/><rect x="234" y="257" width="3" height="25" fill="#94b6ff"/><rect x="237" y="257" width="3" height="25" fill="#96b7ff"/><rect x="240" y="257" width="2" height="25" fill="#8fb1fe"/><rect x="242" y="257" width="3" height="25" fill="#9dbdff"/><rect x="245" y="257" width="2" height="25" fill="#94b6ff"/><rect x="247" y="257" width="3" height="25" fill="#a5c3fe"/><rect x="250" y="257" width="5" height="25" fill="#8fb1fe"/><rect x="255" y="257" width="3" height="25" fill="#9fbfff"/><rect x="258" y="257" width="3" height="25" fill="#94b6ff"/><rect x="261" y="257" width="2" height="25" fill="#a2c1ff"/><rect x="263" y="257" width="3" height="25" fill="#a5c3fe"/><rect x="266" y="257" width="2" height="25" fill="#92b4fe"/><rect x="268" y="257" width="3" height="25" fill="#8fb1fe"/><rect x="271" y="257" width="3" height="25" fill="#a3c2fe"/><rect x="274" y="257" width="2" height="25" fill="#8fb1fe"/><rect x="276" y="257" width="3" height="25" fill="#97b8ff"/><rect x="279" y="257" width="3" height="25" fill="#9fbfff"/><rect x="282" y="257" width="2" height="25" fill="#a1c0ff"/><rect x="284" y="257" width="3" height="25" fill="#98b9ff"/><rect x="287" y="257" width="2" height="25" fill="#a2c1ff"/><rect x="289" y="257" width="2" height="25" fill="#9abbff"/><rect x="291" y="257" width="1" height="25" fill="#97b8ff"/><rect x="292" y="257" width="3" height="25" fill="#9fbfff"/><rect x="295" y="257" width="2" height="25" fill="#97b8ff"/><rect x="297" y="257" width="3" height="25" fill="#a9c6fd"/><rect x="300" y="257" width="3" height="25" fill="#a6c4fe"/><rect x="303" y="257" width="2" height="25" fill="#a3c2fe"/><rect x="305" y="257" width="3" height="25" fill="#a1c0ff"/><rect x="308" y="257" width="2" height="25" fill="#92b4fe"/><rect x="0" y="282" width="7" height="26" fill="#c53334"/><rect x="7" y="282" width="4" height="26" fill="#f18d6f"/><rect x="11" y="282" width="4" height="26" fill="#dddcdc"/><rect x="15" y="282" width="7" height="26" fill="#90b2fe"/><rect x="22" y="282" width="4" height="26" fill="#ee8468"/><rect x="26" y="282" width="4" height="26" fill="#dc5d4a"/><rect x="30" y="282" width="4" height="26" fill="#f4987a"/><rect x="34" y="282" width="3" height="26" fill="#f2cbb7"/><rect x="37" y="282" width="3" height="26" fill="#e0dbd8"/><rect x="40" y="282" width="3" height="26" fill="#d8dce2"/><rect x="43" y="282" width="2" height="26" fill="#d5dbe5"/><rect x="45" y="282" width="3" height="26" fill="#dedcdb"/><rect x="48" y="282" width="2" height="26" fill="#d5dbe5"/><rect x="50" y="282" width="2" height="26" fill="#d4dbe6"/><rect x="52" y="282" width="8" height="26" fill="#f7b396"/><rect x="60" y="282" width="3" height="26" fill="#dddcdc"/><rect x="63" y="282" width="4" height="26" fill="#f6a586"/><rect x="67" y="282" width="8" height="26" fill="#f4c6af"/><rect x="75" y="282" width="3" height="26" fill="#b40426"/><rect x="78" y="282" width="8" height="26" fill="#dc5d4a"/><rect x="86" y="282" width="4" height="26" fill="#b40426"/><rect x="90" y="282" width="7" height="26" fill="#dc5d4a"/><rect x="97" y="282" width="4" height="26" fill="#b40426"/><rect x="101" y="282" width="4" height="26" fill="#d0473d"/><rect x="105" y="282" width="7" height="26" fill="#b40426"/><rect x="112" y="282" width="4" height="26" fill="#f6a586"/><rect x="116" y="282" width="4" height="26" fill="#e57058"/><rect x="120" y="282" width="3" height="26" fill="#f7ac8e"/><rect x="123" y="282" width="4" height="26" fill="#e9d5cb"/><rect x="127" y="282" width="3" height="26" fill="#f6a586"/><rect x="130" y="282" width="8" height="26" fill="#f2cbb7"/><rect x="138" y="282" width="4" height="26" fill="#f6bda2"/><rect x="142" y="282" width="4" height="26" fill="#dddcdc"/><rect x="146" y="282" width="7" height="26" fill="#f4c6af"/><rect x="153" y="282" width="3" height="26" fill="#dddcdc"/><rect x="156" y="282" width="8" height="26" fill="#f6a586"/><rect x="164" y="282" width="5" height="26" fill="#d7dce3"/><rect x="169" y="282" width="10" height="26" fill="#f7b396"/><rect x="179" y="282" width="8" height="26" fill="#f18d6f"/><rect x="187" y="282" width="3" height="26" fill="#f4c6af"/><rect x="190" y="282" width="8" height="26" fill="#f59d7e"/><rect x="198" y="282" width="4" height="26" fill="#f4c6af"/><rect x="202" y="282" width="14" height="26" fill="#f7b396"/><rect x="216" y="282" width="3" height="26" fill="#d2dbe8"/><rect x="219" y="282" width="2" height="26" fill="#d8dce2"/><rect x="221" y="282" width="3" height="26" fill="#d5dbe5"/><rect x="224" y="282" width="2" height="26" fill="#ccd9ed"/><rect x="226" y="282" width="3" height="26" fill="#cad8ef"/><rect x="229" y="282" width="3" height="26" fill="#c5d6f2"/><rect x="232" y="282" width="2" height="26" fill="#d1dae9"/><rect x="234" y="282" width="3" height="26" fill="#c7d7f0"/><rect x="237" y="282" width="3" height="26" fill="#dadce0"/><rect x="240" y="282" width="2" height="26" fill="#d5dbe5"/><rect x="242" y="282" width="3" height="26" fill="#cdd9ec"/><rect x="245" y="282" width="8" height="26" fill="#b3cdfb"/><rect x="253" y="282" width="5" height="26" fill="#bfd3f6"/><rect x="258" y="282" width="3" height="26" fill="#c1d4f4"/><rect x="261" y="282" width="2" height="26" fill="#cedaeb"/><rect x="263" y="282" width="3" height="26" fill="#c3d5f4"/><rect x="266" y="282" width="2" height="26" fill="#c0d4f5"/><rect x="268" y="282" width="3" height="26" fill="#c9d7f0"/><rect x="271" y="282" width="3" height="26" fill="#c4d5f3"/><rect x="274" y="282" width="2" height="26" fill="#c3d5f4"/><rect x="276" y="282" width="3" height="26" fill="#cbd8ee"/><rect x="279" y="282" width="3" height="26" fill="#cedaeb"/><rect x="282" y="282" width="2" height="26" fill="#c7d7f0"/><rect x="284" y="282" width="3" height="26" fill="#c3d5f4"/><rect x="287" y="282" width="2" height="26" fill="#c6d6f1"/><rect x="289" y="282" width="2" height="26" fill="#c7d7f0"/><rect x="291" y="282" width="1" height="26" fill="#e0dbd8"/><rect x="292" y="282" width="3" height="26" fill="#d3dbe7"/><rect x="295" y="282" width="2" height="26" fill="#dddcdc"/><rect x="297" y="282" width="3" height="26" fill="#d9dce1"/><rect x="300" y="282" width="3" height="26" fill="#d8dce2"/><rect x="303" y="282" width="2" height="26" fill="#d4dbe6"/><rect x="305" y="282" width="3" height="26" fill="#d5dbe5"/><rect x="308" y="282" width="2" height="26" fill="#d3dbe7"/></svg><svg class="p" style="left:1058px" width="310" height="308" viewBox="0 0 310 308" shape-rendering="crispEdges"><rect x="0" y="0" width="5" height="26" fill="#f6a586"/><rect x="5" y="0" width="4" height="26" fill="#e9d5cb"/><rect x="9" y="0" width="6" height="26" fill="#cbd8ee"/><rect x="15" y="0" width="8" height="26" fill="#94b6ff"/><rect x="23" y="0" width="9" height="26" fill="#9ebeff"/><rect x="32" y="0" width="5" height="26" fill="#d65244"/><rect x="37" y="0" width="5" height="26" fill="#94b6ff"/><rect x="42" y="0" width="4" height="26" fill="#6384eb"/><rect x="46" y="0" width="5" height="26" fill="#94b6ff"/><rect x="51" y="0" width="5" height="26" fill="#7b9ff9"/><rect x="56" y="0" width="4" height="26" fill="#9ebeff"/><rect x="60" y="0" width="5" height="26" fill="#85a8fc"/><rect x="65" y="0" width="4" height="26" fill="#7093f3"/><rect x="69" y="0" width="10" height="26" fill="#7ea1fa"/><rect x="79" y="0" width="4" height="26" fill="#5977e3"/><rect x="83" y="0" width="4" height="26" fill="#5470de"/><rect x="87" y="0" width="10" height="26" fill="#6384eb"/><rect x="97" y="0" width="9" height="26" fill="#4c66d6"/><rect x="106" y="0" width="11" height="26" fill="#5977e3"/><rect x="117" y="0" width="8" height="26" fill="#465ecf"/><rect x="125" y="0" width="9" height="26" fill="#5977e3"/><rect x="134" y="0" width="9" height="26" fill="#4961d2"/><rect x="143" y="0" width="10" height="26" fill="#6a8bef"/><rect x="153" y="0" width="9" height="26" fill="#5673e0"/><rect x="162" y="0" width="5" height="26" fill="#85a8fc"/><rect x="167" y="0" width="4" height="26" fill="#9ebeff"/><rect x="171" y="0" width="9" height="26" fill="#6384eb"/><rect x="180" y="0" width="10" height="26" fill="#a9c6fd"/><rect x="190" y="0" width="5" height="26" fill="#7b9ff9"/><rect x="195" y="0" width="4" height="26" fill="#97b8ff"/><rect x="199" y="0" width="1" height="26" fill="#bad0f8"/><rect x="200" y="0" width="3" height="26" fill="#bed2f6"/><rect x="203" y="0" width="2" height="26" fill="#c1d4f4"/><rect x="205" y="0" width="3" height="26" fill="#cfdaea"/><rect x="208" y="0" width="3" height="26" fill="#c4d5f3"/><rect x="211" y="0" width="2" height="26" fill="#ccd9ed"/><rect x="213" y="0" width="3" height="26" fill="#d3dbe7"/><rect x="216" y="0" width="2" height="26" fill="#bcd2f7"/><rect x="218" y="0" width="4" height="26" fill="#e9d5cb"/><rect x="222" y="0" width="10" height="26" fill="#f7ac8e"/><rect x="232" y="0" width="4" height="26" fill="#f4c6af"/><rect x="236" y="0" width="6" height="26" fill="#e9d5cb"/><rect x="242" y="0" width="8" height="26" fill="#f18d6f"/><rect x="250" y="0" width="9" height="26" fill="#d7dce3"/><rect x="259" y="0" width="5" height="26" fill="#e2dad5"/><rect x="264" y="0" width="4" height="26" fill="#f4c6af"/><rect x="268" y="0" width="10" height="26" fill="#9ebeff"/><rect x="278" y="0" width="4" height="26" fill="#8db0fe"/><rect x="282" y="0" width="5" height="26" fill="#cbd8ee"/><rect x="287" y="0" width="4" height="26" fill="#9ebeff"/><rect x="291" y="0" width="10" height="26" fill="#7b9ff9"/><rect x="301" y="0" width="4" height="26" fill="#b3cdfb"/><rect x="305" y="0" width="5" height="26" fill="#d7dce3"/><rect x="0" y="26" width="5" height="25" fill="#f7b396"/><rect x="5" y="26" width="4" height="25" fill="#f4c6af"/><rect x="9" y="26" width="6" height="25" fill="#e7d7ce"/><rect x="15" y="26" width="8" height="25" fill="#9ebeff"/><rect x="23" y="26" width="5" height="25" fill="#bcd2f7"/><rect x="28" y="26" width="4" height="25" fill="#efcfbf"/><rect x="32" y="26" width="5" height="25" fill="#b40426"/><rect x="37" y="26" width="5" height="25" fill="#b3cdfb"/><rect x="42" y="26" width="4" height="25" fill="#94b6ff"/><rect x="46" y="26" width="5" height="25" fill="#dddcdc"/><rect x="51" y="26" width="5" height="25" fill="#7b9ff9"/><rect x="56" y="26" width="9" height="25" fill="#85a8fc"/><rect x="65" y="26" width="4" height="25" fill="#7093f3"/><rect x="69" y="26" width="5" height="25" fill="#8db0fe"/><rect x="74" y="26" width="9" height="25" fill="#5977e3"/><rect x="83" y="26" width="2" height="25" fill="#5e7de7"/><rect x="85" y="26" width="5" height="25" fill="#5977e3"/><rect x="90" y="26" width="2" height="25" fill="#5f7fe8"/><rect x="92" y="26" width="3" height="25" fill="#5b7ae5"/><rect x="95" y="26" width="2" height="25" fill="#5d7ce6"/><rect x="97" y="26" width="9" height="25" fill="#4c66d6"/><rect x="106" y="26" width="4" height="25" fill="#6384eb"/><rect x="110" y="26" width="1" height="25" fill="#536edd"/><rect x="111" y="26" width="2" height="25" fill="#5470de"/><rect x="113" y="26" width="3" height="25" fill="#4e68d8"/><rect x="116" y="26" width="3" height="25" fill="#5470de"/><rect x="119" y="26" width="2" height="25" fill="#4f69d9"/><rect x="121" y="26" width="3" height="25" fill="#506bda"/><rect x="124" y="26" width="1" height="25" fill="#536edd"/><rect x="125" y="26" width="9" height="25" fill="#5673e0"/><rect x="134" y="26" width="9" height="25" fill="#4c66d6"/><rect x="143" y="26" width="6" height="25" fill="#5673e0"/><rect x="149" y="26" width="12" height="25" fill="#6384eb"/><rect x="161" y="26" width="6" height="25" fill="#536edd"/><rect x="167" y="26" width="13" height="25" fill="#7b9ff9"/><rect x="180" y="26" width="6" height="25" fill="#6a8bef"/><rect x="186" y="26" width="4" height="25" fill="#b3cdfb"/><rect x="190" y="26" width="9" height="25" fill="#7093f3"/><rect x="199" y="26" width="14" height="25" fill="#9ebeff"/><rect x="213" y="26" width="9" height="25" fill="#bcd2f7"/><rect x="222" y="26" width="5" height="25" fill="#dddcdc"/><rect x="227" y="26" width="5" height="25" fill="#efcfbf"/><rect x="232" y="26" width="4" height="25" fill="#bcd2f7"/><rect x="236" y="26" width="6" height="25" fill="#94b6ff"/><rect x="242" y="26" width="8" height="25" fill="#f2cbb7"/><rect x="250" y="26" width="9" height="25" fill="#97b8ff"/><rect x="259" y="26" width="5" height="25" fill="#dddcdc"/><rect x="264" y="26" width="4" height="25" fill="#cbd8ee"/><rect x="268" y="26" width="6" height="25" fill="#7a9df8"/><rect x="274" y="26" width="2" height="25" fill="#86a9fc"/><rect x="276" y="26" width="3" height="25" fill="#92b4fe"/><rect x="279" y="26" width="3" height="25" fill="#82a6fb"/><rect x="282" y="26" width="2" height="25" fill="#86a9fc"/><rect x="284" y="26" width="3" height="25" fill="#88abfd"/><rect x="287" y="26" width="2" height="25" fill="#6687ed"/><rect x="289" y="26" width="3" height="25" fill="#6e90f2"/><rect x="292" y="26" width="3" height="25" fill="#5a78e4"/><rect x="295" y="26" width="2" height="25" fill="#5d7ce6"/><rect x="297" y="26" width="3" height="25" fill="#5a78e4"/><rect x="300" y="26" width="5" height="25" fill="#6687ed"/><rect x="305" y="26" width="5" height="25" fill="#94b6ff"/><rect x="0" y="51" width="9" height="26" fill="#ee8468"/><rect x="9" y="51" width="6" height="26" fill="#efcfbf"/><rect x="15" y="51" width="4" height="26" fill="#bcd2f7"/><rect x="19" y="51" width="4" height="26" fill="#f4c6af"/><rect x="23" y="51" width="5" height="26" fill="#f7b396"/><rect x="28" y="51" width="4" height="26" fill="#c53334"/><rect x="32" y="51" width="5" height="26" fill="#bcd2f7"/><rect x="37" y="51" width="9" height="26" fill="#efcfbf"/><rect x="46" y="51" width="5" height="26" fill="#ee8468"/><rect x="51" y="51" width="5" height="26" fill="#8db0fe"/><rect x="56" y="51" width="13" height="26" fill="#7b9ff9"/><rect x="69" y="51" width="5" height="26" fill="#b3cdfb"/><rect x="74" y="51" width="5" height="26" fill="#7b9ff9"/><rect x="79" y="51" width="3" height="26" fill="#7da0f9"/><rect x="82" y="51" width="3" height="26" fill="#6f92f3"/><rect x="85" y="51" width="2" height="26" fill="#7699f6"/><rect x="87" y="51" width="3" height="26" fill="#779af7"/><rect x="90" y="51" width="2" height="26" fill="#7a9df8"/><rect x="92" y="51" width="1" height="26" fill="#7295f4"/><rect x="93" y="51" width="4" height="26" fill="#9ebeff"/><rect x="97" y="51" width="9" height="26" fill="#7093f3"/><rect x="106" y="51" width="5" height="26" fill="#a9c6fd"/><rect x="111" y="51" width="2" height="26" fill="#7a9df8"/><rect x="113" y="51" width="3" height="26" fill="#85a8fc"/><rect x="116" y="51" width="3" height="26" fill="#7396f5"/><rect x="119" y="51" width="2" height="26" fill="#7b9ff9"/><rect x="121" y="51" width="3" height="26" fill="#85a8fc"/><rect x="124" y="51" width="3" height="26" fill="#80a3fa"/><rect x="127" y="51" width="2" height="26" fill="#86a9fc"/><rect x="129" y="51" width="3" height="26" fill="#81a4fb"/><rect x="132" y="51" width="1" height="26" fill="#779af7"/><rect x="133" y="51" width="14" height="26" fill="#8db0fe"/><rect x="147" y="51" width="9" height="26" fill="#94b6ff"/><rect x="156" y="51" width="6" height="26" fill="#6384eb"/><rect x="162" y="51" width="1" height="26" fill="#8db0fe"/><rect x="163" y="51" width="3" height="26" fill="#97b8ff"/><rect x="166" y="51" width="3" height="26" fill="#8badfd"/><rect x="169" y="51" width="2" height="26" fill="#94b6ff"/><rect x="171" y="51" width="3" height="26" fill="#81a4fb"/><rect x="174" y="51" width="3" height="26" fill="#98b9ff"/><rect x="177" y="51" width="2" height="26" fill="#94b6ff"/><rect x="179" y="51" width="3" height="26" fill="#84a7fc"/><rect x="182" y="51" width="2" height="26" fill="#94b6ff"/><rect x="184" y="51" width="6" height="26" fill="#cbd8ee"/><rect x="190" y="51" width="5" height="26" fill="#85a8fc"/><rect x="195" y="51" width="7" height="26" fill="#6384eb"/><rect x="202" y="51" width="11" height="26" fill="#8db0fe"/><rect x="213" y="51" width="14" height="26" fill="#7b9ff9"/><rect x="227" y="51" width="9" height="26" fill="#8db0fe"/><rect x="236" y="51" width="6" height="26" fill="#5470de"/><rect x="242" y="51" width="8" height="26" fill="#a9c6fd"/><rect x="250" y="51" width="5" height="26" fill="#6a8bef"/><rect x="255" y="51" width="4" height="26" fill="#536edd"/><rect x="259" y="51" width="5" height="26" fill="#a9c6fd"/><rect x="264" y="51" width="4" height="26" fill="#85a8fc"/><rect x="268" y="51" width="5" height="26" fill="#5673e0"/><rect x="273" y="51" width="14" height="26" fill="#7093f3"/><rect x="287" y="51" width="4" height="26" fill="#536edd"/><rect x="291" y="51" width="14" height="26" fill="#5977e3"/><rect x="305" y="51" width="5" height="26" fill="#a9c6fd"/><rect x="0" y="77" width="5" height="26" fill="#e57058"/><rect x="5" y="77" width="4" height="26" fill="#f6a586"/><rect x="9" y="77" width="6" height="26" fill="#d7dce3"/><rect x="15" y="77" width="4" height="26" fill="#9ebeff"/><rect x="19" y="77" width="4" height="26" fill="#f6bda2"/><rect x="23" y="77" width="5" height="26" fill="#ee8468"/><rect x="28" y="77" width="4" height="26" fill="#b40426"/><rect x="32" y="77" width="5" height="26" fill="#cbd8ee"/><rect x="37" y="77" width="5" height="26" fill="#f7ac8e"/><rect x="42" y="77" width="4" height="26" fill="#f18d6f"/><rect x="46" y="77" width="5" height="26" fill="#b40426"/><rect x="51" y="77" width="5" height="26" fill="#f7b396"/><rect x="56" y="77" width="13" height="26" fill="#efcfbf"/><rect x="69" y="77" width="5" height="26" fill="#f18d6f"/><rect x="74" y="77" width="3" height="26" fill="#ecd3c5"/><rect x="77" y="77" width="2" height="26" fill="#f2cab5"/><rect x="79" y="77" width="3" height="26" fill="#f3c8b2"/><rect x="82" y="77" width="3" height="26" fill="#f3c7b1"/><rect x="85" y="77" width="2" height="26" fill="#edd1c2"/><rect x="87" y="77" width="1" height="26" fill="#f0cdbb"/><rect x="88" y="77" width="9" height="26" fill="#f7ba9f"/><rect x="97" y="77" width="9" height="26" fill="#f2cbb7"/><rect x="106" y="77" width="4" height="26" fill="#f59d7e"/><rect x="110" y="77" width="1" height="26" fill="#f7b99e"/><rect x="111" y="77" width="2" height="26" fill="#f7b497"/><rect x="113" y="77" width="3" height="26" fill="#f7b99e"/><rect x="116" y="77" width="3" height="26" fill="#f7b396"/><rect x="119" y="77" width="2" height="26" fill="#f7b79b"/><rect x="121" y="77" width="3" height="26" fill="#f5c4ac"/><rect x="124" y="77" width="2" height="26" fill="#f4c6af"/><rect x="126" y="77" width="4" height="26" fill="#f7ac8e"/><rect x="130" y="77" width="4" height="26" fill="#f39577"/><rect x="134" y="77" width="14" height="26" fill="#efcfbf"/><rect x="148" y="77" width="8" height="26" fill="#f7ac8e"/><rect x="156" y="77" width="6" height="26" fill="#ebd3c6"/><rect x="162" y="77" width="5" height="26" fill="#f5c0a7"/><rect x="167" y="77" width="9" height="26" fill="#f6a586"/><rect x="176" y="77" width="10" height="26" fill="#efcfbf"/><rect x="186" y="77" width="4" height="26" fill="#ee8468"/><rect x="190" y="77" width="4" height="26" fill="#f7ba9f"/><rect x="194" y="77" width="10" height="26" fill="#e9d5cb"/><rect x="204" y="77" width="4" height="26" fill="#f6a586"/><rect x="208" y="77" width="5" height="26" fill="#e36c55"/><rect x="213" y="77" width="9" height="26" fill="#efcfbf"/><rect x="222" y="77" width="5" height="26" fill="#ee8468"/><rect x="227" y="77" width="4" height="26" fill="#dc5d4a"/><rect x="231" y="77" width="5" height="26" fill="#f2cbb7"/><rect x="236" y="77" width="5" height="26" fill="#cbd8ee"/><rect x="241" y="77" width="4" height="26" fill="#d0473d"/><rect x="245" y="77" width="5" height="26" fill="#e16751"/><rect x="250" y="77" width="9" height="26" fill="#dddcdc"/><rect x="259" y="77" width="5" height="26" fill="#b40426"/><rect x="264" y="77" width="4" height="26" fill="#f7ac8e"/><rect x="268" y="77" width="10" height="26" fill="#e9d5cb"/><rect x="278" y="77" width="4" height="26" fill="#e16751"/><rect x="282" y="77" width="5" height="26" fill="#f18d6f"/><rect x="287" y="77" width="9" height="26" fill="#e2dad5"/><rect x="296" y="77" width="14" height="26" fill="#f18d6f"/><rect x="0" y="103" width="9" height="25" fill="#b40426"/><rect x="9" y="103" width="6" height="25" fill="#f6bda2"/><rect x="15" y="103" width="4" height="25" fill="#e9d5cb"/><rect x="19" y="103" width="4" height="25" fill="#c53334"/><rect x="23" y="103" width="5" height="25" fill="#b40426"/><rect x="28" y="103" width="9" height="25" fill="#dc5d4a"/><rect x="37" y="103" width="9" height="25" fill="#b40426"/><rect x="46" y="103" width="5" height="25" fill="#be242e"/><rect x="51" y="103" width="208" height="25" fill="#b40426"/><rect x="259" y="103" width="5" height="25" fill="#c53334"/><rect x="264" y="103" width="46" height="25" fill="#b40426"/><rect x="0" y="128" width="9" height="26" fill="#dc5d4a"/><rect x="9" y="128" width="5" height="26" fill="#b40426"/><rect x="14" y="128" width="5" height="26" fill="#ee8468"/><rect x="19" y="128" width="4" height="26" fill="#b40426"/><rect x="23" y="128" width="9" height="26" fill="#f7ba9f"/><rect x="32" y="128" width="5" height="26" fill="#ea7b60"/><rect x="37" y="128" width="5" height="26" fill="#e16751"/><rect x="42" y="128" width="9" height="26" fill="#e9d5cb"/><rect x="51" y="128" width="5" height="26" fill="#f4c6af"/><rect x="56" y="128" width="4" height="26" fill="#dddcdc"/><rect x="60" y="128" width="5" height="26" fill="#f2cbb7"/><rect x="65" y="128" width="9" height="26" fill="#e9d5cb"/><rect x="74" y="128" width="5" height="26" fill="#dbdcde"/><rect x="79" y="128" width="3" height="26" fill="#dddcdc"/><rect x="82" y="128" width="3" height="26" fill="#e5d8d1"/><rect x="85" y="128" width="2" height="26" fill="#d5dbe5"/><rect x="87" y="128" width="3" height="26" fill="#e1dad6"/><rect x="90" y="128" width="2" height="26" fill="#d2dbe8"/><rect x="92" y="128" width="3" height="26" fill="#dadce0"/><rect x="95" y="128" width="2" height="26" fill="#d4dbe6"/><rect x="97" y="128" width="9" height="26" fill="#cfdaea"/><rect x="106" y="128" width="11" height="26" fill="#dddcdc"/><rect x="117" y="128" width="13" height="26" fill="#cfdaea"/><rect x="130" y="128" width="8" height="26" fill="#e9d5cb"/><rect x="138" y="128" width="10" height="26" fill="#cfdaea"/><rect x="148" y="128" width="2" height="26" fill="#dbdcde"/><rect x="150" y="128" width="3" height="26" fill="#d8dce2"/><rect x="153" y="128" width="2" height="26" fill="#d3dbe7"/><rect x="155" y="128" width="3" height="26" fill="#d2dbe8"/><rect x="158" y="128" width="3" height="26" fill="#dbdcde"/><rect x="161" y="128" width="2" height="26" fill="#dddcdc"/><rect x="163" y="128" width="3" height="26" fill="#d7dce3"/><rect x="166" y="128" width="1" height="26" fill="#e0dbd8"/><rect x="167" y="128" width="9" height="26" fill="#c1d4f4"/><rect x="176" y="128" width="8" height="26" fill="#e2dad5"/><rect x="184" y="128" width="3" height="26" fill="#dbdcde"/><rect x="187" y="128" width="3" height="26" fill="#d9dce1"/><rect x="190" y="128" width="2" height="26" fill="#dcdddd"/><rect x="192" y="128" width="3" height="26" fill="#e1dad6"/><rect x="195" y="128" width="5" height="26" fill="#dddcdc"/><rect x="200" y="128" width="3" height="26" fill="#d5dbe5"/><rect x="203" y="128" width="2" height="26" fill="#e5d8d1"/><rect x="205" y="128" width="3" height="26" fill="#d2dbe8"/><rect x="208" y="128" width="3" height="26" fill="#dcdddd"/><rect x="211" y="128" width="2" height="26" fill="#dedcdb"/><rect x="213" y="128" width="3" height="26" fill="#d1dae9"/><rect x="216" y="128" width="3" height="26" fill="#d8dce2"/><rect x="219" y="128" width="2" height="26" fill="#dedcdb"/><rect x="221" y="128" width="3" height="26" fill="#d1dae9"/><rect x="224" y="128" width="2" height="26" fill="#dddcdc"/><rect x="226" y="128" width="3" height="26" fill="#dbdcde"/><rect x="229" y="128" width="5" height="26" fill="#d6dce4"/><rect x="234" y="128" width="6" height="26" fill="#dfdbd9"/><rect x="240" y="128" width="1" height="26" fill="#d7dce3"/><rect x="241" y="128" width="9" height="26" fill="#f4c6af"/><rect x="250" y="128" width="3" height="26" fill="#e0dbd8"/><rect x="253" y="128" width="2" height="26" fill="#e2dad5"/><rect x="255" y="128" width="3" height="26" fill="#d8dce2"/><rect x="258" y="128" width="3" height="26" fill="#d9dce1"/><rect x="261" y="128" width="2" height="26" fill="#d5dbe5"/><rect x="263" y="128" width="3" height="26" fill="#e1dad6"/><rect x="266" y="128" width="2" height="26" fill="#e2dad5"/><rect x="268" y="128" width="3" height="26" fill="#dbdcde"/><rect x="271" y="128" width="3" height="26" fill="#e5d8d1"/><rect x="274" y="128" width="2" height="26" fill="#e4d9d2"/><rect x="276" y="128" width="3" height="26" fill="#dbdcde"/><rect x="279" y="128" width="3" height="26" fill="#e5d8d1"/><rect x="282" y="128" width="14" height="26" fill="#bcd2f7"/><rect x="296" y="128" width="9" height="26" fill="#a2c1ff"/><rect x="305" y="128" width="5" height="26" fill="#f4c6af"/><rect x="0" y="154" width="5" height="26" fill="#f6a586"/><rect x="5" y="154" width="4" height="26" fill="#9ebeff"/><rect x="9" y="154" width="6" height="26" fill="#d7dce3"/><rect x="15" y="154" width="4" height="26" fill="#bcd2f7"/><rect x="19" y="154" width="4" height="26" fill="#f4987a"/><rect x="23" y="154" width="1" height="26" fill="#93b5fe"/><rect x="24" y="154" width="3" height="26" fill="#8badfd"/><rect x="27" y="154" width="2" height="26" fill="#98b9ff"/><rect x="29" y="154" width="3" height="26" fill="#8fb1fe"/><rect x="32" y="154" width="3" height="26" fill="#9ebeff"/><rect x="35" y="154" width="2" height="26" fill="#94b6ff"/><rect x="37" y="154" width="3" height="26" fill="#93b5fe"/><rect x="40" y="154" width="2" height="26" fill="#9fbfff"/><rect x="42" y="154" width="9" height="26" fill="#6384eb"/><rect x="51" y="154" width="5" height="26" fill="#85a8fc"/><rect x="56" y="154" width="4" height="26" fill="#6384eb"/><rect x="60" y="154" width="5" height="26" fill="#85a8fc"/><rect x="65" y="154" width="4" height="26" fill="#5673e0"/><rect x="69" y="154" width="5" height="26" fill="#8db0fe"/><rect x="74" y="154" width="3" height="26" fill="#6c8ff1"/><rect x="77" y="154" width="2" height="26" fill="#6282ea"/><rect x="79" y="154" width="3" height="26" fill="#6b8df0"/><rect x="82" y="154" width="3" height="26" fill="#7396f5"/><rect x="85" y="154" width="2" height="26" fill="#688aef"/><rect x="87" y="154" width="3" height="26" fill="#7597f6"/><rect x="90" y="154" width="2" height="26" fill="#7295f4"/><rect x="92" y="154" width="1" height="26" fill="#6c8ff1"/><rect x="93" y="154" width="4" height="26" fill="#85a8fc"/><rect x="97" y="154" width="5" height="26" fill="#5470de"/><rect x="102" y="154" width="5" height="26" fill="#7093f3"/><rect x="107" y="154" width="4" height="26" fill="#5875e1"/><rect x="111" y="154" width="6" height="26" fill="#7ea1fa"/><rect x="117" y="154" width="8" height="26" fill="#5875e1"/><rect x="125" y="154" width="5" height="26" fill="#7b9ff9"/><rect x="130" y="154" width="4" height="26" fill="#5673e0"/><rect x="134" y="154" width="5" height="26" fill="#8db0fe"/><rect x="139" y="154" width="4" height="26" fill="#4c66d6"/><rect x="143" y="154" width="5" height="26" fill="#779af7"/><rect x="148" y="154" width="14" height="26" fill="#5d7ce6"/><rect x="162" y="154" width="5" height="26" fill="#5673e0"/><rect x="167" y="154" width="4" height="26" fill="#94b6ff"/><rect x="171" y="154" width="5" height="26" fill="#4c66d6"/><rect x="176" y="154" width="4" height="26" fill="#779af7"/><rect x="180" y="154" width="6" height="26" fill="#5673e0"/><rect x="186" y="154" width="4" height="26" fill="#8db0fe"/><rect x="190" y="154" width="5" height="26" fill="#6a8bef"/><rect x="195" y="154" width="9" height="26" fill="#5673e0"/><rect x="204" y="154" width="5" height="26" fill="#7b9ff9"/><rect x="209" y="154" width="4" height="26" fill="#a9c6fd"/><rect x="213" y="154" width="5" height="26" fill="#5470de"/><rect x="218" y="154" width="1" height="26" fill="#82a6fb"/><rect x="219" y="154" width="2" height="26" fill="#7597f6"/><rect x="221" y="154" width="3" height="26" fill="#7ea1fa"/><rect x="224" y="154" width="2" height="26" fill="#799cf8"/><rect x="226" y="154" width="3" height="26" fill="#6f92f3"/><rect x="229" y="154" width="3" height="26" fill="#7699f6"/><rect x="232" y="154" width="2" height="26" fill="#7a9df8"/><rect x="234" y="154" width="3" height="26" fill="#7295f4"/><rect x="237" y="154" width="3" height="26" fill="#81a4fb"/><rect x="240" y="154" width="1" height="26" fill="#7ea1fa"/><rect x="241" y="154" width="4" height="26" fill="#a9c6fd"/><rect x="245" y="154" width="5" height="26" fill="#85a8fc"/><rect x="250" y="154" width="9" height="26" fill="#5875e1"/><rect x="259" y="154" width="9" height="26" fill="#779af7"/><rect x="268" y="154" width="10" height="26" fill="#5673e0"/><rect x="278" y="154" width="4" height="26" fill="#94b6ff"/><rect x="282" y="154" width="2" height="26" fill="#5470de"/><rect x="284" y="154" width="3" height="26" fill="#5572df"/><rect x="287" y="154" width="2" height="26" fill="#5673e0"/><rect x="289" y="154" width="3" height="26" fill="#5572df"/><rect x="292" y="154" width="3" height="26" fill="#5470de"/><rect x="295" y="154" width="2" height="26" fill="#536edd"/><rect x="297" y="154" width="4" height="26" fill="#5572df"/><rect x="301" y="154" width="4" height="26" fill="#85a8fc"/><rect x="305" y="154" width="5" height="26" fill="#a2c1ff"/><rect x="0" y="180" width="5" height="25" fill="#f2cbb7"/><rect x="5" y="180" width="4" height="25" fill="#6384eb"/><rect x="9" y="180" width="6" height="25" fill="#85a8fc"/><rect x="15" y="180" width="4" height="25" fill="#dddcdc"/><rect x="19" y="180" width="4" height="25" fill="#f7b396"/><rect x="23" y="180" width="1" height="25" fill="#6687ed"/><rect x="24" y="180" width="3" height="25" fill="#5977e3"/><rect x="27" y="180" width="2" height="25" fill="#6e90f2"/><rect x="29" y="180" width="3" height="25" fill="#6282ea"/><rect x="32" y="180" width="3" height="25" fill="#6180e9"/><rect x="35" y="180" width="2" height="25" fill="#6a8bef"/><rect x="37" y="180" width="3" height="25" fill="#5f7fe8"/><rect x="40" y="180" width="2" height="25" fill="#5977e3"/><rect x="42" y="180" width="9" height="25" fill="#4358cb"/><rect x="51" y="180" width="5" height="25" fill="#5977e3"/><rect x="56" y="180" width="4" height="25" fill="#4c66d6"/><rect x="60" y="180" width="5" height="25" fill="#5d7ce6"/><rect x="65" y="180" width="4" height="25" fill="#4055c8"/><rect x="69" y="180" width="5" height="25" fill="#5d7ce6"/><rect x="74" y="180" width="3" height="25" fill="#5673e0"/><rect x="77" y="180" width="2" height="25" fill="#5470de"/><rect x="79" y="180" width="3" height="25" fill="#536edd"/><rect x="82" y="180" width="8" height="25" fill="#5572df"/><rect x="90" y="180" width="2" height="25" fill="#5673e0"/><rect x="92" y="180" width="1" height="25" fill="#5470de"/><rect x="93" y="180" width="4" height="25" fill="#5977e3"/><rect x="97" y="180" width="5" height="25" fill="#3d50c3"/><rect x="102" y="180" width="5" height="25" fill="#5673e0"/><rect x="107" y="180" width="4" height="25" fill="#4c66d6"/><rect x="111" y="180" width="6" height="25" fill="#5d7ce6"/><rect x="117" y="180" width="8" height="25" fill="#465ecf"/><rect x="125" y="180" width="5" height="25" fill="#5875e1"/><rect x="130" y="180" width="4" height="25" fill="#536edd"/><rect x="134" y="180" width="5" height="25" fill="#5470de"/><rect x="139" y="180" width="4" height="25" fill="#3d50c3"/><rect x="143" y="180" width="5" height="25" fill="#5875e1"/><rect x="148" y="180" width="2" height="25" fill="#4f69d9"/><rect x="150" y="180" width="3" height="25" fill="#536edd"/><rect x="153" y="180" width="2" height="25" fill="#4e68d8"/><rect x="155" y="180" width="3" height="25" fill="#536edd"/><rect x="158" y="180" width="3" height="25" fill="#5470de"/><rect x="161" y="180" width="2" height="25" fill="#4f69d9"/><rect x="163" y="180" width="3" height="25" fill="#5470de"/><rect x="166" y="180" width="1" height="25" fill="#536edd"/><rect x="167" y="180" width="4" height="25" fill="#6a8bef"/><rect x="171" y="180" width="5" height="25" fill="#3d50c3"/><rect x="176" y="180" width="4" height="25" fill="#5673e0"/><rect x="180" y="180" width="6" height="25" fill="#4c66d6"/><rect x="186" y="180" width="4" height="25" fill="#6384eb"/><rect x="190" y="180" width="5" height="25" fill="#5470de"/><rect x="195" y="180" width="4" height="25" fill="#5d7ce6"/><rect x="199" y="180" width="14" height="25" fill="#85a8fc"/><rect x="213" y="180" width="5" height="25" fill="#5673e0"/><rect x="218" y="180" width="1" height="25" fill="#81a4fb"/><rect x="219" y="180" width="2" height="25" fill="#7da0f9"/><rect x="221" y="180" width="3" height="25" fill="#7396f5"/><rect x="224" y="180" width="2" height="25" fill="#7a9df8"/><rect x="226" y="180" width="3" height="25" fill="#7ea1fa"/><rect x="229" y="180" width="3" height="25" fill="#84a7fc"/><rect x="232" y="180" width="2" height="25" fill="#7a9df8"/><rect x="234" y="180" width="3" height="25" fill="#799cf8"/><rect x="237" y="180" width="3" height="25" fill="#8badfd"/><rect x="240" y="180" width="1" height="25" fill="#7597f6"/><rect x="241" y="180" width="4" height="25" fill="#a9c6fd"/><rect x="245" y="180" width="14" height="25" fill="#85a8fc"/><rect x="259" y="180" width="2" height="25" fill="#81a4fb"/><rect x="261" y="180" width="5" height="25" fill="#6f92f3"/><rect x="266" y="180" width="2" height="25" fill="#7a9df8"/><rect x="268" y="180" width="3" height="25" fill="#6e90f2"/><rect x="271" y="180" width="3" height="25" fill="#7396f5"/><rect x="274" y="180" width="2" height="25" fill="#81a4fb"/><rect x="276" y="180" width="2" height="25" fill="#7a9df8"/><rect x="278" y="180" width="13" height="25" fill="#6384eb"/><rect x="291" y="180" width="10" height="25" fill="#5470de"/><rect x="301" y="180" width="9" height="25" fill="#8db0fe"/><rect x="0" y="205" width="5" height="26" fill="#f4c6af"/><rect x="5" y="205" width="4" height="26" fill="#9ebeff"/><rect x="9" y="205" width="5" height="26" fill="#bcd2f7"/><rect x="14" y="205" width="5" height="26" fill="#dc5d4a"/><rect x="19" y="205" width="4" height="26" fill="#f18d6f"/><rect x="23" y="205" width="9" height="26" fill="#6a8bef"/><rect x="32" y="205" width="10" height="26" fill="#7b9ff9"/><rect x="42" y="205" width="9" height="26" fill="#4961d2"/><rect x="51" y="205" width="5" height="26" fill="#5977e3"/><rect x="56" y="205" width="23" height="26" fill="#5470de"/><rect x="79" y="205" width="9" height="26" fill="#536edd"/><rect x="88" y="205" width="9" height="26" fill="#5875e1"/><rect x="97" y="205" width="9" height="26" fill="#465ecf"/><rect x="106" y="205" width="11" height="26" fill="#5673e0"/><rect x="117" y="205" width="8" height="26" fill="#4055c8"/><rect x="125" y="205" width="9" height="26" fill="#5470de"/><rect x="134" y="205" width="9" height="26" fill="#465ecf"/><rect x="143" y="205" width="10" height="26" fill="#6384eb"/><rect x="153" y="205" width="9" height="26" fill="#5470de"/><rect x="162" y="205" width="9" height="26" fill="#7b9ff9"/><rect x="171" y="205" width="5" height="26" fill="#5673e0"/><rect x="176" y="205" width="4" height="26" fill="#7093f3"/><rect x="180" y="205" width="6" height="26" fill="#8db0fe"/><rect x="186" y="205" width="4" height="26" fill="#85a8fc"/><rect x="190" y="205" width="4" height="26" fill="#5d7ce6"/><rect x="194" y="205" width="5" height="26" fill="#8db0fe"/><rect x="199" y="205" width="10" height="26" fill="#a2c1ff"/><rect x="209" y="205" width="9" height="26" fill="#94b6ff"/><rect x="218" y="205" width="1" height="26" fill="#d1dae9"/><rect x="219" y="205" width="2" height="26" fill="#c0d4f5"/><rect x="221" y="205" width="3" height="26" fill="#bad0f8"/><rect x="224" y="205" width="2" height="26" fill="#c6d6f1"/><rect x="226" y="205" width="3" height="26" fill="#ccd9ed"/><rect x="229" y="205" width="3" height="26" fill="#cfdaea"/><rect x="232" y="205" width="2" height="26" fill="#d3dbe7"/><rect x="234" y="205" width="3" height="26" fill="#b6cefa"/><rect x="237" y="205" width="3" height="26" fill="#cbd8ee"/><rect x="240" y="205" width="1" height="26" fill="#c5d6f2"/><rect x="241" y="205" width="9" height="26" fill="#ebd3c6"/><rect x="250" y="205" width="3" height="26" fill="#d4dbe6"/><rect x="253" y="205" width="2" height="26" fill="#dadce0"/><rect x="255" y="205" width="3" height="26" fill="#c7d7f0"/><rect x="258" y="205" width="3" height="26" fill="#c9d7f0"/><rect x="261" y="205" width="2" height="26" fill="#c4d5f3"/><rect x="263" y="205" width="3" height="26" fill="#c9d7f0"/><rect x="266" y="205" width="2" height="26" fill="#d5dbe5"/><rect x="268" y="205" width="14" height="26" fill="#a9c6fd"/><rect x="282" y="205" width="5" height="26" fill="#c6d6f1"/><rect x="287" y="205" width="4" height="26" fill="#94b6ff"/><rect x="291" y="205" width="10" height="26" fill="#6384eb"/><rect x="301" y="205" width="9" height="26" fill="#b3cdfb"/><rect x="0" y="231" width="5" height="26" fill="#f5c0a7"/><rect x="5" y="231" width="4" height="26" fill="#a9c6fd"/><rect x="9" y="231" width="5" height="26" fill="#cfdaea"/><rect x="14" y="231" width="5" height="26" fill="#b40426"/><rect x="19" y="231" width="4" height="26" fill="#ee8468"/><rect x="23" y="231" width="5" height="26" fill="#85a8fc"/><rect x="28" y="231" width="4" height="26" fill="#6a8bef"/><rect x="32" y="231" width="10" height="26" fill="#7ea1fa"/><rect x="42" y="231" width="9" height="26" fill="#4c66d6"/><rect x="51" y="231" width="5" height="26" fill="#5673e0"/><rect x="56" y="231" width="23" height="26" fill="#6384eb"/><rect x="79" y="231" width="9" height="26" fill="#5470de"/><rect x="88" y="231" width="9" height="26" fill="#6384eb"/><rect x="97" y="231" width="9" height="26" fill="#4c66d6"/><rect x="106" y="231" width="11" height="26" fill="#5d7ce6"/><rect x="117" y="231" width="8" height="26" fill="#4055c8"/><rect x="125" y="231" width="9" height="26" fill="#5d7ce6"/><rect x="134" y="231" width="9" height="26" fill="#4358cb"/><rect x="143" y="231" width="10" height="26" fill="#6384eb"/><rect x="153" y="231" width="9" height="26" fill="#536edd"/><rect x="162" y="231" width="9" height="26" fill="#779af7"/><rect x="171" y="231" width="5" height="26" fill="#536edd"/><rect x="176" y="231" width="4" height="26" fill="#7093f3"/><rect x="180" y="231" width="10" height="26" fill="#8db0fe"/><rect x="190" y="231" width="4" height="26" fill="#5d7ce6"/><rect x="194" y="231" width="5" height="26" fill="#85a8fc"/><rect x="199" y="231" width="10" height="26" fill="#a2c1ff"/><rect x="209" y="231" width="4" height="26" fill="#7ea1fa"/><rect x="213" y="231" width="5" height="26" fill="#b3cdfb"/><rect x="218" y="231" width="3" height="26" fill="#dddcdc"/><rect x="221" y="231" width="3" height="26" fill="#d2dbe8"/><rect x="224" y="231" width="2" height="26" fill="#d3dbe7"/><rect x="226" y="231" width="3" height="26" fill="#d2dbe8"/><rect x="229" y="231" width="3" height="26" fill="#ccd9ed"/><rect x="232" y="231" width="2" height="26" fill="#d2dbe8"/><rect x="234" y="231" width="2" height="26" fill="#d1dae9"/><rect x="236" y="231" width="14" height="26" fill="#ebd3c6"/><rect x="250" y="231" width="9" height="26" fill="#d7dce3"/><rect x="259" y="231" width="5" height="26" fill="#bcd2f7"/><rect x="264" y="231" width="4" height="26" fill="#e2dad5"/><rect x="268" y="231" width="10" height="26" fill="#a9c6fd"/><rect x="278" y="231" width="4" height="26" fill="#8db0fe"/><rect x="282" y="231" width="5" height="26" fill="#d7dce3"/><rect x="287" y="231" width="4" height="26" fill="#9bbcff"/><rect x="291" y="231" width="10" height="26" fill="#7093f3"/><rect x="301" y="231" width="9" height="26" fill="#b3cdfb"/><rect x="0" y="257" width="5" height="25" fill="#f7b396"/><rect x="5" y="257" width="9" height="25" fill="#a2c1ff"/><rect x="14" y="257" width="5" height="25" fill="#f4c6af"/><rect x="19" y="257" width="4" height="25" fill="#ebd3c6"/><rect x="23" y="257" width="5" height="25" fill="#8db0fe"/><rect x="28" y="257" width="4" height="25" fill="#6384eb"/><rect x="32" y="257" width="10" height="25" fill="#7ea1fa"/><rect x="42" y="257" width="9" height="25" fill="#536edd"/><rect x="51" y="257" width="14" height="25" fill="#5d7ce6"/><rect x="65" y="257" width="4" height="25" fill="#4c66d6"/><rect x="69" y="257" width="10" height="25" fill="#5d7ce6"/><rect x="79" y="257" width="9" height="25" fill="#536edd"/><rect x="88" y="257" width="9" height="25" fill="#5875e1"/><rect x="97" y="257" width="9" height="25" fill="#465ecf"/><rect x="106" y="257" width="11" height="25" fill="#5875e1"/><rect x="117" y="257" width="8" height="25" fill="#4055c8"/><rect x="125" y="257" width="9" height="25" fill="#5673e0"/><rect x="134" y="257" width="9" height="25" fill="#465ecf"/><rect x="143" y="257" width="10" height="25" fill="#6384eb"/><rect x="153" y="257" width="9" height="25" fill="#4c66d6"/><rect x="162" y="257" width="9" height="25" fill="#779af7"/><rect x="171" y="257" width="5" height="25" fill="#4c66d6"/><rect x="176" y="257" width="4" height="25" fill="#7093f3"/><rect x="180" y="257" width="10" height="25" fill="#8db0fe"/><rect x="190" y="257" width="4" height="25" fill="#5673e0"/><rect x="194" y="257" width="5" height="25" fill="#7ea1fa"/><rect x="199" y="257" width="10" height="25" fill="#a9c6fd"/><rect x="209" y="257" width="4" height="25" fill="#7093f3"/><rect x="213" y="257" width="9" height="25" fill="#cfdaea"/><rect x="222" y="257" width="9" height="25" fill="#a2c1ff"/><rect x="231" y="257" width="3" height="25" fill="#dfdbd9"/><rect x="234" y="257" width="3" height="25" fill="#d3dbe7"/><rect x="237" y="257" width="3" height="25" fill="#e2dad5"/><rect x="240" y="257" width="2" height="25" fill="#e0dbd8"/><rect x="242" y="257" width="3" height="25" fill="#d8dce2"/><rect x="245" y="257" width="2" height="25" fill="#d9dce1"/><rect x="247" y="257" width="3" height="25" fill="#dedcdb"/><rect x="250" y="257" width="3" height="25" fill="#dddcdc"/><rect x="253" y="257" width="2" height="25" fill="#d6dce4"/><rect x="255" y="257" width="3" height="25" fill="#dadce0"/><rect x="258" y="257" width="1" height="25" fill="#d5dbe5"/><rect x="259" y="257" width="5" height="25" fill="#94b6ff"/><rect x="264" y="257" width="14" height="25" fill="#cfdaea"/><rect x="278" y="257" width="4" height="25" fill="#6384eb"/><rect x="282" y="257" width="9" height="25" fill="#a2c1ff"/><rect x="291" y="257" width="5" height="25" fill="#7ea1fa"/><rect x="296" y="257" width="5" height="25" fill="#5875e1"/><rect x="301" y="257" width="9" height="25" fill="#a9c6fd"/><rect x="0" y="282" width="5" height="26" fill="#ee8468"/><rect x="5" y="282" width="4" height="26" fill="#dddcdc"/><rect x="9" y="282" width="10" height="26" fill="#a9c6fd"/><rect x="19" y="282" width="4" height="26" fill="#cfdaea"/><rect x="23" y="282" width="5" height="26" fill="#9bbcff"/><rect x="28" y="282" width="4" height="26" fill="#7093f3"/><rect x="32" y="282" width="5" height="26" fill="#d7dce3"/><rect x="37" y="282" width="5" height="26" fill="#8db0fe"/><rect x="42" y="282" width="14" height="26" fill="#7093f3"/><rect x="56" y="282" width="9" height="26" fill="#8db0fe"/><rect x="65" y="282" width="14" height="26" fill="#7ea1fa"/><rect x="79" y="282" width="9" height="26" fill="#5875e1"/><rect x="88" y="282" width="9" height="26" fill="#7093f3"/><rect x="97" y="282" width="9" height="26" fill="#5470de"/><rect x="106" y="282" width="11" height="26" fill="#6a8bef"/><rect x="117" y="282" width="8" height="26" fill="#4c66d6"/><rect x="125" y="282" width="9" height="26" fill="#5d7ce6"/><rect x="134" y="282" width="9" height="26" fill="#4c66d6"/><rect x="143" y="282" width="10" height="26" fill="#779af7"/><rect x="153" y="282" width="9" height="26" fill="#5875e1"/><rect x="162" y="282" width="9" height="26" fill="#9bbcff"/><rect x="171" y="282" width="9" height="26" fill="#6a8bef"/><rect x="180" y="282" width="10" height="26" fill="#a9c6fd"/><rect x="190" y="282" width="9" height="26" fill="#7ea1fa"/><rect x="199" y="282" width="14" height="26" fill="#cfdaea"/><rect x="213" y="282" width="5" height="26" fill="#d7dce3"/><rect x="218" y="282" width="1" height="26" fill="#f5c2aa"/><rect x="219" y="282" width="2" height="26" fill="#f2cbb7"/><rect x="221" y="282" width="3" height="26" fill="#f3c8b2"/><rect x="224" y="282" width="2" height="26" fill="#f4c5ad"/><rect x="226" y="282" width="3" height="26" fill="#f1cdba"/><rect x="229" y="282" width="3" height="26" fill="#f5c2aa"/><rect x="232" y="282" width="2" height="26" fill="#f6bfa6"/><rect x="234" y="282" width="2" height="26" fill="#f3c8b2"/><rect x="236" y="282" width="5" height="26" fill="#efcfbf"/><rect x="241" y="282" width="9" height="26" fill="#f59d7e"/><rect x="250" y="282" width="14" height="26" fill="#dddcdc"/><rect x="264" y="282" width="4" height="26" fill="#f4c6af"/><rect x="268" y="282" width="10" height="26" fill="#cfdaea"/><rect x="278" y="282" width="4" height="26" fill="#94b6ff"/><rect x="282" y="282" width="9" height="26" fill="#cfdaea"/><rect x="291" y="282" width="10" height="26" fill="#7093f3"/><rect x="301" y="282" width="9" height="26" fill="#d7dce3"/></svg><svg class="p" style="left:1400px" width="310" height="308" viewBox="0 0 310 308" shape-rendering="crispEdges"><rect x="0" y="0" width="4" height="26" fill="#b40426"/><rect x="4" y="0" width="3" height="26" fill="#c53334"/><rect x="7" y="0" width="4" height="26" fill="#f6bda2"/><rect x="11" y="0" width="7" height="26" fill="#97b8ff"/><rect x="18" y="0" width="11" height="26" fill="#89acfd"/><rect x="29" y="0" width="4" height="26" fill="#5875e1"/><rect x="33" y="0" width="7" height="26" fill="#a5c3fe"/><rect x="40" y="0" width="4" height="26" fill="#f2cbb7"/><rect x="44" y="0" width="3" height="26" fill="#dddcdc"/><rect x="47" y="0" width="8" height="26" fill="#a5c3fe"/><rect x="55" y="0" width="14" height="26" fill="#90b2fe"/><rect x="69" y="0" width="11" height="26" fill="#82a6fb"/><rect x="80" y="0" width="2" height="26" fill="#7b9ff9"/><rect x="82" y="0" width="3" height="26" fill="#779af7"/><rect x="85" y="0" width="2" height="26" fill="#6b8df0"/><rect x="87" y="0" width="3" height="26" fill="#6a8bef"/><rect x="90" y="0" width="2" height="26" fill="#7a9df8"/><rect x="92" y="0" width="3" height="26" fill="#7295f4"/><rect x="95" y="0" width="3" height="26" fill="#7da0f9"/><rect x="98" y="0" width="2" height="26" fill="#81a4fb"/><rect x="100" y="0" width="3" height="26" fill="#86a9fc"/><rect x="103" y="0" width="3" height="26" fill="#7597f6"/><rect x="106" y="0" width="2" height="26" fill="#7b9ff9"/><rect x="108" y="0" width="5" height="26" fill="#80a3fa"/><rect x="113" y="0" width="3" height="26" fill="#779af7"/><rect x="116" y="0" width="3" height="26" fill="#80a3fa"/><rect x="119" y="0" width="1" height="26" fill="#81a4fb"/><rect x="120" y="0" width="12" height="26" fill="#a2c1ff"/><rect x="132" y="0" width="2" height="26" fill="#bad0f8"/><rect x="134" y="0" width="3" height="26" fill="#bfd3f6"/><rect x="137" y="0" width="3" height="26" fill="#a9c6fd"/><rect x="140" y="0" width="2" height="26" fill="#b2ccfb"/><rect x="142" y="0" width="3" height="26" fill="#b5cdfa"/><rect x="145" y="0" width="3" height="26" fill="#b6cefa"/><rect x="148" y="0" width="2" height="26" fill="#bad0f8"/><rect x="150" y="0" width="3" height="26" fill="#b5cdfa"/><rect x="153" y="0" width="2" height="26" fill="#b2ccfb"/><rect x="155" y="0" width="3" height="26" fill="#a9c6fd"/><rect x="158" y="0" width="3" height="26" fill="#9fbfff"/><rect x="161" y="0" width="2" height="26" fill="#a1c0ff"/><rect x="163" y="0" width="3" height="26" fill="#a6c4fe"/><rect x="166" y="0" width="3" height="26" fill="#a5c3fe"/><rect x="169" y="0" width="2" height="26" fill="#9ebeff"/><rect x="171" y="0" width="3" height="26" fill="#aac7fd"/><rect x="174" y="0" width="3" height="26" fill="#adc9fd"/><rect x="177" y="0" width="2" height="26" fill="#9abbff"/><rect x="179" y="0" width="3" height="26" fill="#9fbfff"/><rect x="182" y="0" width="2" height="26" fill="#a1c0ff"/><rect x="184" y="0" width="3" height="26" fill="#a2c1ff"/><rect x="187" y="0" width="3" height="26" fill="#a3c2fe"/><rect x="190" y="0" width="2" height="26" fill="#94b6ff"/><rect x="192" y="0" width="3" height="26" fill="#93b5fe"/><rect x="195" y="0" width="3" height="26" fill="#85a8fc"/><rect x="198" y="0" width="2" height="26" fill="#7ea1fa"/><rect x="200" y="0" width="3" height="26" fill="#86a9fc"/><rect x="203" y="0" width="2" height="26" fill="#82a6fb"/><rect x="205" y="0" width="3" height="26" fill="#8db0fe"/><rect x="208" y="0" width="3" height="26" fill="#7ea1fa"/><rect x="211" y="0" width="2" height="26" fill="#94b6ff"/><rect x="213" y="0" width="3" height="26" fill="#82a6fb"/><rect x="216" y="0" width="2" height="26" fill="#85a8fc"/><rect x="218" y="0" width="1" height="26" fill="#9abbff"/><rect x="219" y="0" width="2" height="26" fill="#9fbfff"/><rect x="221" y="0" width="5" height="26" fill="#a6c4fe"/><rect x="226" y="0" width="3" height="26" fill="#93b5fe"/><rect x="229" y="0" width="3" height="26" fill="#a1c0ff"/><rect x="232" y="0" width="2" height="26" fill="#9ebeff"/><rect x="234" y="0" width="3" height="26" fill="#94b6ff"/><rect x="237" y="0" width="3" height="26" fill="#a1c0ff"/><rect x="240" y="0" width="1" height="26" fill="#9abbff"/><rect x="241" y="0" width="12" height="26" fill="#b6cefa"/><rect x="253" y="0" width="2" height="26" fill="#a7c5fe"/><rect x="255" y="0" width="3" height="26" fill="#aac7fd"/><rect x="258" y="0" width="3" height="26" fill="#bad0f8"/><rect x="261" y="0" width="2" height="26" fill="#b2ccfb"/><rect x="263" y="0" width="3" height="26" fill="#a5c3fe"/><rect x="266" y="0" width="2" height="26" fill="#b3cdfb"/><rect x="268" y="0" width="2" height="26" fill="#afcafc"/><rect x="270" y="0" width="8" height="26" fill="#9ebeff"/><rect x="278" y="0" width="13" height="26" fill="#7ea1fa"/><rect x="291" y="0" width="14" height="26" fill="#7597f6"/><rect x="305" y="0" width="5" height="26" fill="#a5c3fe"/><rect x="0" y="26" width="7" height="25" fill="#dc5d4a"/><rect x="7" y="26" width="11" height="25" fill="#dddcdc"/><rect x="18" y="26" width="11" height="25" fill="#b6cefa"/><rect x="29" y="26" width="4" height="25" fill="#90b2fe"/><rect x="33" y="26" width="3" height="25" fill="#efcfbf"/><rect x="36" y="26" width="4" height="25" fill="#ccd9ed"/><rect x="40" y="26" width="4" height="25" fill="#f7ba9f"/><rect x="44" y="26" width="3" height="25" fill="#cfdaea"/><rect x="47" y="26" width="4" height="25" fill="#6687ed"/><rect x="51" y="26" width="2" height="25" fill="#5977e3"/><rect x="53" y="26" width="3" height="25" fill="#5673e0"/><rect x="56" y="26" width="2" height="25" fill="#5a78e4"/><rect x="58" y="26" width="3" height="25" fill="#5977e3"/><rect x="61" y="26" width="3" height="25" fill="#5875e1"/><rect x="64" y="26" width="2" height="25" fill="#5a78e4"/><rect x="66" y="26" width="3" height="25" fill="#5572df"/><rect x="69" y="26" width="11" height="25" fill="#5b7ae5"/><rect x="80" y="26" width="7" height="25" fill="#5673e0"/><rect x="87" y="26" width="3" height="25" fill="#536edd"/><rect x="90" y="26" width="5" height="25" fill="#5470de"/><rect x="95" y="26" width="3" height="25" fill="#5572df"/><rect x="98" y="26" width="2" height="25" fill="#5a78e4"/><rect x="100" y="26" width="6" height="25" fill="#5b7ae5"/><rect x="106" y="26" width="2" height="25" fill="#5a78e4"/><rect x="108" y="26" width="3" height="25" fill="#5977e3"/><rect x="111" y="26" width="2" height="25" fill="#5b7ae5"/><rect x="113" y="26" width="3" height="25" fill="#5977e3"/><rect x="116" y="26" width="3" height="25" fill="#5d7ce6"/><rect x="119" y="26" width="1" height="25" fill="#5a78e4"/><rect x="120" y="26" width="12" height="25" fill="#6c8ff1"/><rect x="132" y="26" width="2" height="25" fill="#7da0f9"/><rect x="134" y="26" width="3" height="25" fill="#799cf8"/><rect x="137" y="26" width="3" height="25" fill="#86a9fc"/><rect x="140" y="26" width="2" height="25" fill="#81a4fb"/><rect x="142" y="26" width="3" height="25" fill="#7295f4"/><rect x="145" y="26" width="3" height="25" fill="#6f92f3"/><rect x="148" y="26" width="2" height="25" fill="#7396f5"/><rect x="150" y="26" width="3" height="25" fill="#84a7fc"/><rect x="153" y="26" width="2" height="25" fill="#6a8bef"/><rect x="155" y="26" width="3" height="25" fill="#6282ea"/><rect x="158" y="26" width="3" height="25" fill="#6f92f3"/><rect x="161" y="26" width="2" height="25" fill="#7396f5"/><rect x="163" y="26" width="3" height="25" fill="#6485ec"/><rect x="166" y="26" width="3" height="25" fill="#7597f6"/><rect x="169" y="26" width="2" height="25" fill="#6a8bef"/><rect x="171" y="26" width="3" height="25" fill="#6f92f3"/><rect x="174" y="26" width="3" height="25" fill="#799cf8"/><rect x="177" y="26" width="2" height="25" fill="#7597f6"/><rect x="179" y="26" width="5" height="25" fill="#6a8bef"/><rect x="184" y="26" width="3" height="25" fill="#6e90f2"/><rect x="187" y="26" width="3" height="25" fill="#6687ed"/><rect x="190" y="26" width="2" height="25" fill="#7093f3"/><rect x="192" y="26" width="3" height="25" fill="#6a8bef"/><rect x="195" y="26" width="3" height="25" fill="#5b7ae5"/><rect x="198" y="26" width="2" height="25" fill="#7093f3"/><rect x="200" y="26" width="3" height="25" fill="#6180e9"/><rect x="203" y="26" width="2" height="25" fill="#5d7ce6"/><rect x="205" y="26" width="3" height="25" fill="#6180e9"/><rect x="208" y="26" width="3" height="25" fill="#6687ed"/><rect x="211" y="26" width="2" height="25" fill="#6e90f2"/><rect x="213" y="26" width="3" height="25" fill="#688aef"/><rect x="216" y="26" width="2" height="25" fill="#6180e9"/><rect x="218" y="26" width="1" height="25" fill="#6f92f3"/><rect x="219" y="26" width="2" height="25" fill="#6b8df0"/><rect x="221" y="26" width="3" height="25" fill="#799cf8"/><rect x="224" y="26" width="2" height="25" fill="#6b8df0"/><rect x="226" y="26" width="3" height="25" fill="#779af7"/><rect x="229" y="26" width="3" height="25" fill="#7597f6"/><rect x="232" y="26" width="2" height="25" fill="#7a9df8"/><rect x="234" y="26" width="3" height="25" fill="#80a3fa"/><rect x="237" y="26" width="3" height="25" fill="#7597f6"/><rect x="240" y="26" width="5" height="25" fill="#7093f3"/><rect x="245" y="26" width="2" height="25" fill="#7597f6"/><rect x="247" y="26" width="3" height="25" fill="#7ea1fa"/><rect x="250" y="26" width="2" height="25" fill="#779af7"/><rect x="252" y="26" width="1" height="25" fill="#7093f3"/><rect x="253" y="26" width="2" height="25" fill="#7597f6"/><rect x="255" y="26" width="3" height="25" fill="#6282ea"/><rect x="258" y="26" width="3" height="25" fill="#6b8df0"/><rect x="261" y="26" width="2" height="25" fill="#779af7"/><rect x="263" y="26" width="3" height="25" fill="#6c8ff1"/><rect x="266" y="26" width="2" height="25" fill="#6788ee"/><rect x="268" y="26" width="6" height="25" fill="#7093f3"/><rect x="274" y="26" width="2" height="25" fill="#6a8bef"/><rect x="276" y="26" width="3" height="25" fill="#536edd"/><rect x="279" y="26" width="3" height="25" fill="#5470de"/><rect x="282" y="26" width="2" height="25" fill="#5673e0"/><rect x="284" y="26" width="3" height="25" fill="#5470de"/><rect x="287" y="26" width="2" height="25" fill="#5875e1"/><rect x="289" y="26" width="6" height="25" fill="#5572df"/><rect x="295" y="26" width="2" height="25" fill="#536edd"/><rect x="297" y="26" width="3" height="25" fill="#5673e0"/><rect x="300" y="26" width="3" height="25" fill="#5470de"/><rect x="303" y="26" width="7" height="25" fill="#9ebeff"/><rect x="0" y="51" width="4" height="26" fill="#f4c6af"/><rect x="4" y="51" width="3" height="26" fill="#c53334"/><rect x="7" y="51" width="4" height="26" fill="#dddcdc"/><rect x="11" y="51" width="4" height="26" fill="#d0473d"/><rect x="15" y="51" width="3" height="26" fill="#b40426"/><rect x="18" y="51" width="8" height="26" fill="#ca3b37"/><rect x="26" y="51" width="3" height="26" fill="#b40426"/><rect x="29" y="51" width="4" height="26" fill="#e57058"/><rect x="33" y="51" width="3" height="26" fill="#b40426"/><rect x="36" y="51" width="4" height="26" fill="#e16751"/><rect x="40" y="51" width="4" height="26" fill="#b40426"/><rect x="44" y="51" width="3" height="26" fill="#e2dad5"/><rect x="47" y="51" width="1" height="26" fill="#6a8bef"/><rect x="48" y="51" width="2" height="26" fill="#7b9ff9"/><rect x="50" y="51" width="3" height="26" fill="#7da0f9"/><rect x="53" y="51" width="3" height="26" fill="#799cf8"/><rect x="56" y="51" width="2" height="26" fill="#7295f4"/><rect x="58" y="51" width="3" height="26" fill="#6b8df0"/><rect x="61" y="51" width="3" height="26" fill="#506bda"/><rect x="64" y="51" width="5" height="26" fill="#5470de"/><rect x="69" y="51" width="5" height="26" fill="#516ddb"/><rect x="74" y="51" width="3" height="26" fill="#5572df"/><rect x="77" y="51" width="5" height="26" fill="#536edd"/><rect x="82" y="51" width="5" height="26" fill="#506bda"/><rect x="87" y="51" width="3" height="26" fill="#4e68d8"/><rect x="90" y="51" width="5" height="26" fill="#5572df"/><rect x="95" y="51" width="3" height="26" fill="#506bda"/><rect x="98" y="51" width="2" height="26" fill="#4b64d5"/><rect x="100" y="51" width="3" height="26" fill="#4e68d8"/><rect x="103" y="51" width="3" height="26" fill="#4961d2"/><rect x="106" y="51" width="5" height="26" fill="#4c66d6"/><rect x="111" y="51" width="2" height="26" fill="#516ddb"/><rect x="113" y="51" width="3" height="26" fill="#4961d2"/><rect x="116" y="51" width="3" height="26" fill="#485fd1"/><rect x="119" y="51" width="2" height="26" fill="#506bda"/><rect x="121" y="51" width="3" height="26" fill="#4e68d8"/><rect x="124" y="51" width="5" height="26" fill="#4a63d3"/><rect x="129" y="51" width="3" height="26" fill="#516ddb"/><rect x="132" y="51" width="2" height="26" fill="#485fd1"/><rect x="134" y="51" width="3" height="26" fill="#4f69d9"/><rect x="137" y="51" width="1" height="26" fill="#465ecf"/><rect x="138" y="51" width="2" height="26" fill="#4055c8"/><rect x="140" y="51" width="2" height="26" fill="#455cce"/><rect x="142" y="51" width="3" height="26" fill="#4b64d5"/><rect x="145" y="51" width="3" height="26" fill="#4055c8"/><rect x="148" y="51" width="2" height="26" fill="#465ecf"/><rect x="150" y="51" width="3" height="26" fill="#4257c9"/><rect x="153" y="51" width="2" height="26" fill="#4055c8"/><rect x="155" y="51" width="3" height="26" fill="#4961d2"/><rect x="158" y="51" width="3" height="26" fill="#465ecf"/><rect x="161" y="51" width="2" height="26" fill="#4358cb"/><rect x="163" y="51" width="3" height="26" fill="#4c66d6"/><rect x="166" y="51" width="3" height="26" fill="#4961d2"/><rect x="169" y="51" width="2" height="26" fill="#4a63d3"/><rect x="171" y="51" width="6" height="26" fill="#4257c9"/><rect x="177" y="51" width="2" height="26" fill="#465ecf"/><rect x="179" y="51" width="3" height="26" fill="#4961d2"/><rect x="182" y="51" width="2" height="26" fill="#4257c9"/><rect x="184" y="51" width="3" height="26" fill="#4055c8"/><rect x="187" y="51" width="3" height="26" fill="#465ecf"/><rect x="190" y="51" width="2" height="26" fill="#4257c9"/><rect x="192" y="51" width="3" height="26" fill="#4b64d5"/><rect x="195" y="51" width="3" height="26" fill="#465ecf"/><rect x="198" y="51" width="2" height="26" fill="#4961d2"/><rect x="200" y="51" width="3" height="26" fill="#465ecf"/><rect x="203" y="51" width="2" height="26" fill="#4358cb"/><rect x="205" y="51" width="6" height="26" fill="#4055c8"/><rect x="211" y="51" width="2" height="26" fill="#445acc"/><rect x="213" y="51" width="3" height="26" fill="#465ecf"/><rect x="216" y="51" width="3" height="26" fill="#485fd1"/><rect x="219" y="51" width="2" height="26" fill="#4358cb"/><rect x="221" y="51" width="3" height="26" fill="#465ecf"/><rect x="224" y="51" width="2" height="26" fill="#4b64d5"/><rect x="226" y="51" width="3" height="26" fill="#485fd1"/><rect x="229" y="51" width="3" height="26" fill="#445acc"/><rect x="232" y="51" width="2" height="26" fill="#4257c9"/><rect x="234" y="51" width="3" height="26" fill="#4b64d5"/><rect x="237" y="51" width="3" height="26" fill="#4961d2"/><rect x="240" y="51" width="2" height="26" fill="#455cce"/><rect x="242" y="51" width="3" height="26" fill="#445acc"/><rect x="245" y="51" width="2" height="26" fill="#4257c9"/><rect x="247" y="51" width="6" height="26" fill="#485fd1"/><rect x="253" y="51" width="2" height="26" fill="#445acc"/><rect x="255" y="51" width="3" height="26" fill="#4a63d3"/><rect x="258" y="51" width="3" height="26" fill="#4c66d6"/><rect x="261" y="51" width="2" height="26" fill="#445acc"/><rect x="263" y="51" width="3" height="26" fill="#485fd1"/><rect x="266" y="51" width="2" height="26" fill="#465ecf"/><rect x="268" y="51" width="3" height="26" fill="#445acc"/><rect x="271" y="51" width="3" height="26" fill="#4055c8"/><rect x="274" y="51" width="2" height="26" fill="#4b64d5"/><rect x="276" y="51" width="3" height="26" fill="#4257c9"/><rect x="279" y="51" width="3" height="26" fill="#4055c8"/><rect x="282" y="51" width="2" height="26" fill="#3e51c5"/><rect x="284" y="51" width="3" height="26" fill="#445acc"/><rect x="287" y="51" width="2" height="26" fill="#3c4ec2"/><rect x="289" y="51" width="6" height="26" fill="#4358cb"/><rect x="295" y="51" width="2" height="26" fill="#3b4cc0"/><rect x="297" y="51" width="3" height="26" fill="#4055c8"/><rect x="300" y="51" width="3" height="26" fill="#3b4cc0"/><rect x="303" y="51" width="2" height="26" fill="#445acc"/><rect x="305" y="51" width="5" height="26" fill="#82a6fb"/><rect x="0" y="77" width="4" height="26" fill="#dddcdc"/><rect x="4" y="77" width="3" height="26" fill="#c53334"/><rect x="7" y="77" width="4" height="26" fill="#dddcdc"/><rect x="11" y="77" width="7" height="26" fill="#be242e"/><rect x="18" y="77" width="8" height="26" fill="#b40426"/><rect x="26" y="77" width="7" height="26" fill="#be242e"/><rect x="33" y="77" width="3" height="26" fill="#d0473d"/><rect x="36" y="77" width="8" height="26" fill="#c32e31"/><rect x="44" y="77" width="3" height="26" fill="#efcfbf"/><rect x="47" y="77" width="8" height="26" fill="#90b2fe"/><rect x="55" y="77" width="6" height="26" fill="#7597f6"/><rect x="61" y="77" width="3" height="26" fill="#6485ec"/><rect x="64" y="77" width="5" height="26" fill="#6a8bef"/><rect x="69" y="77" width="2" height="26" fill="#6180e9"/><rect x="71" y="77" width="3" height="26" fill="#5f7fe8"/><rect x="74" y="77" width="5" height="26" fill="#6a8bef"/><rect x="79" y="77" width="1" height="26" fill="#6384eb"/><rect x="80" y="77" width="2" height="26" fill="#5b7ae5"/><rect x="82" y="77" width="5" height="26" fill="#5f7fe8"/><rect x="87" y="77" width="5" height="26" fill="#5b7ae5"/><rect x="92" y="77" width="3" height="26" fill="#5e7de7"/><rect x="95" y="77" width="3" height="26" fill="#5f7fe8"/><rect x="98" y="77" width="2" height="26" fill="#5572df"/><rect x="100" y="77" width="3" height="26" fill="#5673e0"/><rect x="103" y="77" width="3" height="26" fill="#5875e1"/><rect x="106" y="77" width="2" height="26" fill="#5572df"/><rect x="108" y="77" width="3" height="26" fill="#5470de"/><rect x="111" y="77" width="2" height="26" fill="#5572df"/><rect x="113" y="77" width="3" height="26" fill="#5470de"/><rect x="116" y="77" width="8" height="26" fill="#5572df"/><rect x="124" y="77" width="3" height="26" fill="#5875e1"/><rect x="127" y="77" width="5" height="26" fill="#5470de"/><rect x="132" y="77" width="5" height="26" fill="#5572df"/><rect x="137" y="77" width="3" height="26" fill="#5875e1"/><rect x="140" y="77" width="2" height="26" fill="#5572df"/><rect x="142" y="77" width="3" height="26" fill="#5470de"/><rect x="145" y="77" width="3" height="26" fill="#5875e1"/><rect x="148" y="77" width="2" height="26" fill="#5470de"/><rect x="150" y="77" width="3" height="26" fill="#5572df"/><rect x="153" y="77" width="2" height="26" fill="#5470de"/><rect x="155" y="77" width="1" height="26" fill="#5673e0"/><rect x="156" y="77" width="5" height="26" fill="#4f69d9"/><rect x="161" y="77" width="2" height="26" fill="#4961d2"/><rect x="163" y="77" width="3" height="26" fill="#506bda"/><rect x="166" y="77" width="3" height="26" fill="#465ecf"/><rect x="169" y="77" width="2" height="26" fill="#536edd"/><rect x="171" y="77" width="6" height="26" fill="#4f69d9"/><rect x="177" y="77" width="2" height="26" fill="#4c66d6"/><rect x="179" y="77" width="5" height="26" fill="#485fd1"/><rect x="184" y="77" width="3" height="26" fill="#4961d2"/><rect x="187" y="77" width="3" height="26" fill="#485fd1"/><rect x="190" y="77" width="2" height="26" fill="#4a63d3"/><rect x="192" y="77" width="3" height="26" fill="#4e68d8"/><rect x="195" y="77" width="3" height="26" fill="#4b64d5"/><rect x="198" y="77" width="2" height="26" fill="#465ecf"/><rect x="200" y="77" width="3" height="26" fill="#485fd1"/><rect x="203" y="77" width="2" height="26" fill="#4a63d3"/><rect x="205" y="77" width="3" height="26" fill="#465ecf"/><rect x="208" y="77" width="3" height="26" fill="#4a63d3"/><rect x="211" y="77" width="2" height="26" fill="#485fd1"/><rect x="213" y="77" width="3" height="26" fill="#4e68d8"/><rect x="216" y="77" width="3" height="26" fill="#465ecf"/><rect x="219" y="77" width="2" height="26" fill="#455cce"/><rect x="221" y="77" width="3" height="26" fill="#445acc"/><rect x="224" y="77" width="2" height="26" fill="#4358cb"/><rect x="226" y="77" width="3" height="26" fill="#445acc"/><rect x="229" y="77" width="3" height="26" fill="#455cce"/><rect x="232" y="77" width="2" height="26" fill="#3f53c6"/><rect x="234" y="77" width="3" height="26" fill="#4961d2"/><rect x="237" y="77" width="2" height="26" fill="#3e51c5"/><rect x="239" y="77" width="1" height="26" fill="#465ecf"/><rect x="240" y="77" width="2" height="26" fill="#4b64d5"/><rect x="242" y="77" width="3" height="26" fill="#4961d2"/><rect x="245" y="77" width="2" height="26" fill="#4f69d9"/><rect x="247" y="77" width="3" height="26" fill="#516ddb"/><rect x="250" y="77" width="3" height="26" fill="#4a63d3"/><rect x="253" y="77" width="2" height="26" fill="#4f69d9"/><rect x="255" y="77" width="3" height="26" fill="#4961d2"/><rect x="258" y="77" width="3" height="26" fill="#4e68d8"/><rect x="261" y="77" width="2" height="26" fill="#4961d2"/><rect x="263" y="77" width="3" height="26" fill="#4c66d6"/><rect x="266" y="77" width="2" height="26" fill="#506bda"/><rect x="268" y="77" width="3" height="26" fill="#4f69d9"/><rect x="271" y="77" width="3" height="26" fill="#465ecf"/><rect x="274" y="77" width="2" height="26" fill="#485fd1"/><rect x="276" y="77" width="3" height="26" fill="#4e68d8"/><rect x="279" y="77" width="3" height="26" fill="#4b64d5"/><rect x="282" y="77" width="2" height="26" fill="#4e68d8"/><rect x="284" y="77" width="3" height="26" fill="#465ecf"/><rect x="287" y="77" width="2" height="26" fill="#506bda"/><rect x="289" y="77" width="6" height="26" fill="#4a63d3"/><rect x="295" y="77" width="2" height="26" fill="#4f69d9"/><rect x="297" y="77" width="3" height="26" fill="#506bda"/><rect x="300" y="77" width="3" height="26" fill="#465ecf"/><rect x="303" y="77" width="2" height="26" fill="#4a63d3"/><rect x="305" y="77" width="5" height="26" fill="#6c8ff1"/><rect x="0" y="103" width="4" height="25" fill="#adc9fd"/><rect x="4" y="103" width="3" height="25" fill="#ea7b60"/><rect x="7" y="103" width="4" height="25" fill="#ccd9ed"/><rect x="11" y="103" width="4" height="25" fill="#dc5d4a"/><rect x="15" y="103" width="3" height="25" fill="#f4c6af"/><rect x="18" y="103" width="8" height="25" fill="#f18d6f"/><rect x="26" y="103" width="3" height="25" fill="#f7ba9f"/><rect x="29" y="103" width="4" height="25" fill="#e57058"/><rect x="33" y="103" width="3" height="25" fill="#e9d5cb"/><rect x="36" y="103" width="4" height="25" fill="#ea7b60"/><rect x="40" y="103" width="4" height="25" fill="#e2dad5"/><rect x="44" y="103" width="3" height="25" fill="#ccd9ed"/><rect x="47" y="103" width="1" height="25" fill="#5a78e4"/><rect x="48" y="103" width="2" height="25" fill="#5b7ae5"/><rect x="50" y="103" width="3" height="25" fill="#5977e3"/><rect x="53" y="103" width="3" height="25" fill="#5a78e4"/><rect x="56" y="103" width="2" height="25" fill="#5b7ae5"/><rect x="58" y="103" width="3" height="25" fill="#5977e3"/><rect x="61" y="103" width="5" height="25" fill="#4c66d6"/><rect x="66" y="103" width="13" height="25" fill="#5b7ae5"/><rect x="79" y="103" width="6" height="25" fill="#6282ea"/><rect x="85" y="103" width="2" height="25" fill="#5f7fe8"/><rect x="87" y="103" width="5" height="25" fill="#5a78e4"/><rect x="92" y="103" width="3" height="25" fill="#5e7de7"/><rect x="95" y="103" width="3" height="25" fill="#5977e3"/><rect x="98" y="103" width="2" height="25" fill="#5a78e4"/><rect x="100" y="103" width="3" height="25" fill="#5875e1"/><rect x="103" y="103" width="3" height="25" fill="#5977e3"/><rect x="106" y="103" width="2" height="25" fill="#5673e0"/><rect x="108" y="103" width="3" height="25" fill="#5875e1"/><rect x="111" y="103" width="2" height="25" fill="#5977e3"/><rect x="113" y="103" width="6" height="25" fill="#5a78e4"/><rect x="119" y="103" width="2" height="25" fill="#5875e1"/><rect x="121" y="103" width="3" height="25" fill="#5a78e4"/><rect x="124" y="103" width="3" height="25" fill="#5673e0"/><rect x="127" y="103" width="2" height="25" fill="#5875e1"/><rect x="129" y="103" width="3" height="25" fill="#5977e3"/><rect x="132" y="103" width="2" height="25" fill="#5a78e4"/><rect x="134" y="103" width="8" height="25" fill="#5875e1"/><rect x="142" y="103" width="3" height="25" fill="#5977e3"/><rect x="145" y="103" width="3" height="25" fill="#5875e1"/><rect x="148" y="103" width="2" height="25" fill="#5a78e4"/><rect x="150" y="103" width="5" height="25" fill="#5875e1"/><rect x="155" y="103" width="3" height="25" fill="#5572df"/><rect x="158" y="103" width="3" height="25" fill="#5673e0"/><rect x="161" y="103" width="2" height="25" fill="#5977e3"/><rect x="163" y="103" width="3" height="25" fill="#5470de"/><rect x="166" y="103" width="3" height="25" fill="#5977e3"/><rect x="169" y="103" width="2" height="25" fill="#5875e1"/><rect x="171" y="103" width="3" height="25" fill="#5977e3"/><rect x="174" y="103" width="3" height="25" fill="#5572df"/><rect x="177" y="103" width="2" height="25" fill="#5977e3"/><rect x="179" y="103" width="3" height="25" fill="#5875e1"/><rect x="182" y="103" width="2" height="25" fill="#5572df"/><rect x="184" y="103" width="3" height="25" fill="#5673e0"/><rect x="187" y="103" width="3" height="25" fill="#5470de"/><rect x="190" y="103" width="2" height="25" fill="#5673e0"/><rect x="192" y="103" width="1" height="25" fill="#5875e1"/><rect x="193" y="103" width="2" height="25" fill="#5977e3"/><rect x="195" y="103" width="3" height="25" fill="#5a78e4"/><rect x="198" y="103" width="5" height="25" fill="#5875e1"/><rect x="203" y="103" width="2" height="25" fill="#5572df"/><rect x="205" y="103" width="3" height="25" fill="#5875e1"/><rect x="208" y="103" width="3" height="25" fill="#5977e3"/><rect x="211" y="103" width="2" height="25" fill="#5572df"/><rect x="213" y="103" width="6" height="25" fill="#5875e1"/><rect x="219" y="103" width="2" height="25" fill="#5572df"/><rect x="221" y="103" width="3" height="25" fill="#5a78e4"/><rect x="224" y="103" width="2" height="25" fill="#5673e0"/><rect x="226" y="103" width="6" height="25" fill="#5977e3"/><rect x="232" y="103" width="5" height="25" fill="#5875e1"/><rect x="237" y="103" width="5" height="25" fill="#5673e0"/><rect x="242" y="103" width="3" height="25" fill="#5977e3"/><rect x="245" y="103" width="2" height="25" fill="#4c66d6"/><rect x="247" y="103" width="3" height="25" fill="#4f69d9"/><rect x="250" y="103" width="3" height="25" fill="#506bda"/><rect x="253" y="103" width="5" height="25" fill="#4e68d8"/><rect x="258" y="103" width="3" height="25" fill="#5470de"/><rect x="261" y="103" width="2" height="25" fill="#516ddb"/><rect x="263" y="103" width="3" height="25" fill="#4f69d9"/><rect x="266" y="103" width="1" height="25" fill="#5470de"/><rect x="267" y="103" width="1" height="25" fill="#465ecf"/><rect x="268" y="103" width="3" height="25" fill="#4961d2"/><rect x="271" y="103" width="3" height="25" fill="#4257c9"/><rect x="274" y="103" width="2" height="25" fill="#465ecf"/><rect x="276" y="103" width="3" height="25" fill="#485fd1"/><rect x="279" y="103" width="3" height="25" fill="#455cce"/><rect x="282" y="103" width="2" height="25" fill="#445acc"/><rect x="284" y="103" width="3" height="25" fill="#4961d2"/><rect x="287" y="103" width="2" height="25" fill="#4257c9"/><rect x="289" y="103" width="3" height="25" fill="#455cce"/><rect x="292" y="103" width="3" height="25" fill="#465ecf"/><rect x="295" y="103" width="2" height="25" fill="#4358cb"/><rect x="297" y="103" width="3" height="25" fill="#3e51c5"/><rect x="300" y="103" width="3" height="25" fill="#4358cb"/><rect x="303" y="103" width="2" height="25" fill="#465ecf"/><rect x="305" y="103" width="5" height="25" fill="#5f7fe8"/><rect x="0" y="128" width="4" height="26" fill="#b6cefa"/><rect x="4" y="128" width="3" height="26" fill="#c53334"/><rect x="7" y="128" width="4" height="26" fill="#f4c6af"/><rect x="11" y="128" width="4" height="26" fill="#e16751"/><rect x="15" y="128" width="3" height="26" fill="#d7dce3"/><rect x="18" y="128" width="8" height="26" fill="#e2dad5"/><rect x="26" y="128" width="3" height="26" fill="#b6cefa"/><rect x="29" y="128" width="4" height="26" fill="#efcfbf"/><rect x="33" y="128" width="3" height="26" fill="#a2c1ff"/><rect x="36" y="128" width="4" height="26" fill="#f4c6af"/><rect x="40" y="128" width="4" height="26" fill="#b6cefa"/><rect x="44" y="128" width="3" height="26" fill="#ccd9ed"/><rect x="47" y="128" width="11" height="26" fill="#97b8ff"/><rect x="58" y="128" width="3" height="26" fill="#92b4fe"/><rect x="61" y="128" width="3" height="26" fill="#97b8ff"/><rect x="64" y="128" width="2" height="26" fill="#84a7fc"/><rect x="66" y="128" width="3" height="26" fill="#98b9ff"/><rect x="69" y="128" width="2" height="26" fill="#84a7fc"/><rect x="71" y="128" width="3" height="26" fill="#92b4fe"/><rect x="74" y="128" width="3" height="26" fill="#90b2fe"/><rect x="77" y="128" width="2" height="26" fill="#92b4fe"/><rect x="79" y="128" width="3" height="26" fill="#a5c3fe"/><rect x="82" y="128" width="3" height="26" fill="#a1c0ff"/><rect x="85" y="128" width="2" height="26" fill="#a2c1ff"/><rect x="87" y="128" width="3" height="26" fill="#93b5fe"/><rect x="90" y="128" width="2" height="26" fill="#97b8ff"/><rect x="92" y="128" width="3" height="26" fill="#a7c5fe"/><rect x="95" y="128" width="3" height="26" fill="#9ebeff"/><rect x="98" y="128" width="5" height="26" fill="#96b7ff"/><rect x="103" y="128" width="3" height="26" fill="#a2c1ff"/><rect x="106" y="128" width="2" height="26" fill="#9dbdff"/><rect x="108" y="128" width="3" height="26" fill="#a3c2fe"/><rect x="111" y="128" width="5" height="26" fill="#a5c3fe"/><rect x="116" y="128" width="3" height="26" fill="#9abbff"/><rect x="119" y="128" width="2" height="26" fill="#9bbcff"/><rect x="121" y="128" width="2" height="26" fill="#97b8ff"/><rect x="123" y="128" width="1" height="26" fill="#a5c3fe"/><rect x="124" y="128" width="3" height="26" fill="#a7c5fe"/><rect x="127" y="128" width="2" height="26" fill="#a1c0ff"/><rect x="129" y="128" width="3" height="26" fill="#b3cdfb"/><rect x="132" y="128" width="2" height="26" fill="#b7cff9"/><rect x="134" y="128" width="6" height="26" fill="#afcafc"/><rect x="140" y="128" width="2" height="26" fill="#a9c6fd"/><rect x="142" y="128" width="3" height="26" fill="#a2c1ff"/><rect x="145" y="128" width="3" height="26" fill="#a7c5fe"/><rect x="148" y="128" width="2" height="26" fill="#adc9fd"/><rect x="150" y="128" width="3" height="26" fill="#b2ccfb"/><rect x="153" y="128" width="2" height="26" fill="#a7c5fe"/><rect x="155" y="128" width="3" height="26" fill="#abc8fd"/><rect x="158" y="128" width="3" height="26" fill="#b7cff9"/><rect x="161" y="128" width="2" height="26" fill="#a9c6fd"/><rect x="163" y="128" width="3" height="26" fill="#b9d0f9"/><rect x="166" y="128" width="3" height="26" fill="#b3cdfb"/><rect x="169" y="128" width="2" height="26" fill="#aac7fd"/><rect x="171" y="128" width="3" height="26" fill="#a2c1ff"/><rect x="174" y="128" width="3" height="26" fill="#a1c0ff"/><rect x="177" y="128" width="2" height="26" fill="#bcd2f7"/><rect x="179" y="128" width="3" height="26" fill="#bbd1f8"/><rect x="182" y="128" width="2" height="26" fill="#b5cdfa"/><rect x="184" y="128" width="3" height="26" fill="#afcafc"/><rect x="187" y="128" width="3" height="26" fill="#b6cefa"/><rect x="190" y="128" width="2" height="26" fill="#bad0f8"/><rect x="192" y="128" width="3" height="26" fill="#a6c4fe"/><rect x="195" y="128" width="3" height="26" fill="#9bbcff"/><rect x="198" y="128" width="2" height="26" fill="#afcafc"/><rect x="200" y="128" width="5" height="26" fill="#a5c3fe"/><rect x="205" y="128" width="3" height="26" fill="#a9c6fd"/><rect x="208" y="128" width="3" height="26" fill="#a1c0ff"/><rect x="211" y="128" width="2" height="26" fill="#a5c3fe"/><rect x="213" y="128" width="3" height="26" fill="#a6c4fe"/><rect x="216" y="128" width="5" height="26" fill="#b2ccfb"/><rect x="221" y="128" width="3" height="26" fill="#aac7fd"/><rect x="224" y="128" width="2" height="26" fill="#9dbdff"/><rect x="226" y="128" width="3" height="26" fill="#9fbfff"/><rect x="229" y="128" width="3" height="26" fill="#a3c2fe"/><rect x="232" y="128" width="2" height="26" fill="#9abbff"/><rect x="234" y="128" width="3" height="26" fill="#9ebeff"/><rect x="237" y="128" width="3" height="26" fill="#9dbdff"/><rect x="240" y="128" width="2" height="26" fill="#b2ccfb"/><rect x="242" y="128" width="3" height="26" fill="#aec9fc"/><rect x="245" y="128" width="2" height="26" fill="#93b5fe"/><rect x="247" y="128" width="3" height="26" fill="#8fb1fe"/><rect x="250" y="128" width="3" height="26" fill="#84a7fc"/><rect x="253" y="128" width="2" height="26" fill="#94b6ff"/><rect x="255" y="128" width="3" height="26" fill="#8badfd"/><rect x="258" y="128" width="3" height="26" fill="#92b4fe"/><rect x="261" y="128" width="2" height="26" fill="#94b6ff"/><rect x="263" y="128" width="3" height="26" fill="#8badfd"/><rect x="266" y="128" width="1" height="26" fill="#94b6ff"/><rect x="267" y="128" width="1" height="26" fill="#82a6fb"/><rect x="268" y="128" width="3" height="26" fill="#86a9fc"/><rect x="271" y="128" width="3" height="26" fill="#7396f5"/><rect x="274" y="128" width="2" height="26" fill="#7699f6"/><rect x="276" y="128" width="3" height="26" fill="#85a8fc"/><rect x="279" y="128" width="3" height="26" fill="#7597f6"/><rect x="282" y="128" width="5" height="26" fill="#7699f6"/><rect x="287" y="128" width="2" height="26" fill="#85a8fc"/><rect x="289" y="128" width="3" height="26" fill="#6f92f3"/><rect x="292" y="128" width="3" height="26" fill="#84a7fc"/><rect x="295" y="128" width="5" height="26" fill="#7396f5"/><rect x="300" y="128" width="3" height="26" fill="#7093f3"/><rect x="303" y="128" width="2" height="26" fill="#799cf8"/><rect x="305" y="128" width="5" height="26" fill="#8db0fe"/><rect x="0" y="154" width="4" height="26" fill="#d7dce3"/><rect x="4" y="154" width="7" height="26" fill="#b40426"/><rect x="11" y="154" width="4" height="26" fill="#d65244"/><rect x="15" y="154" width="3" height="26" fill="#97b8ff"/><rect x="18" y="154" width="4" height="26" fill="#a5c3fe"/><rect x="22" y="154" width="4" height="26" fill="#89acfd"/><rect x="26" y="154" width="3" height="26" fill="#7597f6"/><rect x="29" y="154" width="4" height="26" fill="#a5c3fe"/><rect x="33" y="154" width="3" height="26" fill="#7597f6"/><rect x="36" y="154" width="4" height="26" fill="#e7d7ce"/><rect x="40" y="154" width="4" height="26" fill="#f2cbb7"/><rect x="44" y="154" width="3" height="26" fill="#dc5d4a"/><rect x="47" y="154" width="1" height="26" fill="#f18d6f"/><rect x="48" y="154" width="2" height="26" fill="#e8765c"/><rect x="50" y="154" width="3" height="26" fill="#e97a5f"/><rect x="53" y="154" width="3" height="26" fill="#e7745b"/><rect x="56" y="154" width="2" height="26" fill="#f08b6e"/><rect x="58" y="154" width="3" height="26" fill="#e67259"/><rect x="61" y="154" width="3" height="26" fill="#f18d6f"/><rect x="64" y="154" width="2" height="26" fill="#ea7b60"/><rect x="66" y="154" width="3" height="26" fill="#ec7f63"/><rect x="69" y="154" width="2" height="26" fill="#f18d6f"/><rect x="71" y="154" width="3" height="26" fill="#ec7f63"/><rect x="74" y="154" width="3" height="26" fill="#e97a5f"/><rect x="77" y="154" width="2" height="26" fill="#e57058"/><rect x="79" y="154" width="3" height="26" fill="#e67259"/><rect x="82" y="154" width="3" height="26" fill="#e8765c"/><rect x="85" y="154" width="2" height="26" fill="#ec7f63"/><rect x="87" y="154" width="3" height="26" fill="#eb7d62"/><rect x="90" y="154" width="2" height="26" fill="#e8765c"/><rect x="92" y="154" width="3" height="26" fill="#ec8165"/><rect x="95" y="154" width="3" height="26" fill="#ed8366"/><rect x="98" y="154" width="2" height="26" fill="#e97a5f"/><rect x="100" y="154" width="3" height="26" fill="#ef886b"/><rect x="103" y="154" width="3" height="26" fill="#ec8165"/><rect x="106" y="154" width="2" height="26" fill="#f18f71"/><rect x="108" y="154" width="5" height="26" fill="#f08a6c"/><rect x="113" y="154" width="3" height="26" fill="#e8765c"/><rect x="116" y="154" width="3" height="26" fill="#f08a6c"/><rect x="119" y="154" width="2" height="26" fill="#ec7f63"/><rect x="121" y="154" width="3" height="26" fill="#e67259"/><rect x="124" y="154" width="3" height="26" fill="#f18d6f"/><rect x="127" y="154" width="5" height="26" fill="#e8765c"/><rect x="132" y="154" width="2" height="26" fill="#e97a5f"/><rect x="134" y="154" width="3" height="26" fill="#ec7f63"/><rect x="137" y="154" width="3" height="26" fill="#e97a5f"/><rect x="140" y="154" width="2" height="26" fill="#f08b6e"/><rect x="142" y="154" width="3" height="26" fill="#ee8669"/><rect x="145" y="154" width="3" height="26" fill="#ec8165"/><rect x="148" y="154" width="2" height="26" fill="#f18f71"/><rect x="150" y="154" width="3" height="26" fill="#f08b6e"/><rect x="153" y="154" width="2" height="26" fill="#ec8165"/><rect x="155" y="154" width="3" height="26" fill="#f08a6c"/><rect x="158" y="154" width="3" height="26" fill="#ee8669"/><rect x="161" y="154" width="2" height="26" fill="#e7745b"/><rect x="163" y="154" width="3" height="26" fill="#f18f71"/><rect x="166" y="154" width="3" height="26" fill="#f08a6c"/><rect x="169" y="154" width="2" height="26" fill="#ee8669"/><rect x="171" y="154" width="3" height="26" fill="#f08a6c"/><rect x="174" y="154" width="3" height="26" fill="#ed8366"/><rect x="177" y="154" width="2" height="26" fill="#e46e56"/><rect x="179" y="154" width="3" height="26" fill="#e7745b"/><rect x="182" y="154" width="2" height="26" fill="#eb7d62"/><rect x="184" y="154" width="3" height="26" fill="#e9785d"/><rect x="187" y="154" width="3" height="26" fill="#ea7b60"/><rect x="190" y="154" width="2" height="26" fill="#e46e56"/><rect x="192" y="154" width="3" height="26" fill="#f08b6e"/><rect x="195" y="154" width="3" height="26" fill="#e67259"/><rect x="198" y="154" width="2" height="26" fill="#eb7d62"/><rect x="200" y="154" width="3" height="26" fill="#e9785d"/><rect x="203" y="154" width="2" height="26" fill="#ee8468"/><rect x="205" y="154" width="3" height="26" fill="#f18d6f"/><rect x="208" y="154" width="3" height="26" fill="#e8765c"/><rect x="211" y="154" width="2" height="26" fill="#ec7f63"/><rect x="213" y="154" width="3" height="26" fill="#ec8165"/><rect x="216" y="154" width="3" height="26" fill="#ec7f63"/><rect x="219" y="154" width="2" height="26" fill="#ee8468"/><rect x="221" y="154" width="3" height="26" fill="#ec7f63"/><rect x="224" y="154" width="2" height="26" fill="#ea7b60"/><rect x="226" y="154" width="3" height="26" fill="#ee8669"/><rect x="229" y="154" width="3" height="26" fill="#ed8366"/><rect x="232" y="154" width="2" height="26" fill="#e9785d"/><rect x="234" y="154" width="3" height="26" fill="#e7745b"/><rect x="237" y="154" width="3" height="26" fill="#e97a5f"/><rect x="240" y="154" width="2" height="26" fill="#e67259"/><rect x="242" y="154" width="3" height="26" fill="#ee8468"/><rect x="245" y="154" width="2" height="26" fill="#ec7f63"/><rect x="247" y="154" width="3" height="26" fill="#e7745b"/><rect x="250" y="154" width="3" height="26" fill="#e9785d"/><rect x="253" y="154" width="2" height="26" fill="#ec8165"/><rect x="255" y="154" width="3" height="26" fill="#e8765c"/><rect x="258" y="154" width="3" height="26" fill="#ef886b"/><rect x="261" y="154" width="2" height="26" fill="#f18d6f"/><rect x="263" y="154" width="3" height="26" fill="#e9785d"/><rect x="266" y="154" width="2" height="26" fill="#ec8165"/><rect x="268" y="154" width="3" height="26" fill="#ee8468"/><rect x="271" y="154" width="3" height="26" fill="#e8765c"/><rect x="274" y="154" width="2" height="26" fill="#ed8366"/><rect x="276" y="154" width="3" height="26" fill="#ec7f63"/><rect x="279" y="154" width="3" height="26" fill="#ed8366"/><rect x="282" y="154" width="2" height="26" fill="#ec8165"/><rect x="284" y="154" width="3" height="26" fill="#ea7b60"/><rect x="287" y="154" width="2" height="26" fill="#e67259"/><rect x="289" y="154" width="3" height="26" fill="#ed8366"/><rect x="292" y="154" width="3" height="26" fill="#ec7f63"/><rect x="295" y="154" width="2" height="26" fill="#ef886b"/><rect x="297" y="154" width="3" height="26" fill="#e67259"/><rect x="300" y="154" width="3" height="26" fill="#f08a6c"/><rect x="303" y="154" width="7" height="26" fill="#f4c6af"/><rect x="0" y="180" width="4" height="25" fill="#dddcdc"/><rect x="4" y="180" width="3" height="25" fill="#ee8468"/><rect x="7" y="180" width="4" height="25" fill="#be242e"/><rect x="11" y="180" width="4" height="25" fill="#ea7b60"/><rect x="15" y="180" width="7" height="25" fill="#7597f6"/><rect x="22" y="180" width="7" height="25" fill="#5f7fe8"/><rect x="29" y="180" width="7" height="25" fill="#82a6fb"/><rect x="36" y="180" width="4" height="25" fill="#e2dad5"/><rect x="40" y="180" width="4" height="25" fill="#f7ac8e"/><rect x="44" y="180" width="266" height="25" fill="#b40426"/><rect x="0" y="205" width="4" height="26" fill="#e9d5cb"/><rect x="4" y="205" width="3" height="26" fill="#e2dad5"/><rect x="7" y="205" width="4" height="26" fill="#f18d6f"/><rect x="11" y="205" width="4" height="26" fill="#efcfbf"/><rect x="15" y="205" width="7" height="26" fill="#536edd"/><rect x="22" y="205" width="4" height="26" fill="#4055c8"/><rect x="26" y="205" width="7" height="26" fill="#536edd"/><rect x="33" y="205" width="3" height="26" fill="#5b7ae5"/><rect x="36" y="205" width="4" height="26" fill="#89acfd"/><rect x="40" y="205" width="4" height="26" fill="#bfd3f6"/><rect x="44" y="205" width="1" height="26" fill="#e5d8d1"/><rect x="45" y="205" width="3" height="26" fill="#dcdddd"/><rect x="48" y="205" width="2" height="26" fill="#ebd3c6"/><rect x="50" y="205" width="3" height="26" fill="#dddcdc"/><rect x="53" y="205" width="3" height="26" fill="#e1dad6"/><rect x="56" y="205" width="2" height="26" fill="#e9d5cb"/><rect x="58" y="205" width="3" height="26" fill="#e4d9d2"/><rect x="61" y="205" width="3" height="26" fill="#e9d5cb"/><rect x="64" y="205" width="2" height="26" fill="#e6d7cf"/><rect x="66" y="205" width="3" height="26" fill="#e5d8d1"/><rect x="69" y="205" width="2" height="26" fill="#e3d9d3"/><rect x="71" y="205" width="3" height="26" fill="#ecd3c5"/><rect x="74" y="205" width="5" height="26" fill="#e6d7cf"/><rect x="79" y="205" width="3" height="26" fill="#dfdbd9"/><rect x="82" y="205" width="3" height="26" fill="#e7d7ce"/><rect x="85" y="205" width="2" height="26" fill="#dfdbd9"/><rect x="87" y="205" width="3" height="26" fill="#ead5c9"/><rect x="90" y="205" width="2" height="26" fill="#e8d6cc"/><rect x="92" y="205" width="3" height="26" fill="#ebd3c6"/><rect x="95" y="205" width="3" height="26" fill="#e4d9d2"/><rect x="98" y="205" width="2" height="26" fill="#e6d7cf"/><rect x="100" y="205" width="3" height="26" fill="#e7d7ce"/><rect x="103" y="205" width="3" height="26" fill="#e0dbd8"/><rect x="106" y="205" width="2" height="26" fill="#dddcdc"/><rect x="108" y="205" width="3" height="26" fill="#dbdcde"/><rect x="111" y="205" width="2" height="26" fill="#e6d7cf"/><rect x="113" y="205" width="6" height="26" fill="#e8d6cc"/><rect x="119" y="205" width="2" height="26" fill="#e6d7cf"/><rect x="121" y="205" width="3" height="26" fill="#dedcdb"/><rect x="124" y="205" width="3" height="26" fill="#e3d9d3"/><rect x="127" y="205" width="2" height="26" fill="#e1dad6"/><rect x="129" y="205" width="3" height="26" fill="#ead5c9"/><rect x="132" y="205" width="2" height="26" fill="#e2dad5"/><rect x="134" y="205" width="3" height="26" fill="#dcdddd"/><rect x="137" y="205" width="3" height="26" fill="#e6d7cf"/><rect x="140" y="205" width="2" height="26" fill="#e3d9d3"/><rect x="142" y="205" width="3" height="26" fill="#e7d7ce"/><rect x="145" y="205" width="5" height="26" fill="#e8d6cc"/><rect x="150" y="205" width="3" height="26" fill="#e4d9d2"/><rect x="153" y="205" width="2" height="26" fill="#ead5c9"/><rect x="155" y="205" width="6" height="26" fill="#ebd3c6"/><rect x="161" y="205" width="2" height="26" fill="#dcdddd"/><rect x="163" y="205" width="3" height="26" fill="#dddcdc"/><rect x="166" y="205" width="3" height="26" fill="#e5d8d1"/><rect x="169" y="205" width="2" height="26" fill="#e3d9d3"/><rect x="171" y="205" width="3" height="26" fill="#e8d6cc"/><rect x="174" y="205" width="3" height="26" fill="#ebd3c6"/><rect x="177" y="205" width="2" height="26" fill="#e9d5cb"/><rect x="179" y="205" width="3" height="26" fill="#dcdddd"/><rect x="182" y="205" width="2" height="26" fill="#e8d6cc"/><rect x="184" y="205" width="3" height="26" fill="#dfdbd9"/><rect x="187" y="205" width="3" height="26" fill="#dddcdc"/><rect x="190" y="205" width="2" height="26" fill="#e5d8d1"/><rect x="192" y="205" width="6" height="26" fill="#dddcdc"/><rect x="198" y="205" width="2" height="26" fill="#ead4c8"/><rect x="200" y="205" width="3" height="26" fill="#ebd3c6"/><rect x="203" y="205" width="5" height="26" fill="#dcdddd"/><rect x="208" y="205" width="3" height="26" fill="#ebd3c6"/><rect x="211" y="205" width="2" height="26" fill="#dfdbd9"/><rect x="213" y="205" width="3" height="26" fill="#e1dad6"/><rect x="216" y="205" width="3" height="26" fill="#e6d7cf"/><rect x="219" y="205" width="2" height="26" fill="#dfdbd9"/><rect x="221" y="205" width="3" height="26" fill="#ecd3c5"/><rect x="224" y="205" width="2" height="26" fill="#e8d6cc"/><rect x="226" y="205" width="3" height="26" fill="#e7d7ce"/><rect x="229" y="205" width="3" height="26" fill="#e0dbd8"/><rect x="232" y="205" width="2" height="26" fill="#e9d5cb"/><rect x="234" y="205" width="3" height="26" fill="#dcdddd"/><rect x="237" y="205" width="3" height="26" fill="#ead4c8"/><rect x="240" y="205" width="2" height="26" fill="#e8d6cc"/><rect x="242" y="205" width="3" height="26" fill="#e3d9d3"/><rect x="245" y="205" width="2" height="26" fill="#ebd3c6"/><rect x="247" y="205" width="3" height="26" fill="#e5d8d1"/><rect x="250" y="205" width="3" height="26" fill="#e3d9d3"/><rect x="253" y="205" width="2" height="26" fill="#e2dad5"/><rect x="255" y="205" width="3" height="26" fill="#e6d7cf"/><rect x="258" y="205" width="3" height="26" fill="#e7d7ce"/><rect x="261" y="205" width="2" height="26" fill="#dcdddd"/><rect x="263" y="205" width="3" height="26" fill="#dddcdc"/><rect x="266" y="205" width="2" height="26" fill="#dedcdb"/><rect x="268" y="205" width="3" height="26" fill="#e1dad6"/><rect x="271" y="205" width="3" height="26" fill="#dcdddd"/><rect x="274" y="205" width="2" height="26" fill="#e8d6cc"/><rect x="276" y="205" width="3" height="26" fill="#ecd3c5"/><rect x="279" y="205" width="3" height="26" fill="#e1dad6"/><rect x="282" y="205" width="2" height="26" fill="#e9d5cb"/><rect x="284" y="205" width="3" height="26" fill="#e3d9d3"/><rect x="287" y="205" width="2" height="26" fill="#ebd3c6"/><rect x="289" y="205" width="3" height="26" fill="#ead5c9"/><rect x="292" y="205" width="3" height="26" fill="#e8d6cc"/><rect x="295" y="205" width="2" height="26" fill="#ecd3c5"/><rect x="297" y="205" width="3" height="26" fill="#dfdbd9"/><rect x="300" y="205" width="3" height="26" fill="#e8d6cc"/><rect x="303" y="205" width="2" height="26" fill="#e1dad6"/><rect x="305" y="205" width="5" height="26" fill="#ee8468"/><rect x="0" y="231" width="4" height="26" fill="#f2cbb7"/><rect x="4" y="231" width="3" height="26" fill="#cfdaea"/><rect x="7" y="231" width="4" height="26" fill="#f7ba9f"/><rect x="11" y="231" width="4" height="26" fill="#a5c3fe"/><rect x="15" y="231" width="7" height="26" fill="#5875e1"/><rect x="22" y="231" width="10" height="26" fill="#465ecf"/><rect x="32" y="231" width="8" height="26" fill="#536edd"/><rect x="40" y="231" width="4" height="26" fill="#7597f6"/><rect x="44" y="231" width="7" height="26" fill="#5f7fe8"/><rect x="51" y="231" width="4" height="26" fill="#6c8ff1"/><rect x="55" y="231" width="3" height="26" fill="#5875e1"/><rect x="58" y="231" width="3" height="26" fill="#5b7ae5"/><rect x="61" y="231" width="3" height="26" fill="#688aef"/><rect x="64" y="231" width="2" height="26" fill="#6282ea"/><rect x="66" y="231" width="3" height="26" fill="#6e90f2"/><rect x="69" y="231" width="2" height="26" fill="#6180e9"/><rect x="71" y="231" width="3" height="26" fill="#6485ec"/><rect x="74" y="231" width="3" height="26" fill="#6788ee"/><rect x="77" y="231" width="2" height="26" fill="#6180e9"/><rect x="79" y="231" width="3" height="26" fill="#7093f3"/><rect x="82" y="231" width="3" height="26" fill="#6788ee"/><rect x="85" y="231" width="2" height="26" fill="#7295f4"/><rect x="87" y="231" width="3" height="26" fill="#5d7ce6"/><rect x="90" y="231" width="2" height="26" fill="#5f7fe8"/><rect x="92" y="231" width="3" height="26" fill="#6384eb"/><rect x="95" y="231" width="3" height="26" fill="#6c8ff1"/><rect x="98" y="231" width="2" height="26" fill="#6282ea"/><rect x="100" y="231" width="3" height="26" fill="#7295f4"/><rect x="103" y="231" width="5" height="26" fill="#6a8bef"/><rect x="108" y="231" width="3" height="26" fill="#7093f3"/><rect x="111" y="231" width="2" height="26" fill="#7396f5"/><rect x="113" y="231" width="3" height="26" fill="#7597f6"/><rect x="116" y="231" width="3" height="26" fill="#779af7"/><rect x="119" y="231" width="2" height="26" fill="#6485ec"/><rect x="121" y="231" width="3" height="26" fill="#799cf8"/><rect x="124" y="231" width="3" height="26" fill="#6384eb"/><rect x="127" y="231" width="2" height="26" fill="#7396f5"/><rect x="129" y="231" width="3" height="26" fill="#6485ec"/><rect x="132" y="231" width="2" height="26" fill="#6b8df0"/><rect x="134" y="231" width="3" height="26" fill="#6f92f3"/><rect x="137" y="231" width="3" height="26" fill="#7597f6"/><rect x="140" y="231" width="2" height="26" fill="#7295f4"/><rect x="142" y="231" width="3" height="26" fill="#6282ea"/><rect x="145" y="231" width="3" height="26" fill="#7093f3"/><rect x="148" y="231" width="2" height="26" fill="#6a8bef"/><rect x="150" y="231" width="3" height="26" fill="#688aef"/><rect x="153" y="231" width="2" height="26" fill="#7295f4"/><rect x="155" y="231" width="3" height="26" fill="#7699f6"/><rect x="158" y="231" width="3" height="26" fill="#7295f4"/><rect x="161" y="231" width="2" height="26" fill="#7ea1fa"/><rect x="163" y="231" width="3" height="26" fill="#799cf8"/><rect x="166" y="231" width="3" height="26" fill="#7597f6"/><rect x="169" y="231" width="2" height="26" fill="#80a3fa"/><rect x="171" y="231" width="3" height="26" fill="#6c8ff1"/><rect x="174" y="231" width="3" height="26" fill="#80a3fa"/><rect x="177" y="231" width="2" height="26" fill="#6a8bef"/><rect x="179" y="231" width="3" height="26" fill="#7597f6"/><rect x="182" y="231" width="2" height="26" fill="#7396f5"/><rect x="184" y="231" width="3" height="26" fill="#7597f6"/><rect x="187" y="231" width="3" height="26" fill="#7a9df8"/><rect x="190" y="231" width="2" height="26" fill="#86a9fc"/><rect x="192" y="231" width="3" height="26" fill="#779af7"/><rect x="195" y="231" width="3" height="26" fill="#7295f4"/><rect x="198" y="231" width="2" height="26" fill="#82a6fb"/><rect x="200" y="231" width="5" height="26" fill="#85a8fc"/><rect x="205" y="231" width="3" height="26" fill="#86a9fc"/><rect x="208" y="231" width="3" height="26" fill="#84a7fc"/><rect x="211" y="231" width="2" height="26" fill="#7da0f9"/><rect x="213" y="231" width="3" height="26" fill="#85a8fc"/><rect x="216" y="231" width="3" height="26" fill="#7396f5"/><rect x="219" y="231" width="2" height="26" fill="#779af7"/><rect x="221" y="231" width="3" height="26" fill="#7597f6"/><rect x="224" y="231" width="2" height="26" fill="#6384eb"/><rect x="226" y="231" width="3" height="26" fill="#6c8ff1"/><rect x="229" y="231" width="3" height="26" fill="#7597f6"/><rect x="232" y="231" width="2" height="26" fill="#6b8df0"/><rect x="234" y="231" width="3" height="26" fill="#688aef"/><rect x="237" y="231" width="3" height="26" fill="#6282ea"/><rect x="240" y="231" width="2" height="26" fill="#6f92f3"/><rect x="242" y="231" width="3" height="26" fill="#6c8ff1"/><rect x="245" y="231" width="2" height="26" fill="#779af7"/><rect x="247" y="231" width="3" height="26" fill="#6384eb"/><rect x="250" y="231" width="3" height="26" fill="#688aef"/><rect x="253" y="231" width="2" height="26" fill="#799cf8"/><rect x="255" y="231" width="3" height="26" fill="#6687ed"/><rect x="258" y="231" width="3" height="26" fill="#779af7"/><rect x="261" y="231" width="1" height="26" fill="#7396f5"/><rect x="262" y="231" width="1" height="26" fill="#5d7ce6"/><rect x="263" y="231" width="3" height="26" fill="#5977e3"/><rect x="266" y="231" width="2" height="26" fill="#5a78e4"/><rect x="268" y="231" width="3" height="26" fill="#5977e3"/><rect x="271" y="231" width="5" height="26" fill="#5875e1"/><rect x="276" y="231" width="3" height="26" fill="#5b7ae5"/><rect x="279" y="231" width="3" height="26" fill="#5977e3"/><rect x="282" y="231" width="2" height="26" fill="#5e7de7"/><rect x="284" y="231" width="3" height="26" fill="#5f7fe8"/><rect x="287" y="231" width="2" height="26" fill="#5e7de7"/><rect x="289" y="231" width="3" height="26" fill="#5a78e4"/><rect x="292" y="231" width="3" height="26" fill="#5977e3"/><rect x="295" y="231" width="8" height="26" fill="#5b7ae5"/><rect x="303" y="231" width="2" height="26" fill="#5875e1"/><rect x="305" y="231" width="5" height="26" fill="#ccd9ed"/><rect x="0" y="257" width="4" height="25" fill="#f7ac8e"/><rect x="4" y="257" width="3" height="25" fill="#f2cbb7"/><rect x="7" y="257" width="4" height="25" fill="#dddcdc"/><rect x="11" y="257" width="4" height="25" fill="#6c8ff1"/><rect x="15" y="257" width="7" height="25" fill="#5572df"/><rect x="22" y="257" width="10" height="25" fill="#4055c8"/><rect x="32" y="257" width="5" height="25" fill="#4c66d6"/><rect x="37" y="257" width="7" height="25" fill="#5f7fe8"/><rect x="44" y="257" width="1" height="25" fill="#506bda"/><rect x="45" y="257" width="3" height="25" fill="#5470de"/><rect x="48" y="257" width="2" height="25" fill="#4f69d9"/><rect x="50" y="257" width="3" height="25" fill="#536edd"/><rect x="53" y="257" width="3" height="25" fill="#4e68d8"/><rect x="56" y="257" width="2" height="25" fill="#5470de"/><rect x="58" y="257" width="6" height="25" fill="#536edd"/><rect x="64" y="257" width="5" height="25" fill="#4e68d8"/><rect x="69" y="257" width="2" height="25" fill="#506bda"/><rect x="71" y="257" width="3" height="25" fill="#5470de"/><rect x="74" y="257" width="3" height="25" fill="#5572df"/><rect x="77" y="257" width="5" height="25" fill="#4f69d9"/><rect x="82" y="257" width="3" height="25" fill="#5572df"/><rect x="85" y="257" width="2" height="25" fill="#4c66d6"/><rect x="87" y="257" width="3" height="25" fill="#5470de"/><rect x="90" y="257" width="2" height="25" fill="#5572df"/><rect x="92" y="257" width="3" height="25" fill="#506bda"/><rect x="95" y="257" width="3" height="25" fill="#5470de"/><rect x="98" y="257" width="2" height="25" fill="#5875e1"/><rect x="100" y="257" width="3" height="25" fill="#5a78e4"/><rect x="103" y="257" width="3" height="25" fill="#5875e1"/><rect x="106" y="257" width="7" height="25" fill="#5a78e4"/><rect x="113" y="257" width="3" height="25" fill="#5673e0"/><rect x="116" y="257" width="5" height="25" fill="#5977e3"/><rect x="121" y="257" width="3" height="25" fill="#5875e1"/><rect x="124" y="257" width="3" height="25" fill="#5572df"/><rect x="127" y="257" width="2" height="25" fill="#5673e0"/><rect x="129" y="257" width="3" height="25" fill="#5977e3"/><rect x="132" y="257" width="2" height="25" fill="#5a78e4"/><rect x="134" y="257" width="3" height="25" fill="#5875e1"/><rect x="137" y="257" width="3" height="25" fill="#5977e3"/><rect x="140" y="257" width="2" height="25" fill="#5875e1"/><rect x="142" y="257" width="6" height="25" fill="#5673e0"/><rect x="148" y="257" width="2" height="25" fill="#5a78e4"/><rect x="150" y="257" width="3" height="25" fill="#5673e0"/><rect x="153" y="257" width="2" height="25" fill="#5a78e4"/><rect x="155" y="257" width="3" height="25" fill="#5977e3"/><rect x="158" y="257" width="2" height="25" fill="#5875e1"/><rect x="160" y="257" width="4" height="25" fill="#4c66d6"/><rect x="164" y="257" width="2" height="25" fill="#5d7ce6"/><rect x="166" y="257" width="3" height="25" fill="#5a78e4"/><rect x="169" y="257" width="5" height="25" fill="#5b7ae5"/><rect x="174" y="257" width="3" height="25" fill="#5a78e4"/><rect x="177" y="257" width="5" height="25" fill="#5977e3"/><rect x="182" y="257" width="5" height="25" fill="#5b7ae5"/><rect x="187" y="257" width="3" height="25" fill="#5d7ce6"/><rect x="190" y="257" width="2" height="25" fill="#5b7ae5"/><rect x="192" y="257" width="3" height="25" fill="#5977e3"/><rect x="195" y="257" width="5" height="25" fill="#5d7ce6"/><rect x="200" y="257" width="8" height="25" fill="#5977e3"/><rect x="208" y="257" width="3" height="25" fill="#5f7fe8"/><rect x="211" y="257" width="2" height="25" fill="#5a78e4"/><rect x="213" y="257" width="3" height="25" fill="#5b7ae5"/><rect x="216" y="257" width="3" height="25" fill="#5a78e4"/><rect x="219" y="257" width="2" height="25" fill="#5e7de7"/><rect x="221" y="257" width="3" height="25" fill="#5a78e4"/><rect x="224" y="257" width="5" height="25" fill="#5b7ae5"/><rect x="229" y="257" width="3" height="25" fill="#5875e1"/><rect x="232" y="257" width="2" height="25" fill="#5a78e4"/><rect x="234" y="257" width="3" height="25" fill="#5e7de7"/><rect x="237" y="257" width="3" height="25" fill="#5f7fe8"/><rect x="240" y="257" width="2" height="25" fill="#5b7ae5"/><rect x="242" y="257" width="3" height="25" fill="#5977e3"/><rect x="245" y="257" width="8" height="25" fill="#5572df"/><rect x="253" y="257" width="2" height="25" fill="#536edd"/><rect x="255" y="257" width="3" height="25" fill="#5470de"/><rect x="258" y="257" width="4" height="25" fill="#5875e1"/><rect x="262" y="257" width="1" height="25" fill="#536edd"/><rect x="263" y="257" width="3" height="25" fill="#465ecf"/><rect x="266" y="257" width="2" height="25" fill="#4a63d3"/><rect x="268" y="257" width="3" height="25" fill="#4f69d9"/><rect x="271" y="257" width="3" height="25" fill="#4a63d3"/><rect x="274" y="257" width="2" height="25" fill="#4c66d6"/><rect x="276" y="257" width="3" height="25" fill="#536edd"/><rect x="279" y="257" width="3" height="25" fill="#4a63d3"/><rect x="282" y="257" width="2" height="25" fill="#4f69d9"/><rect x="284" y="257" width="3" height="25" fill="#506bda"/><rect x="287" y="257" width="2" height="25" fill="#4b64d5"/><rect x="289" y="257" width="3" height="25" fill="#506bda"/><rect x="292" y="257" width="3" height="25" fill="#4c66d6"/><rect x="295" y="257" width="5" height="25" fill="#485fd1"/><rect x="300" y="257" width="3" height="25" fill="#506bda"/><rect x="303" y="257" width="2" height="25" fill="#4c66d6"/><rect x="305" y="257" width="5" height="25" fill="#6c8ff1"/><rect x="0" y="282" width="7" height="26" fill="#d65244"/><rect x="7" y="282" width="4" height="26" fill="#efcfbf"/><rect x="11" y="282" width="7" height="26" fill="#5f7fe8"/><rect x="18" y="282" width="4" height="26" fill="#7597f6"/><rect x="22" y="282" width="14" height="26" fill="#5875e1"/><rect x="36" y="282" width="4" height="26" fill="#90b2fe"/><rect x="40" y="282" width="4" height="26" fill="#adc9fd"/><rect x="44" y="282" width="4" height="26" fill="#8fb1fe"/><rect x="48" y="282" width="2" height="26" fill="#7b9ff9"/><rect x="50" y="282" width="6" height="26" fill="#90b2fe"/><rect x="56" y="282" width="2" height="26" fill="#8fb1fe"/><rect x="58" y="282" width="3" height="26" fill="#6788ee"/><rect x="61" y="282" width="3" height="26" fill="#6f92f3"/><rect x="64" y="282" width="2" height="26" fill="#799cf8"/><rect x="66" y="282" width="3" height="26" fill="#779af7"/><rect x="69" y="282" width="2" height="26" fill="#6c8ff1"/><rect x="71" y="282" width="3" height="26" fill="#7396f5"/><rect x="74" y="282" width="3" height="26" fill="#799cf8"/><rect x="77" y="282" width="5" height="26" fill="#7093f3"/><rect x="82" y="282" width="3" height="26" fill="#6a8bef"/><rect x="85" y="282" width="1" height="26" fill="#7699f6"/><rect x="86" y="282" width="1" height="26" fill="#84a7fc"/><rect x="87" y="282" width="3" height="26" fill="#7a9df8"/><rect x="90" y="282" width="2" height="26" fill="#779af7"/><rect x="92" y="282" width="3" height="26" fill="#7396f5"/><rect x="95" y="282" width="3" height="26" fill="#7da0f9"/><rect x="98" y="282" width="2" height="26" fill="#7597f6"/><rect x="100" y="282" width="3" height="26" fill="#7ea1fa"/><rect x="103" y="282" width="3" height="26" fill="#88abfd"/><rect x="106" y="282" width="1" height="26" fill="#81a4fb"/><rect x="107" y="282" width="1" height="26" fill="#9ebeff"/><rect x="108" y="282" width="3" height="26" fill="#94b6ff"/><rect x="111" y="282" width="2" height="26" fill="#9bbcff"/><rect x="113" y="282" width="3" height="26" fill="#9ebeff"/><rect x="116" y="282" width="3" height="26" fill="#97b8ff"/><rect x="119" y="282" width="2" height="26" fill="#93b5fe"/><rect x="121" y="282" width="3" height="26" fill="#9abbff"/><rect x="124" y="282" width="3" height="26" fill="#9ebeff"/><rect x="127" y="282" width="2" height="26" fill="#9bbcff"/><rect x="129" y="282" width="3" height="26" fill="#97b8ff"/><rect x="132" y="282" width="2" height="26" fill="#a3c2fe"/><rect x="134" y="282" width="3" height="26" fill="#96b7ff"/><rect x="137" y="282" width="3" height="26" fill="#a5c3fe"/><rect x="140" y="282" width="2" height="26" fill="#93b5fe"/><rect x="142" y="282" width="3" height="26" fill="#9fbfff"/><rect x="145" y="282" width="3" height="26" fill="#a7c5fe"/><rect x="148" y="282" width="2" height="26" fill="#9abbff"/><rect x="150" y="282" width="3" height="26" fill="#9fbfff"/><rect x="153" y="282" width="2" height="26" fill="#88abfd"/><rect x="155" y="282" width="3" height="26" fill="#9bbcff"/><rect x="158" y="282" width="3" height="26" fill="#96b7ff"/><rect x="161" y="282" width="5" height="26" fill="#9ebeff"/><rect x="166" y="282" width="3" height="26" fill="#9abbff"/><rect x="169" y="282" width="2" height="26" fill="#8fb1fe"/><rect x="171" y="282" width="3" height="26" fill="#90b2fe"/><rect x="174" y="282" width="3" height="26" fill="#9abbff"/><rect x="177" y="282" width="2" height="26" fill="#8caffe"/><rect x="179" y="282" width="3" height="26" fill="#9bbcff"/><rect x="182" y="282" width="2" height="26" fill="#8fb1fe"/><rect x="184" y="282" width="3" height="26" fill="#9dbdff"/><rect x="187" y="282" width="3" height="26" fill="#92b4fe"/><rect x="190" y="282" width="2" height="26" fill="#94b6ff"/><rect x="192" y="282" width="3" height="26" fill="#90b2fe"/><rect x="195" y="282" width="3" height="26" fill="#92b4fe"/><rect x="198" y="282" width="5" height="26" fill="#8badfd"/><rect x="203" y="282" width="2" height="26" fill="#81a4fb"/><rect x="205" y="282" width="3" height="26" fill="#8db0fe"/><rect x="208" y="282" width="3" height="26" fill="#8caffe"/><rect x="211" y="282" width="2" height="26" fill="#93b5fe"/><rect x="213" y="282" width="3" height="26" fill="#98b9ff"/><rect x="216" y="282" width="3" height="26" fill="#97b8ff"/><rect x="219" y="282" width="2" height="26" fill="#89acfd"/><rect x="221" y="282" width="5" height="26" fill="#9abbff"/><rect x="226" y="282" width="3" height="26" fill="#93b5fe"/><rect x="229" y="282" width="8" height="26" fill="#8fb1fe"/><rect x="237" y="282" width="3" height="26" fill="#8caffe"/><rect x="240" y="282" width="2" height="26" fill="#93b5fe"/><rect x="242" y="282" width="5" height="26" fill="#90b2fe"/><rect x="247" y="282" width="3" height="26" fill="#9abbff"/><rect x="250" y="282" width="3" height="26" fill="#8caffe"/><rect x="253" y="282" width="2" height="26" fill="#89acfd"/><rect x="255" y="282" width="3" height="26" fill="#9fbfff"/><rect x="258" y="282" width="1" height="26" fill="#93b5fe"/><rect x="259" y="282" width="2" height="26" fill="#84a7fc"/><rect x="261" y="282" width="2" height="26" fill="#8db0fe"/><rect x="263" y="282" width="3" height="26" fill="#84a7fc"/><rect x="266" y="282" width="5" height="26" fill="#7b9ff9"/><rect x="271" y="282" width="3" height="26" fill="#80a3fa"/><rect x="274" y="282" width="2" height="26" fill="#88abfd"/><rect x="276" y="282" width="2" height="26" fill="#80a3fa"/><rect x="278" y="282" width="1" height="26" fill="#7295f4"/><rect x="279" y="282" width="3" height="26" fill="#6f92f3"/><rect x="282" y="282" width="2" height="26" fill="#81a4fb"/><rect x="284" y="282" width="3" height="26" fill="#6f92f3"/><rect x="287" y="282" width="2" height="26" fill="#7699f6"/><rect x="289" y="282" width="3" height="26" fill="#6f92f3"/><rect x="292" y="282" width="3" height="26" fill="#6e90f2"/><rect x="295" y="282" width="2" height="26" fill="#799cf8"/><rect x="297" y="282" width="3" height="26" fill="#7a9df8"/><rect x="300" y="282" width="3" height="26" fill="#84a7fc"/><rect x="303" y="282" width="2" height="26" fill="#82a6fb"/><rect x="305" y="282" width="5" height="26" fill="#9bbcff"/></svg><div class="sil"></div>
<div class="t" style="font-size:106px;transform:matrix(0.9043,0,0,1.0153,154.60,37.42)">A</div>
<div class="t" style="font-size:106px;transform:matrix(0.9161,0,0,0.9973,468.86,38.95)">B</div>
<div class="t" style="font-size:106px;transform:matrix(0.9224,0,0,0.9960,835.29,38.96)">C</div>
<div class="t" style="font-size:106px;transform:matrix(0.8914,0,0,0.9960,1176.44,38.96)">G</div>
<div class="t" style="font-size:106px;transform:matrix(0.7789,0,0,0.9959,1526.89,38.97)">E</div>
<svg style="position:absolute;left:0;top:0" width="700" height="150"><polygon points="538.1,55.9 585.0,55.9 585.0,64.9 552.5,128.7 543.2,128.7 576.0,63.9 538.1,63.9" fill="#000"/></svg>
<div class="t" style="font-size:94px;transform:matrix(1.0091,0,0,1.0229,1841.96,42.07)">e</div>
<div class="t" style="font-size:94px;transform:matrix(1.0100,0,0,1.0229,1897.04,42.07)">n</div>
<div class="t" style="font-size:94px;transform:matrix(1.0825,0,0,1.0229,1951.07,42.07)">c</div>
<div class="t" style="font-size:94px;transform:matrix(1.0205,0,0,1.0229,2003.92,42.07)">e</div>
<svg style="position:absolute;left:1780px;top:40px" width="50" height="100"><rect x="23.4" y="31.9" width="7.7" height="50.8" fill="#000"/><circle cx="27.3" cy="17.6" r="5.6" fill="#000"/></svg>
<div class="t" style="font-size:94px;transform:matrix(0.9151,0,0,1.0478,1736.92,40.08)">S</div>
<svg style="position:absolute;left:1800px;top:40px" width="50" height="100"><rect x="25.9" y="14.3" width="7.9" height="68.4" fill="#000"/></svg>

</body></html>
